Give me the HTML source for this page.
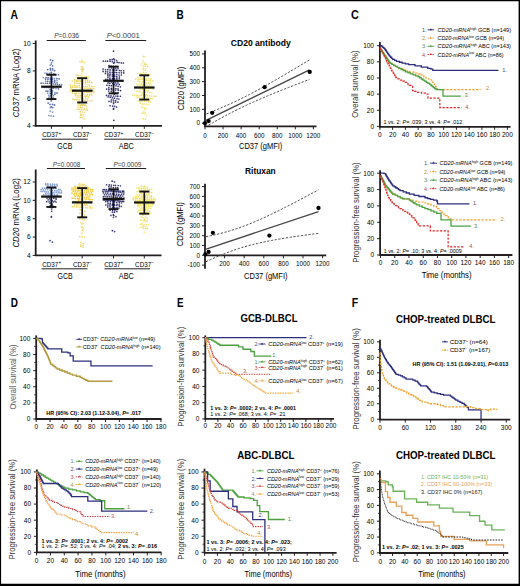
<!DOCTYPE html>
<html><head><meta charset="utf-8"><title>figure</title><style>html,body{margin:0;padding:0;background:#fff;width:520px;height:586px;overflow:hidden}</style></head><body><svg width="520" height="586" viewBox="0 0 520 586" font-family='"Liberation Sans", sans-serif' style="display:block">
<rect x="0" y="0" width="520" height="586" fill="#ffffff"/>
<text x="10.40" y="18.70" font-size="12.6" font-weight="bold" fill="#000" textLength="7.50" lengthAdjust="spacingAndGlyphs">A</text>
<text x="176.50" y="18.60" font-size="12.6" font-weight="bold" fill="#000" textLength="7.20" lengthAdjust="spacingAndGlyphs">B</text>
<text x="351.00" y="18.80" font-size="12.6" font-weight="bold" fill="#000" textLength="7.80" lengthAdjust="spacingAndGlyphs">C</text>
<text x="10.70" y="307.40" font-size="12.6" font-weight="bold" fill="#000" textLength="7.20" lengthAdjust="spacingAndGlyphs">D</text>
<text x="176.90" y="307.40" font-size="12.6" font-weight="bold" fill="#000" textLength="6.50" lengthAdjust="spacingAndGlyphs">E</text>
<text x="351.70" y="307.40" font-size="12.6" font-weight="bold" fill="#000" textLength="6.40" lengthAdjust="spacingAndGlyphs">F</text>
<line x1="35.70" y1="40.50" x2="35.70" y2="126.50" stroke="#231f20" stroke-width="1.8" stroke-linecap="butt"/>
<line x1="32.70" y1="43.48" x2="35.70" y2="43.48" stroke="#231f20" stroke-width="1.0" stroke-linecap="butt"/>
<text x="30.70" y="45.86" font-size="6.6" text-anchor="end">10</text>
<line x1="32.70" y1="70.92" x2="35.70" y2="70.92" stroke="#231f20" stroke-width="1.0" stroke-linecap="butt"/>
<text x="30.70" y="73.30" font-size="6.6" text-anchor="end">8</text>
<line x1="32.70" y1="98.36" x2="35.70" y2="98.36" stroke="#231f20" stroke-width="1.0" stroke-linecap="butt"/>
<text x="30.70" y="100.74" font-size="6.6" text-anchor="end">6</text>
<line x1="32.70" y1="125.80" x2="35.70" y2="125.80" stroke="#231f20" stroke-width="1.0" stroke-linecap="butt"/>
<text x="30.70" y="128.18" font-size="6.6" text-anchor="end">4</text>
<line x1="35.00" y1="125.80" x2="162.00" y2="125.80" stroke="#231f20" stroke-width="1.8" stroke-linecap="butt"/>
<line x1="51.40" y1="125.80" x2="51.40" y2="128.80" stroke="#231f20" stroke-width="1.0" stroke-linecap="butt"/>
<line x1="82.20" y1="125.80" x2="82.20" y2="128.80" stroke="#231f20" stroke-width="1.0" stroke-linecap="butt"/>
<line x1="113.50" y1="125.80" x2="113.50" y2="128.80" stroke="#231f20" stroke-width="1.0" stroke-linecap="butt"/>
<line x1="144.30" y1="125.80" x2="144.30" y2="128.80" stroke="#231f20" stroke-width="1.0" stroke-linecap="butt"/>
<circle cx="50.55" cy="59.94" r="0.85" fill="#40589a" fill-opacity="0.9"/>
<circle cx="52.79" cy="60.63" r="0.85" fill="#40589a" fill-opacity="0.9"/>
<circle cx="51.67" cy="62.66" r="0.85" fill="#6a84bc" fill-opacity="0.9"/>
<circle cx="51.23" cy="64.17" r="0.85" fill="#6a84bc" fill-opacity="0.9"/>
<circle cx="50.09" cy="65.24" r="0.85" fill="#6a84bc" fill-opacity="0.9"/>
<circle cx="52.60" cy="65.83" r="0.85" fill="#40589a" fill-opacity="0.9"/>
<circle cx="50.48" cy="68.42" r="0.85" fill="#40589a" fill-opacity="0.9"/>
<circle cx="52.62" cy="68.76" r="0.85" fill="#40589a" fill-opacity="0.9"/>
<circle cx="47.78" cy="69.61" r="0.85" fill="#40589a" fill-opacity="0.9"/>
<circle cx="50.52" cy="69.95" r="0.85" fill="#40589a" fill-opacity="0.9"/>
<circle cx="52.68" cy="69.98" r="0.85" fill="#40589a" fill-opacity="0.9"/>
<circle cx="54.58" cy="70.67" r="0.85" fill="#40589a" fill-opacity="0.9"/>
<circle cx="51.30" cy="72.43" r="0.85" fill="#40589a" fill-opacity="0.9"/>
<circle cx="44.93" cy="73.02" r="0.85" fill="#6a84bc" fill-opacity="0.9"/>
<circle cx="46.84" cy="73.35" r="0.85" fill="#40589a" fill-opacity="0.9"/>
<circle cx="49.28" cy="73.45" r="0.85" fill="#6a84bc" fill-opacity="0.9"/>
<circle cx="51.18" cy="73.46" r="0.85" fill="#6a84bc" fill-opacity="0.9"/>
<circle cx="53.89" cy="73.77" r="0.85" fill="#40589a" fill-opacity="0.9"/>
<circle cx="55.69" cy="74.68" r="0.85" fill="#40589a" fill-opacity="0.9"/>
<circle cx="58.44" cy="74.73" r="0.85" fill="#40589a" fill-opacity="0.9"/>
<circle cx="51.31" cy="75.11" r="0.85" fill="#40589a" fill-opacity="0.9"/>
<circle cx="43.30" cy="77.53" r="0.85" fill="#6a84bc" fill-opacity="0.9"/>
<circle cx="46.06" cy="77.60" r="0.85" fill="#40589a" fill-opacity="0.9"/>
<circle cx="48.04" cy="77.86" r="0.85" fill="#40589a" fill-opacity="0.9"/>
<circle cx="50.24" cy="77.98" r="0.85" fill="#40589a" fill-opacity="0.9"/>
<circle cx="52.72" cy="78.04" r="0.85" fill="#6a84bc" fill-opacity="0.9"/>
<circle cx="54.63" cy="78.60" r="0.85" fill="#6a84bc" fill-opacity="0.9"/>
<circle cx="56.87" cy="78.65" r="0.85" fill="#40589a" fill-opacity="0.9"/>
<circle cx="59.13" cy="78.78" r="0.85" fill="#40589a" fill-opacity="0.9"/>
<circle cx="45.55" cy="79.03" r="0.85" fill="#40589a" fill-opacity="0.9"/>
<circle cx="47.94" cy="79.29" r="0.85" fill="#40589a" fill-opacity="0.9"/>
<circle cx="50.33" cy="79.54" r="0.85" fill="#40589a" fill-opacity="0.9"/>
<circle cx="52.48" cy="79.72" r="0.85" fill="#40589a" fill-opacity="0.9"/>
<circle cx="54.78" cy="80.62" r="0.85" fill="#40589a" fill-opacity="0.9"/>
<circle cx="57.04" cy="80.76" r="0.85" fill="#6a84bc" fill-opacity="0.9"/>
<circle cx="45.74" cy="81.18" r="0.85" fill="#6a84bc" fill-opacity="0.9"/>
<circle cx="47.73" cy="81.30" r="0.85" fill="#40589a" fill-opacity="0.9"/>
<circle cx="50.08" cy="81.63" r="0.85" fill="#40589a" fill-opacity="0.9"/>
<circle cx="52.66" cy="81.73" r="0.85" fill="#40589a" fill-opacity="0.9"/>
<circle cx="54.67" cy="82.15" r="0.85" fill="#40589a" fill-opacity="0.9"/>
<circle cx="57.06" cy="82.82" r="0.85" fill="#40589a" fill-opacity="0.9"/>
<circle cx="41.16" cy="83.21" r="0.85" fill="#40589a" fill-opacity="0.9"/>
<circle cx="43.25" cy="83.22" r="0.85" fill="#6a84bc" fill-opacity="0.9"/>
<circle cx="45.56" cy="83.27" r="0.85" fill="#40589a" fill-opacity="0.9"/>
<circle cx="47.44" cy="83.28" r="0.85" fill="#40589a" fill-opacity="0.9"/>
<circle cx="49.65" cy="83.35" r="0.85" fill="#40589a" fill-opacity="0.9"/>
<circle cx="51.47" cy="83.36" r="0.85" fill="#40589a" fill-opacity="0.9"/>
<circle cx="53.41" cy="84.02" r="0.85" fill="#40589a" fill-opacity="0.9"/>
<circle cx="55.37" cy="84.10" r="0.85" fill="#40589a" fill-opacity="0.9"/>
<circle cx="57.39" cy="84.50" r="0.85" fill="#40589a" fill-opacity="0.9"/>
<circle cx="59.52" cy="84.71" r="0.85" fill="#40589a" fill-opacity="0.9"/>
<circle cx="61.67" cy="84.72" r="0.85" fill="#6a84bc" fill-opacity="0.9"/>
<circle cx="50.31" cy="86.32" r="0.85" fill="#40589a" fill-opacity="0.9"/>
<circle cx="52.73" cy="86.69" r="0.85" fill="#6a84bc" fill-opacity="0.9"/>
<circle cx="44.42" cy="87.34" r="0.85" fill="#40589a" fill-opacity="0.9"/>
<circle cx="46.64" cy="87.57" r="0.85" fill="#6a84bc" fill-opacity="0.9"/>
<circle cx="48.89" cy="87.58" r="0.85" fill="#40589a" fill-opacity="0.9"/>
<circle cx="51.57" cy="88.09" r="0.85" fill="#40589a" fill-opacity="0.9"/>
<circle cx="53.44" cy="88.19" r="0.85" fill="#40589a" fill-opacity="0.9"/>
<circle cx="56.00" cy="88.58" r="0.85" fill="#6a84bc" fill-opacity="0.9"/>
<circle cx="58.38" cy="88.80" r="0.85" fill="#40589a" fill-opacity="0.9"/>
<circle cx="50.11" cy="89.68" r="0.85" fill="#40589a" fill-opacity="0.9"/>
<circle cx="52.46" cy="90.87" r="0.85" fill="#40589a" fill-opacity="0.9"/>
<circle cx="46.07" cy="91.11" r="0.85" fill="#40589a" fill-opacity="0.9"/>
<circle cx="47.82" cy="91.20" r="0.85" fill="#40589a" fill-opacity="0.9"/>
<circle cx="50.28" cy="91.64" r="0.85" fill="#6a84bc" fill-opacity="0.9"/>
<circle cx="52.34" cy="91.91" r="0.85" fill="#6a84bc" fill-opacity="0.9"/>
<circle cx="54.91" cy="92.50" r="0.85" fill="#6a84bc" fill-opacity="0.9"/>
<circle cx="57.06" cy="92.92" r="0.85" fill="#40589a" fill-opacity="0.9"/>
<circle cx="47.74" cy="93.25" r="0.85" fill="#6a84bc" fill-opacity="0.9"/>
<circle cx="50.35" cy="93.51" r="0.85" fill="#40589a" fill-opacity="0.9"/>
<circle cx="52.26" cy="94.00" r="0.85" fill="#40589a" fill-opacity="0.9"/>
<circle cx="54.95" cy="94.13" r="0.85" fill="#40589a" fill-opacity="0.9"/>
<circle cx="48.91" cy="95.26" r="0.85" fill="#6a84bc" fill-opacity="0.9"/>
<circle cx="51.12" cy="95.57" r="0.85" fill="#40589a" fill-opacity="0.9"/>
<circle cx="53.51" cy="95.69" r="0.85" fill="#6a84bc" fill-opacity="0.9"/>
<circle cx="49.10" cy="97.00" r="0.85" fill="#40589a" fill-opacity="0.9"/>
<circle cx="51.59" cy="97.05" r="0.85" fill="#6a84bc" fill-opacity="0.9"/>
<circle cx="53.44" cy="98.14" r="0.85" fill="#40589a" fill-opacity="0.9"/>
<circle cx="51.44" cy="100.09" r="0.85" fill="#40589a" fill-opacity="0.9"/>
<circle cx="51.15" cy="101.07" r="0.85" fill="#6a84bc" fill-opacity="0.9"/>
<circle cx="48.14" cy="103.05" r="0.85" fill="#40589a" fill-opacity="0.9"/>
<circle cx="50.02" cy="104.40" r="0.85" fill="#40589a" fill-opacity="0.9"/>
<circle cx="52.61" cy="104.45" r="0.85" fill="#40589a" fill-opacity="0.9"/>
<circle cx="54.53" cy="104.88" r="0.85" fill="#40589a" fill-opacity="0.9"/>
<circle cx="51.14" cy="106.96" r="0.85" fill="#40589a" fill-opacity="0.9"/>
<circle cx="50.25" cy="107.55" r="0.85" fill="#6a84bc" fill-opacity="0.9"/>
<circle cx="52.56" cy="107.58" r="0.85" fill="#40589a" fill-opacity="0.9"/>
<circle cx="50.14" cy="111.10" r="0.85" fill="#6a84bc" fill-opacity="0.9"/>
<circle cx="52.54" cy="112.04" r="0.85" fill="#6a84bc" fill-opacity="0.9"/>
<circle cx="48.92" cy="115.51" r="0.85" fill="#6a84bc" fill-opacity="0.9"/>
<circle cx="51.13" cy="115.92" r="0.85" fill="#6a84bc" fill-opacity="0.9"/>
<circle cx="53.54" cy="116.20" r="0.85" fill="#6a84bc" fill-opacity="0.9"/>
<circle cx="82.30" cy="60.64" r="0.85" fill="#f0da74" fill-opacity="0.95"/>
<circle cx="80.02" cy="61.71" r="0.85" fill="#f0da74" fill-opacity="0.95"/>
<circle cx="82.00" cy="62.16" r="0.85" fill="#f0da74" fill-opacity="0.95"/>
<circle cx="84.17" cy="62.46" r="0.85" fill="#f0da74" fill-opacity="0.95"/>
<circle cx="82.47" cy="66.65" r="0.85" fill="#f0da74" fill-opacity="0.95"/>
<circle cx="81.43" cy="67.11" r="0.85" fill="#f0da74" fill-opacity="0.95"/>
<circle cx="83.16" cy="68.31" r="0.85" fill="#e8cc50" fill-opacity="0.95"/>
<circle cx="81.34" cy="69.46" r="0.85" fill="#e8cc50" fill-opacity="0.95"/>
<circle cx="82.98" cy="69.62" r="0.85" fill="#e8cc50" fill-opacity="0.95"/>
<circle cx="82.12" cy="71.30" r="0.85" fill="#e8cc50" fill-opacity="0.95"/>
<circle cx="82.02" cy="73.47" r="0.85" fill="#f0da74" fill-opacity="0.95"/>
<circle cx="76.14" cy="75.02" r="0.85" fill="#f0da74" fill-opacity="0.95"/>
<circle cx="77.95" cy="75.46" r="0.85" fill="#e8cc50" fill-opacity="0.95"/>
<circle cx="80.26" cy="75.49" r="0.85" fill="#f0da74" fill-opacity="0.95"/>
<circle cx="81.92" cy="76.31" r="0.85" fill="#f0da74" fill-opacity="0.95"/>
<circle cx="84.55" cy="76.51" r="0.85" fill="#f0da74" fill-opacity="0.95"/>
<circle cx="86.55" cy="76.51" r="0.85" fill="#e8cc50" fill-opacity="0.95"/>
<circle cx="88.40" cy="76.90" r="0.85" fill="#f0da74" fill-opacity="0.95"/>
<circle cx="77.22" cy="77.62" r="0.85" fill="#e8cc50" fill-opacity="0.95"/>
<circle cx="78.91" cy="77.94" r="0.85" fill="#e8cc50" fill-opacity="0.95"/>
<circle cx="81.04" cy="78.10" r="0.85" fill="#f0da74" fill-opacity="0.95"/>
<circle cx="82.95" cy="78.46" r="0.85" fill="#e8cc50" fill-opacity="0.95"/>
<circle cx="85.60" cy="78.73" r="0.85" fill="#e8cc50" fill-opacity="0.95"/>
<circle cx="87.72" cy="78.92" r="0.85" fill="#f0da74" fill-opacity="0.95"/>
<circle cx="74.69" cy="79.77" r="0.85" fill="#e8cc50" fill-opacity="0.95"/>
<circle cx="77.22" cy="79.98" r="0.85" fill="#e8cc50" fill-opacity="0.95"/>
<circle cx="78.98" cy="80.11" r="0.85" fill="#f0da74" fill-opacity="0.95"/>
<circle cx="81.11" cy="80.31" r="0.85" fill="#e8cc50" fill-opacity="0.95"/>
<circle cx="83.51" cy="80.59" r="0.85" fill="#f0da74" fill-opacity="0.95"/>
<circle cx="85.53" cy="80.60" r="0.85" fill="#e8cc50" fill-opacity="0.95"/>
<circle cx="87.64" cy="80.73" r="0.85" fill="#e8cc50" fill-opacity="0.95"/>
<circle cx="89.61" cy="80.86" r="0.85" fill="#f0da74" fill-opacity="0.95"/>
<circle cx="72.64" cy="81.01" r="0.85" fill="#f0da74" fill-opacity="0.95"/>
<circle cx="75.02" cy="81.13" r="0.85" fill="#f0da74" fill-opacity="0.95"/>
<circle cx="76.77" cy="81.18" r="0.85" fill="#e8cc50" fill-opacity="0.95"/>
<circle cx="78.90" cy="81.24" r="0.85" fill="#f0da74" fill-opacity="0.95"/>
<circle cx="80.87" cy="81.45" r="0.85" fill="#e8cc50" fill-opacity="0.95"/>
<circle cx="83.15" cy="82.07" r="0.85" fill="#e8cc50" fill-opacity="0.95"/>
<circle cx="85.58" cy="82.14" r="0.85" fill="#e8cc50" fill-opacity="0.95"/>
<circle cx="87.31" cy="82.24" r="0.85" fill="#f0da74" fill-opacity="0.95"/>
<circle cx="89.31" cy="82.45" r="0.85" fill="#e8cc50" fill-opacity="0.95"/>
<circle cx="91.78" cy="82.65" r="0.85" fill="#e8cc50" fill-opacity="0.95"/>
<circle cx="74.69" cy="83.03" r="0.85" fill="#e8cc50" fill-opacity="0.95"/>
<circle cx="77.02" cy="83.30" r="0.85" fill="#e8cc50" fill-opacity="0.95"/>
<circle cx="79.20" cy="83.42" r="0.85" fill="#e8cc50" fill-opacity="0.95"/>
<circle cx="81.25" cy="83.67" r="0.85" fill="#f0da74" fill-opacity="0.95"/>
<circle cx="83.45" cy="83.74" r="0.85" fill="#f0da74" fill-opacity="0.95"/>
<circle cx="85.39" cy="83.75" r="0.85" fill="#f0da74" fill-opacity="0.95"/>
<circle cx="87.59" cy="84.49" r="0.85" fill="#f0da74" fill-opacity="0.95"/>
<circle cx="89.40" cy="84.90" r="0.85" fill="#f0da74" fill-opacity="0.95"/>
<circle cx="70.49" cy="85.19" r="0.85" fill="#e8cc50" fill-opacity="0.95"/>
<circle cx="72.84" cy="85.68" r="0.85" fill="#f0da74" fill-opacity="0.95"/>
<circle cx="74.82" cy="85.72" r="0.85" fill="#e8cc50" fill-opacity="0.95"/>
<circle cx="76.98" cy="85.75" r="0.85" fill="#f0da74" fill-opacity="0.95"/>
<circle cx="79.25" cy="85.75" r="0.85" fill="#e8cc50" fill-opacity="0.95"/>
<circle cx="81.45" cy="85.91" r="0.85" fill="#f0da74" fill-opacity="0.95"/>
<circle cx="83.23" cy="86.17" r="0.85" fill="#e8cc50" fill-opacity="0.95"/>
<circle cx="85.54" cy="86.42" r="0.85" fill="#e8cc50" fill-opacity="0.95"/>
<circle cx="87.15" cy="86.50" r="0.85" fill="#f0da74" fill-opacity="0.95"/>
<circle cx="89.29" cy="86.53" r="0.85" fill="#f0da74" fill-opacity="0.95"/>
<circle cx="91.89" cy="86.56" r="0.85" fill="#e8cc50" fill-opacity="0.95"/>
<circle cx="93.96" cy="86.72" r="0.85" fill="#f0da74" fill-opacity="0.95"/>
<circle cx="70.92" cy="87.17" r="0.85" fill="#e8cc50" fill-opacity="0.95"/>
<circle cx="72.33" cy="87.21" r="0.85" fill="#e8cc50" fill-opacity="0.95"/>
<circle cx="74.51" cy="87.26" r="0.85" fill="#f0da74" fill-opacity="0.95"/>
<circle cx="76.07" cy="87.32" r="0.85" fill="#e8cc50" fill-opacity="0.95"/>
<circle cx="77.61" cy="87.35" r="0.85" fill="#f0da74" fill-opacity="0.95"/>
<circle cx="79.33" cy="87.36" r="0.85" fill="#f0da74" fill-opacity="0.95"/>
<circle cx="81.17" cy="87.99" r="0.85" fill="#e8cc50" fill-opacity="0.95"/>
<circle cx="83.18" cy="88.04" r="0.85" fill="#f0da74" fill-opacity="0.95"/>
<circle cx="84.56" cy="88.16" r="0.85" fill="#f0da74" fill-opacity="0.95"/>
<circle cx="86.73" cy="88.30" r="0.85" fill="#f0da74" fill-opacity="0.95"/>
<circle cx="88.28" cy="88.31" r="0.85" fill="#f0da74" fill-opacity="0.95"/>
<circle cx="90.34" cy="88.40" r="0.85" fill="#e8cc50" fill-opacity="0.95"/>
<circle cx="91.67" cy="88.53" r="0.85" fill="#f0da74" fill-opacity="0.95"/>
<circle cx="93.64" cy="88.57" r="0.85" fill="#e8cc50" fill-opacity="0.95"/>
<circle cx="70.78" cy="89.04" r="0.85" fill="#f0da74" fill-opacity="0.95"/>
<circle cx="71.78" cy="89.26" r="0.85" fill="#e8cc50" fill-opacity="0.95"/>
<circle cx="73.20" cy="89.88" r="0.85" fill="#f0da74" fill-opacity="0.95"/>
<circle cx="74.42" cy="89.93" r="0.85" fill="#e8cc50" fill-opacity="0.95"/>
<circle cx="75.70" cy="90.17" r="0.85" fill="#e8cc50" fill-opacity="0.95"/>
<circle cx="77.00" cy="90.32" r="0.85" fill="#e8cc50" fill-opacity="0.95"/>
<circle cx="78.59" cy="90.35" r="0.85" fill="#e8cc50" fill-opacity="0.95"/>
<circle cx="79.56" cy="90.41" r="0.85" fill="#f0da74" fill-opacity="0.95"/>
<circle cx="81.06" cy="90.43" r="0.85" fill="#f0da74" fill-opacity="0.95"/>
<circle cx="81.90" cy="90.45" r="0.85" fill="#e8cc50" fill-opacity="0.95"/>
<circle cx="83.43" cy="90.46" r="0.85" fill="#e8cc50" fill-opacity="0.95"/>
<circle cx="84.70" cy="90.50" r="0.85" fill="#e8cc50" fill-opacity="0.95"/>
<circle cx="86.01" cy="90.59" r="0.85" fill="#f0da74" fill-opacity="0.95"/>
<circle cx="87.02" cy="90.60" r="0.85" fill="#e8cc50" fill-opacity="0.95"/>
<circle cx="88.67" cy="90.68" r="0.85" fill="#e8cc50" fill-opacity="0.95"/>
<circle cx="89.62" cy="90.81" r="0.85" fill="#e8cc50" fill-opacity="0.95"/>
<circle cx="91.07" cy="90.81" r="0.85" fill="#e8cc50" fill-opacity="0.95"/>
<circle cx="92.21" cy="90.96" r="0.85" fill="#f0da74" fill-opacity="0.95"/>
<circle cx="93.71" cy="90.99" r="0.85" fill="#e8cc50" fill-opacity="0.95"/>
<circle cx="70.47" cy="91.08" r="0.85" fill="#e8cc50" fill-opacity="0.95"/>
<circle cx="72.80" cy="91.28" r="0.85" fill="#e8cc50" fill-opacity="0.95"/>
<circle cx="74.35" cy="91.38" r="0.85" fill="#f0da74" fill-opacity="0.95"/>
<circle cx="76.72" cy="91.41" r="0.85" fill="#e8cc50" fill-opacity="0.95"/>
<circle cx="78.36" cy="91.56" r="0.85" fill="#f0da74" fill-opacity="0.95"/>
<circle cx="80.54" cy="91.83" r="0.85" fill="#f0da74" fill-opacity="0.95"/>
<circle cx="82.44" cy="92.08" r="0.85" fill="#e8cc50" fill-opacity="0.95"/>
<circle cx="84.31" cy="92.23" r="0.85" fill="#f0da74" fill-opacity="0.95"/>
<circle cx="86.20" cy="92.24" r="0.85" fill="#f0da74" fill-opacity="0.95"/>
<circle cx="87.89" cy="92.44" r="0.85" fill="#e8cc50" fill-opacity="0.95"/>
<circle cx="90.06" cy="92.70" r="0.85" fill="#f0da74" fill-opacity="0.95"/>
<circle cx="91.61" cy="92.78" r="0.85" fill="#f0da74" fill-opacity="0.95"/>
<circle cx="93.71" cy="92.86" r="0.85" fill="#f0da74" fill-opacity="0.95"/>
<circle cx="72.52" cy="93.22" r="0.85" fill="#f0da74" fill-opacity="0.95"/>
<circle cx="74.98" cy="93.40" r="0.85" fill="#e8cc50" fill-opacity="0.95"/>
<circle cx="76.67" cy="93.53" r="0.85" fill="#e8cc50" fill-opacity="0.95"/>
<circle cx="79.20" cy="93.57" r="0.85" fill="#f0da74" fill-opacity="0.95"/>
<circle cx="81.35" cy="93.79" r="0.85" fill="#f0da74" fill-opacity="0.95"/>
<circle cx="83.31" cy="94.10" r="0.85" fill="#e8cc50" fill-opacity="0.95"/>
<circle cx="85.43" cy="94.86" r="0.85" fill="#f0da74" fill-opacity="0.95"/>
<circle cx="87.40" cy="94.88" r="0.85" fill="#e8cc50" fill-opacity="0.95"/>
<circle cx="89.51" cy="94.90" r="0.85" fill="#e8cc50" fill-opacity="0.95"/>
<circle cx="91.62" cy="95.00" r="0.85" fill="#e8cc50" fill-opacity="0.95"/>
<circle cx="75.61" cy="95.42" r="0.85" fill="#e8cc50" fill-opacity="0.95"/>
<circle cx="77.99" cy="95.61" r="0.85" fill="#f0da74" fill-opacity="0.95"/>
<circle cx="80.26" cy="95.68" r="0.85" fill="#e8cc50" fill-opacity="0.95"/>
<circle cx="82.17" cy="95.82" r="0.85" fill="#f0da74" fill-opacity="0.95"/>
<circle cx="84.28" cy="96.23" r="0.85" fill="#f0da74" fill-opacity="0.95"/>
<circle cx="86.18" cy="96.44" r="0.85" fill="#e8cc50" fill-opacity="0.95"/>
<circle cx="88.26" cy="96.86" r="0.85" fill="#e8cc50" fill-opacity="0.95"/>
<circle cx="76.96" cy="97.13" r="0.85" fill="#f0da74" fill-opacity="0.95"/>
<circle cx="79.13" cy="97.47" r="0.85" fill="#f0da74" fill-opacity="0.95"/>
<circle cx="81.29" cy="97.79" r="0.85" fill="#e8cc50" fill-opacity="0.95"/>
<circle cx="83.26" cy="98.13" r="0.85" fill="#f0da74" fill-opacity="0.95"/>
<circle cx="85.35" cy="98.41" r="0.85" fill="#f0da74" fill-opacity="0.95"/>
<circle cx="87.72" cy="98.82" r="0.85" fill="#f0da74" fill-opacity="0.95"/>
<circle cx="72.96" cy="99.13" r="0.85" fill="#e8cc50" fill-opacity="0.95"/>
<circle cx="74.99" cy="99.49" r="0.85" fill="#e8cc50" fill-opacity="0.95"/>
<circle cx="76.77" cy="99.71" r="0.85" fill="#e8cc50" fill-opacity="0.95"/>
<circle cx="79.05" cy="99.74" r="0.85" fill="#e8cc50" fill-opacity="0.95"/>
<circle cx="81.40" cy="99.96" r="0.85" fill="#f0da74" fill-opacity="0.95"/>
<circle cx="83.42" cy="100.12" r="0.85" fill="#e8cc50" fill-opacity="0.95"/>
<circle cx="85.09" cy="100.16" r="0.85" fill="#f0da74" fill-opacity="0.95"/>
<circle cx="87.60" cy="100.63" r="0.85" fill="#f0da74" fill-opacity="0.95"/>
<circle cx="89.79" cy="100.86" r="0.85" fill="#f0da74" fill-opacity="0.95"/>
<circle cx="91.84" cy="100.89" r="0.85" fill="#f0da74" fill-opacity="0.95"/>
<circle cx="79.05" cy="101.78" r="0.85" fill="#e8cc50" fill-opacity="0.95"/>
<circle cx="80.97" cy="102.12" r="0.85" fill="#f0da74" fill-opacity="0.95"/>
<circle cx="83.25" cy="102.54" r="0.85" fill="#f0da74" fill-opacity="0.95"/>
<circle cx="85.07" cy="102.58" r="0.85" fill="#f0da74" fill-opacity="0.95"/>
<circle cx="78.85" cy="103.66" r="0.85" fill="#e8cc50" fill-opacity="0.95"/>
<circle cx="81.26" cy="104.35" r="0.85" fill="#e8cc50" fill-opacity="0.95"/>
<circle cx="83.05" cy="104.55" r="0.85" fill="#e8cc50" fill-opacity="0.95"/>
<circle cx="85.12" cy="105.00" r="0.85" fill="#e8cc50" fill-opacity="0.95"/>
<circle cx="78.08" cy="105.15" r="0.85" fill="#f0da74" fill-opacity="0.95"/>
<circle cx="80.32" cy="105.17" r="0.85" fill="#e8cc50" fill-opacity="0.95"/>
<circle cx="82.25" cy="105.24" r="0.85" fill="#e8cc50" fill-opacity="0.95"/>
<circle cx="84.06" cy="105.31" r="0.85" fill="#e8cc50" fill-opacity="0.95"/>
<circle cx="86.48" cy="106.41" r="0.85" fill="#f0da74" fill-opacity="0.95"/>
<circle cx="78.18" cy="107.02" r="0.85" fill="#f0da74" fill-opacity="0.95"/>
<circle cx="80.39" cy="107.33" r="0.85" fill="#e8cc50" fill-opacity="0.95"/>
<circle cx="82.12" cy="107.60" r="0.85" fill="#e8cc50" fill-opacity="0.95"/>
<circle cx="84.27" cy="108.89" r="0.85" fill="#f0da74" fill-opacity="0.95"/>
<circle cx="86.55" cy="108.96" r="0.85" fill="#f0da74" fill-opacity="0.95"/>
<circle cx="77.14" cy="109.09" r="0.85" fill="#f0da74" fill-opacity="0.95"/>
<circle cx="79.13" cy="109.20" r="0.85" fill="#e8cc50" fill-opacity="0.95"/>
<circle cx="81.20" cy="109.54" r="0.85" fill="#e8cc50" fill-opacity="0.95"/>
<circle cx="83.14" cy="109.73" r="0.85" fill="#f0da74" fill-opacity="0.95"/>
<circle cx="85.07" cy="110.01" r="0.85" fill="#f0da74" fill-opacity="0.95"/>
<circle cx="87.52" cy="110.36" r="0.85" fill="#e8cc50" fill-opacity="0.95"/>
<circle cx="80.11" cy="111.76" r="0.85" fill="#e8cc50" fill-opacity="0.95"/>
<circle cx="81.98" cy="112.01" r="0.85" fill="#f0da74" fill-opacity="0.95"/>
<circle cx="84.39" cy="112.47" r="0.85" fill="#f0da74" fill-opacity="0.95"/>
<circle cx="80.85" cy="114.20" r="0.85" fill="#f0da74" fill-opacity="0.95"/>
<circle cx="83.01" cy="114.37" r="0.85" fill="#f0da74" fill-opacity="0.95"/>
<circle cx="80.98" cy="115.14" r="0.85" fill="#e8cc50" fill-opacity="0.95"/>
<circle cx="83.30" cy="115.78" r="0.85" fill="#f0da74" fill-opacity="0.95"/>
<circle cx="80.17" cy="117.26" r="0.85" fill="#e8cc50" fill-opacity="0.95"/>
<circle cx="81.98" cy="117.69" r="0.85" fill="#e8cc50" fill-opacity="0.95"/>
<circle cx="84.15" cy="118.92" r="0.85" fill="#f0da74" fill-opacity="0.95"/>
<circle cx="113.51" cy="51.13" r="0.85" fill="#1c1c58" fill-opacity="0.9"/>
<circle cx="113.70" cy="58.93" r="0.85" fill="#1c1c58" fill-opacity="0.9"/>
<circle cx="110.07" cy="59.49" r="0.85" fill="#1c1c58" fill-opacity="0.9"/>
<circle cx="112.20" cy="59.57" r="0.85" fill="#1c1c58" fill-opacity="0.9"/>
<circle cx="114.56" cy="59.82" r="0.85" fill="#1c1c58" fill-opacity="0.9"/>
<circle cx="116.65" cy="60.52" r="0.85" fill="#1c1c58" fill-opacity="0.9"/>
<circle cx="103.29" cy="61.18" r="0.85" fill="#34347a" fill-opacity="0.9"/>
<circle cx="105.49" cy="61.20" r="0.85" fill="#34347a" fill-opacity="0.9"/>
<circle cx="107.58" cy="61.21" r="0.85" fill="#1c1c58" fill-opacity="0.9"/>
<circle cx="110.08" cy="61.22" r="0.85" fill="#1c1c58" fill-opacity="0.9"/>
<circle cx="112.29" cy="61.65" r="0.85" fill="#34347a" fill-opacity="0.9"/>
<circle cx="114.46" cy="62.19" r="0.85" fill="#1c1c58" fill-opacity="0.9"/>
<circle cx="117.14" cy="62.35" r="0.85" fill="#1c1c58" fill-opacity="0.9"/>
<circle cx="118.96" cy="62.54" r="0.85" fill="#1c1c58" fill-opacity="0.9"/>
<circle cx="121.31" cy="62.96" r="0.85" fill="#34347a" fill-opacity="0.9"/>
<circle cx="123.40" cy="62.99" r="0.85" fill="#1c1c58" fill-opacity="0.9"/>
<circle cx="113.69" cy="63.21" r="0.85" fill="#1c1c58" fill-opacity="0.9"/>
<circle cx="108.98" cy="65.63" r="0.85" fill="#1c1c58" fill-opacity="0.9"/>
<circle cx="111.09" cy="66.11" r="0.85" fill="#1c1c58" fill-opacity="0.9"/>
<circle cx="113.41" cy="66.28" r="0.85" fill="#1c1c58" fill-opacity="0.9"/>
<circle cx="115.94" cy="66.41" r="0.85" fill="#1c1c58" fill-opacity="0.9"/>
<circle cx="117.98" cy="66.63" r="0.85" fill="#34347a" fill-opacity="0.9"/>
<circle cx="109.03" cy="67.73" r="0.85" fill="#34347a" fill-opacity="0.9"/>
<circle cx="111.45" cy="67.90" r="0.85" fill="#34347a" fill-opacity="0.9"/>
<circle cx="113.71" cy="68.09" r="0.85" fill="#34347a" fill-opacity="0.9"/>
<circle cx="115.68" cy="68.36" r="0.85" fill="#34347a" fill-opacity="0.9"/>
<circle cx="117.96" cy="68.60" r="0.85" fill="#34347a" fill-opacity="0.9"/>
<circle cx="103.08" cy="69.04" r="0.85" fill="#1c1c58" fill-opacity="0.9"/>
<circle cx="105.49" cy="69.69" r="0.85" fill="#34347a" fill-opacity="0.9"/>
<circle cx="107.76" cy="69.72" r="0.85" fill="#1c1c58" fill-opacity="0.9"/>
<circle cx="110.08" cy="69.92" r="0.85" fill="#1c1c58" fill-opacity="0.9"/>
<circle cx="112.47" cy="69.95" r="0.85" fill="#34347a" fill-opacity="0.9"/>
<circle cx="114.88" cy="70.00" r="0.85" fill="#1c1c58" fill-opacity="0.9"/>
<circle cx="116.61" cy="70.16" r="0.85" fill="#1c1c58" fill-opacity="0.9"/>
<circle cx="119.37" cy="70.48" r="0.85" fill="#1c1c58" fill-opacity="0.9"/>
<circle cx="121.16" cy="70.75" r="0.85" fill="#1c1c58" fill-opacity="0.9"/>
<circle cx="123.70" cy="70.86" r="0.85" fill="#34347a" fill-opacity="0.9"/>
<circle cx="103.08" cy="71.47" r="0.85" fill="#1c1c58" fill-opacity="0.9"/>
<circle cx="105.72" cy="71.61" r="0.85" fill="#34347a" fill-opacity="0.9"/>
<circle cx="107.64" cy="71.90" r="0.85" fill="#34347a" fill-opacity="0.9"/>
<circle cx="109.97" cy="72.16" r="0.85" fill="#1c1c58" fill-opacity="0.9"/>
<circle cx="112.28" cy="72.25" r="0.85" fill="#34347a" fill-opacity="0.9"/>
<circle cx="114.87" cy="72.33" r="0.85" fill="#1c1c58" fill-opacity="0.9"/>
<circle cx="116.68" cy="72.54" r="0.85" fill="#1c1c58" fill-opacity="0.9"/>
<circle cx="119.19" cy="72.74" r="0.85" fill="#1c1c58" fill-opacity="0.9"/>
<circle cx="121.48" cy="72.81" r="0.85" fill="#1c1c58" fill-opacity="0.9"/>
<circle cx="123.80" cy="72.96" r="0.85" fill="#1c1c58" fill-opacity="0.9"/>
<circle cx="105.44" cy="73.44" r="0.85" fill="#1c1c58" fill-opacity="0.9"/>
<circle cx="107.89" cy="73.81" r="0.85" fill="#1c1c58" fill-opacity="0.9"/>
<circle cx="110.09" cy="74.20" r="0.85" fill="#1c1c58" fill-opacity="0.9"/>
<circle cx="112.41" cy="74.40" r="0.85" fill="#34347a" fill-opacity="0.9"/>
<circle cx="114.47" cy="74.52" r="0.85" fill="#34347a" fill-opacity="0.9"/>
<circle cx="116.87" cy="74.59" r="0.85" fill="#34347a" fill-opacity="0.9"/>
<circle cx="119.11" cy="74.99" r="0.85" fill="#34347a" fill-opacity="0.9"/>
<circle cx="121.37" cy="74.99" r="0.85" fill="#1c1c58" fill-opacity="0.9"/>
<circle cx="107.90" cy="75.17" r="0.85" fill="#1c1c58" fill-opacity="0.9"/>
<circle cx="109.83" cy="75.80" r="0.85" fill="#1c1c58" fill-opacity="0.9"/>
<circle cx="112.36" cy="76.10" r="0.85" fill="#1c1c58" fill-opacity="0.9"/>
<circle cx="114.72" cy="76.19" r="0.85" fill="#1c1c58" fill-opacity="0.9"/>
<circle cx="116.80" cy="76.72" r="0.85" fill="#1c1c58" fill-opacity="0.9"/>
<circle cx="119.40" cy="76.96" r="0.85" fill="#34347a" fill-opacity="0.9"/>
<circle cx="107.96" cy="77.14" r="0.85" fill="#1c1c58" fill-opacity="0.9"/>
<circle cx="109.84" cy="78.06" r="0.85" fill="#1c1c58" fill-opacity="0.9"/>
<circle cx="112.48" cy="78.27" r="0.85" fill="#1c1c58" fill-opacity="0.9"/>
<circle cx="114.52" cy="78.43" r="0.85" fill="#1c1c58" fill-opacity="0.9"/>
<circle cx="116.88" cy="78.45" r="0.85" fill="#1c1c58" fill-opacity="0.9"/>
<circle cx="119.36" cy="78.47" r="0.85" fill="#34347a" fill-opacity="0.9"/>
<circle cx="105.76" cy="79.37" r="0.85" fill="#1c1c58" fill-opacity="0.9"/>
<circle cx="107.78" cy="79.41" r="0.85" fill="#1c1c58" fill-opacity="0.9"/>
<circle cx="110.04" cy="79.45" r="0.85" fill="#1c1c58" fill-opacity="0.9"/>
<circle cx="112.39" cy="79.49" r="0.85" fill="#1c1c58" fill-opacity="0.9"/>
<circle cx="114.45" cy="79.74" r="0.85" fill="#1c1c58" fill-opacity="0.9"/>
<circle cx="116.83" cy="80.08" r="0.85" fill="#1c1c58" fill-opacity="0.9"/>
<circle cx="119.32" cy="80.36" r="0.85" fill="#34347a" fill-opacity="0.9"/>
<circle cx="121.57" cy="80.72" r="0.85" fill="#1c1c58" fill-opacity="0.9"/>
<circle cx="109.00" cy="81.66" r="0.85" fill="#34347a" fill-opacity="0.9"/>
<circle cx="111.25" cy="81.93" r="0.85" fill="#1c1c58" fill-opacity="0.9"/>
<circle cx="113.59" cy="82.44" r="0.85" fill="#1c1c58" fill-opacity="0.9"/>
<circle cx="115.65" cy="82.80" r="0.85" fill="#34347a" fill-opacity="0.9"/>
<circle cx="117.88" cy="82.88" r="0.85" fill="#1c1c58" fill-opacity="0.9"/>
<circle cx="107.96" cy="83.06" r="0.85" fill="#1c1c58" fill-opacity="0.9"/>
<circle cx="109.85" cy="83.27" r="0.85" fill="#1c1c58" fill-opacity="0.9"/>
<circle cx="112.61" cy="83.56" r="0.85" fill="#1c1c58" fill-opacity="0.9"/>
<circle cx="114.35" cy="84.24" r="0.85" fill="#34347a" fill-opacity="0.9"/>
<circle cx="116.58" cy="84.44" r="0.85" fill="#34347a" fill-opacity="0.9"/>
<circle cx="119.38" cy="84.50" r="0.85" fill="#1c1c58" fill-opacity="0.9"/>
<circle cx="106.84" cy="85.33" r="0.85" fill="#1c1c58" fill-opacity="0.9"/>
<circle cx="109.25" cy="85.36" r="0.85" fill="#1c1c58" fill-opacity="0.9"/>
<circle cx="111.32" cy="85.66" r="0.85" fill="#1c1c58" fill-opacity="0.9"/>
<circle cx="113.62" cy="85.67" r="0.85" fill="#1c1c58" fill-opacity="0.9"/>
<circle cx="115.86" cy="85.83" r="0.85" fill="#34347a" fill-opacity="0.9"/>
<circle cx="118.10" cy="86.36" r="0.85" fill="#1c1c58" fill-opacity="0.9"/>
<circle cx="120.41" cy="86.85" r="0.85" fill="#34347a" fill-opacity="0.9"/>
<circle cx="108.81" cy="87.48" r="0.85" fill="#34347a" fill-opacity="0.9"/>
<circle cx="111.41" cy="88.37" r="0.85" fill="#1c1c58" fill-opacity="0.9"/>
<circle cx="113.59" cy="88.39" r="0.85" fill="#34347a" fill-opacity="0.9"/>
<circle cx="115.94" cy="88.63" r="0.85" fill="#1c1c58" fill-opacity="0.9"/>
<circle cx="118.04" cy="88.75" r="0.85" fill="#34347a" fill-opacity="0.9"/>
<circle cx="106.63" cy="89.11" r="0.85" fill="#1c1c58" fill-opacity="0.9"/>
<circle cx="108.89" cy="89.17" r="0.85" fill="#1c1c58" fill-opacity="0.9"/>
<circle cx="111.34" cy="89.38" r="0.85" fill="#1c1c58" fill-opacity="0.9"/>
<circle cx="113.23" cy="90.06" r="0.85" fill="#1c1c58" fill-opacity="0.9"/>
<circle cx="115.47" cy="90.08" r="0.85" fill="#34347a" fill-opacity="0.9"/>
<circle cx="118.19" cy="90.21" r="0.85" fill="#1c1c58" fill-opacity="0.9"/>
<circle cx="120.50" cy="90.54" r="0.85" fill="#1c1c58" fill-opacity="0.9"/>
<circle cx="108.71" cy="91.03" r="0.85" fill="#34347a" fill-opacity="0.9"/>
<circle cx="111.31" cy="91.28" r="0.85" fill="#1c1c58" fill-opacity="0.9"/>
<circle cx="113.79" cy="92.11" r="0.85" fill="#1c1c58" fill-opacity="0.9"/>
<circle cx="115.70" cy="92.52" r="0.85" fill="#34347a" fill-opacity="0.9"/>
<circle cx="118.09" cy="92.57" r="0.85" fill="#34347a" fill-opacity="0.9"/>
<circle cx="112.17" cy="93.00" r="0.85" fill="#34347a" fill-opacity="0.9"/>
<circle cx="114.33" cy="94.20" r="0.85" fill="#1c1c58" fill-opacity="0.9"/>
<circle cx="106.52" cy="95.38" r="0.85" fill="#1c1c58" fill-opacity="0.9"/>
<circle cx="108.75" cy="95.84" r="0.85" fill="#1c1c58" fill-opacity="0.9"/>
<circle cx="111.03" cy="95.95" r="0.85" fill="#34347a" fill-opacity="0.9"/>
<circle cx="113.63" cy="96.11" r="0.85" fill="#34347a" fill-opacity="0.9"/>
<circle cx="115.89" cy="96.11" r="0.85" fill="#34347a" fill-opacity="0.9"/>
<circle cx="117.73" cy="96.14" r="0.85" fill="#1c1c58" fill-opacity="0.9"/>
<circle cx="120.38" cy="96.23" r="0.85" fill="#1c1c58" fill-opacity="0.9"/>
<circle cx="108.01" cy="97.01" r="0.85" fill="#34347a" fill-opacity="0.9"/>
<circle cx="110.20" cy="97.36" r="0.85" fill="#1c1c58" fill-opacity="0.9"/>
<circle cx="112.35" cy="97.69" r="0.85" fill="#1c1c58" fill-opacity="0.9"/>
<circle cx="114.48" cy="98.13" r="0.85" fill="#1c1c58" fill-opacity="0.9"/>
<circle cx="117.01" cy="98.65" r="0.85" fill="#34347a" fill-opacity="0.9"/>
<circle cx="118.83" cy="99.00" r="0.85" fill="#1c1c58" fill-opacity="0.9"/>
<circle cx="111.44" cy="99.93" r="0.85" fill="#34347a" fill-opacity="0.9"/>
<circle cx="113.39" cy="100.02" r="0.85" fill="#1c1c58" fill-opacity="0.9"/>
<circle cx="115.55" cy="100.58" r="0.85" fill="#1c1c58" fill-opacity="0.9"/>
<circle cx="108.99" cy="101.30" r="0.85" fill="#34347a" fill-opacity="0.9"/>
<circle cx="111.17" cy="101.85" r="0.85" fill="#1c1c58" fill-opacity="0.9"/>
<circle cx="113.46" cy="101.98" r="0.85" fill="#1c1c58" fill-opacity="0.9"/>
<circle cx="115.54" cy="102.03" r="0.85" fill="#1c1c58" fill-opacity="0.9"/>
<circle cx="117.92" cy="102.08" r="0.85" fill="#1c1c58" fill-opacity="0.9"/>
<circle cx="113.58" cy="103.61" r="0.85" fill="#1c1c58" fill-opacity="0.9"/>
<circle cx="110.06" cy="105.75" r="0.85" fill="#1c1c58" fill-opacity="0.9"/>
<circle cx="112.64" cy="106.09" r="0.85" fill="#1c1c58" fill-opacity="0.9"/>
<circle cx="114.67" cy="106.43" r="0.85" fill="#34347a" fill-opacity="0.9"/>
<circle cx="116.61" cy="106.98" r="0.85" fill="#1c1c58" fill-opacity="0.9"/>
<circle cx="113.62" cy="108.63" r="0.85" fill="#1c1c58" fill-opacity="0.9"/>
<circle cx="113.40" cy="109.03" r="0.85" fill="#1c1c58" fill-opacity="0.9"/>
<circle cx="113.79" cy="120.31" r="0.85" fill="#1c1c58" fill-opacity="0.9"/>
<circle cx="143.47" cy="56.43" r="0.85" fill="#f0de60" fill-opacity="0.95"/>
<circle cx="145.08" cy="56.71" r="0.85" fill="#f4e688" fill-opacity="0.95"/>
<circle cx="143.25" cy="61.08" r="0.85" fill="#f0de60" fill-opacity="0.95"/>
<circle cx="145.22" cy="62.74" r="0.85" fill="#f4e688" fill-opacity="0.95"/>
<circle cx="142.14" cy="63.01" r="0.85" fill="#f4e688" fill-opacity="0.95"/>
<circle cx="144.36" cy="64.16" r="0.85" fill="#f0de60" fill-opacity="0.95"/>
<circle cx="146.19" cy="64.24" r="0.85" fill="#f0de60" fill-opacity="0.95"/>
<circle cx="141.30" cy="65.11" r="0.85" fill="#f4e688" fill-opacity="0.95"/>
<circle cx="143.45" cy="66.06" r="0.85" fill="#f0de60" fill-opacity="0.95"/>
<circle cx="145.28" cy="66.20" r="0.85" fill="#f0de60" fill-opacity="0.95"/>
<circle cx="147.65" cy="66.64" r="0.85" fill="#f0de60" fill-opacity="0.95"/>
<circle cx="143.19" cy="68.40" r="0.85" fill="#f0de60" fill-opacity="0.95"/>
<circle cx="145.52" cy="68.58" r="0.85" fill="#f4e688" fill-opacity="0.95"/>
<circle cx="143.09" cy="69.83" r="0.85" fill="#f4e688" fill-opacity="0.95"/>
<circle cx="145.31" cy="70.20" r="0.85" fill="#f0de60" fill-opacity="0.95"/>
<circle cx="143.43" cy="72.31" r="0.85" fill="#f0de60" fill-opacity="0.95"/>
<circle cx="145.54" cy="72.87" r="0.85" fill="#f0de60" fill-opacity="0.95"/>
<circle cx="137.73" cy="73.23" r="0.85" fill="#f0de60" fill-opacity="0.95"/>
<circle cx="140.37" cy="73.74" r="0.85" fill="#f0de60" fill-opacity="0.95"/>
<circle cx="142.05" cy="73.93" r="0.85" fill="#f0de60" fill-opacity="0.95"/>
<circle cx="144.38" cy="74.30" r="0.85" fill="#f4e688" fill-opacity="0.95"/>
<circle cx="146.42" cy="74.36" r="0.85" fill="#f4e688" fill-opacity="0.95"/>
<circle cx="148.46" cy="74.44" r="0.85" fill="#f0de60" fill-opacity="0.95"/>
<circle cx="150.31" cy="74.76" r="0.85" fill="#f4e688" fill-opacity="0.95"/>
<circle cx="141.43" cy="75.00" r="0.85" fill="#f0de60" fill-opacity="0.95"/>
<circle cx="143.51" cy="75.31" r="0.85" fill="#f0de60" fill-opacity="0.95"/>
<circle cx="145.54" cy="75.75" r="0.85" fill="#f0de60" fill-opacity="0.95"/>
<circle cx="147.68" cy="76.25" r="0.85" fill="#f4e688" fill-opacity="0.95"/>
<circle cx="138.08" cy="77.28" r="0.85" fill="#f4e688" fill-opacity="0.95"/>
<circle cx="140.21" cy="77.54" r="0.85" fill="#f4e688" fill-opacity="0.95"/>
<circle cx="142.23" cy="78.19" r="0.85" fill="#f0de60" fill-opacity="0.95"/>
<circle cx="144.37" cy="78.49" r="0.85" fill="#f4e688" fill-opacity="0.95"/>
<circle cx="146.41" cy="78.51" r="0.85" fill="#f0de60" fill-opacity="0.95"/>
<circle cx="148.77" cy="78.65" r="0.85" fill="#f4e688" fill-opacity="0.95"/>
<circle cx="150.48" cy="78.94" r="0.85" fill="#f0de60" fill-opacity="0.95"/>
<circle cx="135.67" cy="79.07" r="0.85" fill="#f0de60" fill-opacity="0.95"/>
<circle cx="138.27" cy="79.16" r="0.85" fill="#f0de60" fill-opacity="0.95"/>
<circle cx="139.96" cy="79.37" r="0.85" fill="#f0de60" fill-opacity="0.95"/>
<circle cx="142.22" cy="79.43" r="0.85" fill="#f4e688" fill-opacity="0.95"/>
<circle cx="144.07" cy="80.07" r="0.85" fill="#f4e688" fill-opacity="0.95"/>
<circle cx="146.28" cy="80.20" r="0.85" fill="#f0de60" fill-opacity="0.95"/>
<circle cx="148.37" cy="80.60" r="0.85" fill="#f4e688" fill-opacity="0.95"/>
<circle cx="150.35" cy="80.61" r="0.85" fill="#f0de60" fill-opacity="0.95"/>
<circle cx="152.90" cy="80.84" r="0.85" fill="#f0de60" fill-opacity="0.95"/>
<circle cx="138.04" cy="81.13" r="0.85" fill="#f0de60" fill-opacity="0.95"/>
<circle cx="139.92" cy="81.57" r="0.85" fill="#f0de60" fill-opacity="0.95"/>
<circle cx="142.18" cy="81.82" r="0.85" fill="#f0de60" fill-opacity="0.95"/>
<circle cx="144.37" cy="82.11" r="0.85" fill="#f0de60" fill-opacity="0.95"/>
<circle cx="146.29" cy="82.79" r="0.85" fill="#f4e688" fill-opacity="0.95"/>
<circle cx="148.33" cy="82.87" r="0.85" fill="#f0de60" fill-opacity="0.95"/>
<circle cx="150.53" cy="83.00" r="0.85" fill="#f0de60" fill-opacity="0.95"/>
<circle cx="136.66" cy="83.79" r="0.85" fill="#f4e688" fill-opacity="0.95"/>
<circle cx="139.27" cy="83.81" r="0.85" fill="#f4e688" fill-opacity="0.95"/>
<circle cx="141.18" cy="83.91" r="0.85" fill="#f0de60" fill-opacity="0.95"/>
<circle cx="143.12" cy="84.25" r="0.85" fill="#f0de60" fill-opacity="0.95"/>
<circle cx="145.23" cy="84.77" r="0.85" fill="#f0de60" fill-opacity="0.95"/>
<circle cx="147.25" cy="84.89" r="0.85" fill="#f4e688" fill-opacity="0.95"/>
<circle cx="149.77" cy="84.94" r="0.85" fill="#f0de60" fill-opacity="0.95"/>
<circle cx="151.39" cy="84.99" r="0.85" fill="#f4e688" fill-opacity="0.95"/>
<circle cx="137.96" cy="85.34" r="0.85" fill="#f0de60" fill-opacity="0.95"/>
<circle cx="139.87" cy="85.50" r="0.85" fill="#f4e688" fill-opacity="0.95"/>
<circle cx="142.48" cy="85.54" r="0.85" fill="#f0de60" fill-opacity="0.95"/>
<circle cx="144.09" cy="85.96" r="0.85" fill="#f4e688" fill-opacity="0.95"/>
<circle cx="146.31" cy="86.38" r="0.85" fill="#f0de60" fill-opacity="0.95"/>
<circle cx="148.57" cy="86.56" r="0.85" fill="#f0de60" fill-opacity="0.95"/>
<circle cx="150.79" cy="86.88" r="0.85" fill="#f0de60" fill-opacity="0.95"/>
<circle cx="136.04" cy="87.05" r="0.85" fill="#f0de60" fill-opacity="0.95"/>
<circle cx="138.16" cy="87.41" r="0.85" fill="#f0de60" fill-opacity="0.95"/>
<circle cx="140.27" cy="87.42" r="0.85" fill="#f0de60" fill-opacity="0.95"/>
<circle cx="142.45" cy="87.75" r="0.85" fill="#f4e688" fill-opacity="0.95"/>
<circle cx="144.52" cy="87.84" r="0.85" fill="#f4e688" fill-opacity="0.95"/>
<circle cx="146.56" cy="87.86" r="0.85" fill="#f0de60" fill-opacity="0.95"/>
<circle cx="148.50" cy="87.89" r="0.85" fill="#f0de60" fill-opacity="0.95"/>
<circle cx="150.64" cy="88.16" r="0.85" fill="#f0de60" fill-opacity="0.95"/>
<circle cx="152.87" cy="88.90" r="0.85" fill="#f0de60" fill-opacity="0.95"/>
<circle cx="140.16" cy="89.45" r="0.85" fill="#f4e688" fill-opacity="0.95"/>
<circle cx="142.17" cy="89.47" r="0.85" fill="#f0de60" fill-opacity="0.95"/>
<circle cx="144.43" cy="90.15" r="0.85" fill="#f4e688" fill-opacity="0.95"/>
<circle cx="146.33" cy="90.33" r="0.85" fill="#f0de60" fill-opacity="0.95"/>
<circle cx="148.43" cy="90.70" r="0.85" fill="#f4e688" fill-opacity="0.95"/>
<circle cx="137.12" cy="91.08" r="0.85" fill="#f0de60" fill-opacity="0.95"/>
<circle cx="139.05" cy="91.61" r="0.85" fill="#f0de60" fill-opacity="0.95"/>
<circle cx="140.96" cy="91.81" r="0.85" fill="#f4e688" fill-opacity="0.95"/>
<circle cx="143.04" cy="91.99" r="0.85" fill="#f0de60" fill-opacity="0.95"/>
<circle cx="145.40" cy="91.99" r="0.85" fill="#f4e688" fill-opacity="0.95"/>
<circle cx="147.70" cy="92.22" r="0.85" fill="#f4e688" fill-opacity="0.95"/>
<circle cx="149.76" cy="92.48" r="0.85" fill="#f0de60" fill-opacity="0.95"/>
<circle cx="151.93" cy="92.90" r="0.85" fill="#f4e688" fill-opacity="0.95"/>
<circle cx="142.16" cy="93.51" r="0.85" fill="#f0de60" fill-opacity="0.95"/>
<circle cx="144.01" cy="94.38" r="0.85" fill="#f4e688" fill-opacity="0.95"/>
<circle cx="146.44" cy="94.61" r="0.85" fill="#f0de60" fill-opacity="0.95"/>
<circle cx="133.05" cy="95.08" r="0.85" fill="#f0de60" fill-opacity="0.95"/>
<circle cx="134.91" cy="95.09" r="0.85" fill="#f0de60" fill-opacity="0.95"/>
<circle cx="136.99" cy="95.14" r="0.85" fill="#f0de60" fill-opacity="0.95"/>
<circle cx="139.18" cy="95.14" r="0.85" fill="#f4e688" fill-opacity="0.95"/>
<circle cx="141.08" cy="95.34" r="0.85" fill="#f0de60" fill-opacity="0.95"/>
<circle cx="143.17" cy="95.47" r="0.85" fill="#f0de60" fill-opacity="0.95"/>
<circle cx="145.45" cy="95.59" r="0.85" fill="#f0de60" fill-opacity="0.95"/>
<circle cx="147.20" cy="95.70" r="0.85" fill="#f4e688" fill-opacity="0.95"/>
<circle cx="149.47" cy="95.93" r="0.85" fill="#f0de60" fill-opacity="0.95"/>
<circle cx="151.66" cy="96.16" r="0.85" fill="#f0de60" fill-opacity="0.95"/>
<circle cx="153.99" cy="96.19" r="0.85" fill="#f0de60" fill-opacity="0.95"/>
<circle cx="155.76" cy="96.41" r="0.85" fill="#f0de60" fill-opacity="0.95"/>
<circle cx="136.20" cy="97.11" r="0.85" fill="#f4e688" fill-opacity="0.95"/>
<circle cx="138.02" cy="97.22" r="0.85" fill="#f0de60" fill-opacity="0.95"/>
<circle cx="139.90" cy="97.44" r="0.85" fill="#f4e688" fill-opacity="0.95"/>
<circle cx="142.49" cy="97.68" r="0.85" fill="#f0de60" fill-opacity="0.95"/>
<circle cx="144.31" cy="97.78" r="0.85" fill="#f4e688" fill-opacity="0.95"/>
<circle cx="146.64" cy="97.79" r="0.85" fill="#f0de60" fill-opacity="0.95"/>
<circle cx="148.69" cy="98.32" r="0.85" fill="#f0de60" fill-opacity="0.95"/>
<circle cx="150.83" cy="98.61" r="0.85" fill="#f0de60" fill-opacity="0.95"/>
<circle cx="152.49" cy="98.80" r="0.85" fill="#f4e688" fill-opacity="0.95"/>
<circle cx="140.11" cy="99.02" r="0.85" fill="#f0de60" fill-opacity="0.95"/>
<circle cx="142.01" cy="99.09" r="0.85" fill="#f4e688" fill-opacity="0.95"/>
<circle cx="144.38" cy="99.29" r="0.85" fill="#f0de60" fill-opacity="0.95"/>
<circle cx="146.31" cy="99.83" r="0.85" fill="#f0de60" fill-opacity="0.95"/>
<circle cx="148.58" cy="100.11" r="0.85" fill="#f4e688" fill-opacity="0.95"/>
<circle cx="137.95" cy="101.21" r="0.85" fill="#f0de60" fill-opacity="0.95"/>
<circle cx="139.98" cy="101.21" r="0.85" fill="#f0de60" fill-opacity="0.95"/>
<circle cx="141.90" cy="101.26" r="0.85" fill="#f4e688" fill-opacity="0.95"/>
<circle cx="144.51" cy="101.27" r="0.85" fill="#f0de60" fill-opacity="0.95"/>
<circle cx="146.50" cy="101.45" r="0.85" fill="#f4e688" fill-opacity="0.95"/>
<circle cx="148.50" cy="101.82" r="0.85" fill="#f0de60" fill-opacity="0.95"/>
<circle cx="150.46" cy="101.93" r="0.85" fill="#f0de60" fill-opacity="0.95"/>
<circle cx="140.12" cy="103.35" r="0.85" fill="#f0de60" fill-opacity="0.95"/>
<circle cx="142.24" cy="103.99" r="0.85" fill="#f0de60" fill-opacity="0.95"/>
<circle cx="144.07" cy="104.15" r="0.85" fill="#f4e688" fill-opacity="0.95"/>
<circle cx="146.56" cy="104.24" r="0.85" fill="#f4e688" fill-opacity="0.95"/>
<circle cx="148.26" cy="104.60" r="0.85" fill="#f4e688" fill-opacity="0.95"/>
<circle cx="142.21" cy="107.15" r="0.85" fill="#f0de60" fill-opacity="0.95"/>
<circle cx="144.37" cy="108.12" r="0.85" fill="#f0de60" fill-opacity="0.95"/>
<circle cx="146.14" cy="108.45" r="0.85" fill="#f4e688" fill-opacity="0.95"/>
<circle cx="144.46" cy="110.05" r="0.85" fill="#f4e688" fill-opacity="0.95"/>
<circle cx="143.38" cy="112.13" r="0.85" fill="#f4e688" fill-opacity="0.95"/>
<circle cx="145.15" cy="112.53" r="0.85" fill="#f4e688" fill-opacity="0.95"/>
<circle cx="141.96" cy="113.24" r="0.85" fill="#f0de60" fill-opacity="0.95"/>
<circle cx="144.35" cy="113.54" r="0.85" fill="#f4e688" fill-opacity="0.95"/>
<circle cx="146.37" cy="114.81" r="0.85" fill="#f4e688" fill-opacity="0.95"/>
<circle cx="142.98" cy="118.67" r="0.85" fill="#f0de60" fill-opacity="0.95"/>
<circle cx="145.40" cy="118.93" r="0.85" fill="#f0de60" fill-opacity="0.95"/>
<line x1="51.40" y1="74.76" x2="51.40" y2="99.05" stroke="#151515" stroke-width="1.6" stroke-linecap="butt"/>
<line x1="41.10" y1="86.70" x2="61.70" y2="86.70" stroke="#151515" stroke-width="2.2" stroke-linecap="butt"/>
<line x1="46.40" y1="74.76" x2="56.40" y2="74.76" stroke="#151515" stroke-width="1.9000000000000001" stroke-linecap="butt"/>
<line x1="46.40" y1="99.05" x2="56.40" y2="99.05" stroke="#151515" stroke-width="1.9000000000000001" stroke-linecap="butt"/>
<line x1="82.20" y1="78.19" x2="82.20" y2="102.48" stroke="#151515" stroke-width="1.6" stroke-linecap="butt"/>
<line x1="71.90" y1="90.68" x2="92.50" y2="90.68" stroke="#151515" stroke-width="2.2" stroke-linecap="butt"/>
<line x1="77.20" y1="78.19" x2="87.20" y2="78.19" stroke="#151515" stroke-width="1.9000000000000001" stroke-linecap="butt"/>
<line x1="77.20" y1="102.48" x2="87.20" y2="102.48" stroke="#151515" stroke-width="1.9000000000000001" stroke-linecap="butt"/>
<line x1="113.50" y1="66.67" x2="113.50" y2="93.42" stroke="#151515" stroke-width="1.6" stroke-linecap="butt"/>
<line x1="103.20" y1="80.80" x2="123.80" y2="80.80" stroke="#151515" stroke-width="2.2" stroke-linecap="butt"/>
<line x1="108.50" y1="66.67" x2="118.50" y2="66.67" stroke="#151515" stroke-width="1.9000000000000001" stroke-linecap="butt"/>
<line x1="108.50" y1="93.42" x2="118.50" y2="93.42" stroke="#151515" stroke-width="1.9000000000000001" stroke-linecap="butt"/>
<line x1="144.30" y1="75.31" x2="144.30" y2="99.59" stroke="#151515" stroke-width="1.6" stroke-linecap="butt"/>
<line x1="134.00" y1="87.52" x2="154.60" y2="87.52" stroke="#151515" stroke-width="2.2" stroke-linecap="butt"/>
<line x1="139.30" y1="75.31" x2="149.30" y2="75.31" stroke="#151515" stroke-width="1.9000000000000001" stroke-linecap="butt"/>
<line x1="139.30" y1="99.59" x2="149.30" y2="99.59" stroke="#151515" stroke-width="1.9000000000000001" stroke-linecap="butt"/>
<text x="51.70" y="137.10" font-size="6.6" text-anchor="middle" textLength="19.0" lengthAdjust="spacingAndGlyphs">CD37<tspan font-size="5.0" dy="-2.4">+</tspan></text>
<text x="82.50" y="137.10" font-size="6.6" text-anchor="middle" textLength="19.0" lengthAdjust="spacingAndGlyphs">CD37<tspan font-size="5.0" dy="-2.4">&#8722;</tspan></text>
<text x="113.80" y="137.10" font-size="6.6" text-anchor="middle" textLength="19.0" lengthAdjust="spacingAndGlyphs">CD37<tspan font-size="5.0" dy="-2.4">+</tspan></text>
<text x="144.60" y="137.10" font-size="6.6" text-anchor="middle" textLength="19.0" lengthAdjust="spacingAndGlyphs">CD37<tspan font-size="5.0" dy="-2.4">&#8722;</tspan></text>
<line x1="41.80" y1="139.20" x2="87.60" y2="139.20" stroke="#231f20" stroke-width="1.0" stroke-linecap="butt"/>
<line x1="104.20" y1="139.20" x2="150.00" y2="139.20" stroke="#231f20" stroke-width="1.0" stroke-linecap="butt"/>
<text x="64.80" y="149.30" font-size="8.6" text-anchor="middle" textLength="15.00" lengthAdjust="spacingAndGlyphs">GCB</text>
<text x="126.30" y="149.30" font-size="8.6" text-anchor="middle" textLength="15.00" lengthAdjust="spacingAndGlyphs">ABC</text>
<text x="18.9" y="83.0" font-size="9.2" text-anchor="middle" transform="rotate(-90 18.9 83.0)" textLength="68.5" lengthAdjust="spacingAndGlyphs"><tspan font-style="italic">CD37</tspan> mRNA (Log2)</text>
<line x1="46.70" y1="40.50" x2="85.90" y2="40.50" stroke="#231f20" stroke-width="1.0" stroke-linecap="butt"/>
<line x1="105.40" y1="40.50" x2="146.20" y2="40.50" stroke="#231f20" stroke-width="1.0" stroke-linecap="butt"/>
<text x="54.2" y="37.6" font-size="6.6" fill="#3a3a3a" textLength="24.8" lengthAdjust="spacingAndGlyphs"><tspan font-style="italic">P</tspan>=0.036</text>
<text x="106.8" y="37.6" font-size="6.6" fill="#3a3a3a" textLength="33.0" lengthAdjust="spacingAndGlyphs"><tspan font-style="italic">P</tspan>&lt;0.0001</text>
<line x1="35.70" y1="169.50" x2="35.70" y2="256.00" stroke="#231f20" stroke-width="1.8" stroke-linecap="butt"/>
<line x1="32.70" y1="182.00" x2="35.70" y2="182.00" stroke="#231f20" stroke-width="1.0" stroke-linecap="butt"/>
<text x="30.70" y="184.38" font-size="6.6" text-anchor="end">12</text>
<line x1="32.70" y1="200.35" x2="35.70" y2="200.35" stroke="#231f20" stroke-width="1.0" stroke-linecap="butt"/>
<text x="30.70" y="202.73" font-size="6.6" text-anchor="end">10</text>
<line x1="32.70" y1="218.70" x2="35.70" y2="218.70" stroke="#231f20" stroke-width="1.0" stroke-linecap="butt"/>
<text x="30.70" y="221.08" font-size="6.6" text-anchor="end">8</text>
<line x1="32.70" y1="237.05" x2="35.70" y2="237.05" stroke="#231f20" stroke-width="1.0" stroke-linecap="butt"/>
<text x="30.70" y="239.43" font-size="6.6" text-anchor="end">6</text>
<line x1="32.70" y1="255.40" x2="35.70" y2="255.40" stroke="#231f20" stroke-width="1.0" stroke-linecap="butt"/>
<text x="30.70" y="257.78" font-size="6.6" text-anchor="end">4</text>
<line x1="35.00" y1="255.40" x2="161.50" y2="255.40" stroke="#231f20" stroke-width="1.8" stroke-linecap="butt"/>
<line x1="51.40" y1="255.40" x2="51.40" y2="258.40" stroke="#231f20" stroke-width="1.0" stroke-linecap="butt"/>
<line x1="82.20" y1="255.40" x2="82.20" y2="258.40" stroke="#231f20" stroke-width="1.0" stroke-linecap="butt"/>
<line x1="113.50" y1="255.40" x2="113.50" y2="258.40" stroke="#231f20" stroke-width="1.0" stroke-linecap="butt"/>
<line x1="144.30" y1="255.40" x2="144.30" y2="258.40" stroke="#231f20" stroke-width="1.0" stroke-linecap="butt"/>
<circle cx="45.66" cy="183.78" r="0.85" fill="#7894cc" fill-opacity="0.9"/>
<circle cx="47.81" cy="183.84" r="0.85" fill="#7894cc" fill-opacity="0.9"/>
<circle cx="50.40" cy="184.04" r="0.85" fill="#7894cc" fill-opacity="0.9"/>
<circle cx="52.63" cy="184.17" r="0.85" fill="#7894cc" fill-opacity="0.9"/>
<circle cx="54.62" cy="184.39" r="0.85" fill="#7894cc" fill-opacity="0.9"/>
<circle cx="56.87" cy="184.39" r="0.85" fill="#7894cc" fill-opacity="0.9"/>
<circle cx="45.78" cy="184.68" r="0.85" fill="#7894cc" fill-opacity="0.9"/>
<circle cx="47.99" cy="184.96" r="0.85" fill="#7894cc" fill-opacity="0.9"/>
<circle cx="50.54" cy="185.08" r="0.85" fill="#7894cc" fill-opacity="0.9"/>
<circle cx="52.44" cy="185.61" r="0.85" fill="#7894cc" fill-opacity="0.9"/>
<circle cx="54.65" cy="185.89" r="0.85" fill="#7894cc" fill-opacity="0.9"/>
<circle cx="57.26" cy="185.92" r="0.85" fill="#7894cc" fill-opacity="0.9"/>
<circle cx="47.81" cy="186.28" r="0.85" fill="#7894cc" fill-opacity="0.9"/>
<circle cx="50.31" cy="186.48" r="0.85" fill="#7894cc" fill-opacity="0.9"/>
<circle cx="52.43" cy="187.33" r="0.85" fill="#7894cc" fill-opacity="0.9"/>
<circle cx="54.96" cy="187.46" r="0.85" fill="#7894cc" fill-opacity="0.9"/>
<circle cx="42.43" cy="188.04" r="0.85" fill="#7894cc" fill-opacity="0.9"/>
<circle cx="44.81" cy="188.14" r="0.85" fill="#7894cc" fill-opacity="0.9"/>
<circle cx="46.70" cy="188.22" r="0.85" fill="#7894cc" fill-opacity="0.9"/>
<circle cx="49.25" cy="188.23" r="0.85" fill="#7894cc" fill-opacity="0.9"/>
<circle cx="51.46" cy="188.30" r="0.85" fill="#7894cc" fill-opacity="0.9"/>
<circle cx="53.63" cy="188.45" r="0.85" fill="#7894cc" fill-opacity="0.9"/>
<circle cx="56.06" cy="188.62" r="0.85" fill="#7894cc" fill-opacity="0.9"/>
<circle cx="58.35" cy="189.29" r="0.85" fill="#7894cc" fill-opacity="0.9"/>
<circle cx="60.17" cy="189.44" r="0.85" fill="#7894cc" fill-opacity="0.9"/>
<circle cx="41.15" cy="189.55" r="0.85" fill="#7894cc" fill-opacity="0.9"/>
<circle cx="43.44" cy="189.63" r="0.85" fill="#7894cc" fill-opacity="0.9"/>
<circle cx="45.60" cy="189.75" r="0.85" fill="#7894cc" fill-opacity="0.9"/>
<circle cx="47.76" cy="189.76" r="0.85" fill="#7894cc" fill-opacity="0.9"/>
<circle cx="50.14" cy="190.04" r="0.85" fill="#7894cc" fill-opacity="0.9"/>
<circle cx="52.34" cy="190.42" r="0.85" fill="#7894cc" fill-opacity="0.9"/>
<circle cx="54.90" cy="190.65" r="0.85" fill="#7894cc" fill-opacity="0.9"/>
<circle cx="56.99" cy="190.90" r="0.85" fill="#7894cc" fill-opacity="0.9"/>
<circle cx="59.04" cy="190.92" r="0.85" fill="#7894cc" fill-opacity="0.9"/>
<circle cx="61.42" cy="191.01" r="0.85" fill="#7894cc" fill-opacity="0.9"/>
<circle cx="41.08" cy="191.42" r="0.85" fill="#7894cc" fill-opacity="0.9"/>
<circle cx="42.89" cy="191.44" r="0.85" fill="#7894cc" fill-opacity="0.9"/>
<circle cx="44.65" cy="191.55" r="0.85" fill="#7894cc" fill-opacity="0.9"/>
<circle cx="46.46" cy="191.87" r="0.85" fill="#7894cc" fill-opacity="0.9"/>
<circle cx="48.30" cy="191.90" r="0.85" fill="#7894cc" fill-opacity="0.9"/>
<circle cx="50.76" cy="191.98" r="0.85" fill="#7894cc" fill-opacity="0.9"/>
<circle cx="52.49" cy="192.26" r="0.85" fill="#7894cc" fill-opacity="0.9"/>
<circle cx="53.96" cy="192.27" r="0.85" fill="#7894cc" fill-opacity="0.9"/>
<circle cx="56.21" cy="192.30" r="0.85" fill="#7894cc" fill-opacity="0.9"/>
<circle cx="58.24" cy="192.71" r="0.85" fill="#7894cc" fill-opacity="0.9"/>
<circle cx="59.87" cy="192.81" r="0.85" fill="#7894cc" fill-opacity="0.9"/>
<circle cx="61.47" cy="192.84" r="0.85" fill="#7894cc" fill-opacity="0.9"/>
<circle cx="45.77" cy="193.41" r="0.85" fill="#7894cc" fill-opacity="0.9"/>
<circle cx="47.99" cy="193.53" r="0.85" fill="#7894cc" fill-opacity="0.9"/>
<circle cx="50.09" cy="193.65" r="0.85" fill="#7894cc" fill-opacity="0.9"/>
<circle cx="52.55" cy="193.93" r="0.85" fill="#7894cc" fill-opacity="0.9"/>
<circle cx="54.48" cy="194.13" r="0.85" fill="#7894cc" fill-opacity="0.9"/>
<circle cx="57.28" cy="194.34" r="0.85" fill="#7894cc" fill-opacity="0.9"/>
<circle cx="43.61" cy="194.68" r="0.85" fill="#7894cc" fill-opacity="0.9"/>
<circle cx="45.85" cy="194.85" r="0.85" fill="#7894cc" fill-opacity="0.9"/>
<circle cx="48.29" cy="195.03" r="0.85" fill="#7894cc" fill-opacity="0.9"/>
<circle cx="50.37" cy="195.05" r="0.85" fill="#7894cc" fill-opacity="0.9"/>
<circle cx="52.38" cy="195.18" r="0.85" fill="#7894cc" fill-opacity="0.9"/>
<circle cx="54.62" cy="195.23" r="0.85" fill="#7894cc" fill-opacity="0.9"/>
<circle cx="56.81" cy="195.59" r="0.85" fill="#7894cc" fill-opacity="0.9"/>
<circle cx="58.99" cy="196.09" r="0.85" fill="#7894cc" fill-opacity="0.9"/>
<circle cx="47.06" cy="196.48" r="0.85" fill="#7894cc" fill-opacity="0.9"/>
<circle cx="49.35" cy="197.02" r="0.85" fill="#28346c" fill-opacity="0.9"/>
<circle cx="51.28" cy="197.45" r="0.85" fill="#28346c" fill-opacity="0.9"/>
<circle cx="53.46" cy="197.78" r="0.85" fill="#28346c" fill-opacity="0.9"/>
<circle cx="55.98" cy="198.03" r="0.85" fill="#28346c" fill-opacity="0.9"/>
<circle cx="47.11" cy="198.26" r="0.85" fill="#28346c" fill-opacity="0.9"/>
<circle cx="49.41" cy="198.26" r="0.85" fill="#28346c" fill-opacity="0.9"/>
<circle cx="51.20" cy="198.34" r="0.85" fill="#28346c" fill-opacity="0.9"/>
<circle cx="53.82" cy="198.37" r="0.85" fill="#28346c" fill-opacity="0.9"/>
<circle cx="56.10" cy="199.13" r="0.85" fill="#28346c" fill-opacity="0.9"/>
<circle cx="48.17" cy="199.80" r="0.85" fill="#28346c" fill-opacity="0.9"/>
<circle cx="50.17" cy="199.84" r="0.85" fill="#28346c" fill-opacity="0.9"/>
<circle cx="52.34" cy="200.83" r="0.85" fill="#28346c" fill-opacity="0.9"/>
<circle cx="54.97" cy="201.03" r="0.85" fill="#28346c" fill-opacity="0.9"/>
<circle cx="46.79" cy="201.55" r="0.85" fill="#28346c" fill-opacity="0.9"/>
<circle cx="49.07" cy="201.85" r="0.85" fill="#28346c" fill-opacity="0.9"/>
<circle cx="51.43" cy="201.88" r="0.85" fill="#28346c" fill-opacity="0.9"/>
<circle cx="53.57" cy="201.88" r="0.85" fill="#28346c" fill-opacity="0.9"/>
<circle cx="56.10" cy="202.01" r="0.85" fill="#28346c" fill-opacity="0.9"/>
<circle cx="50.12" cy="203.21" r="0.85" fill="#28346c" fill-opacity="0.9"/>
<circle cx="52.25" cy="204.17" r="0.85" fill="#28346c" fill-opacity="0.9"/>
<circle cx="50.32" cy="205.46" r="0.85" fill="#28346c" fill-opacity="0.9"/>
<circle cx="52.60" cy="205.70" r="0.85" fill="#28346c" fill-opacity="0.9"/>
<circle cx="50.47" cy="207.30" r="0.85" fill="#28346c" fill-opacity="0.9"/>
<circle cx="52.65" cy="207.34" r="0.85" fill="#28346c" fill-opacity="0.9"/>
<circle cx="51.64" cy="209.10" r="0.85" fill="#28346c" fill-opacity="0.9"/>
<circle cx="51.67" cy="211.24" r="0.85" fill="#28346c" fill-opacity="0.9"/>
<circle cx="51.40" cy="216.56" r="0.85" fill="#28346c" fill-opacity="0.9"/>
<circle cx="51.40" cy="217.08" r="0.85" fill="#28346c" fill-opacity="0.9"/>
<circle cx="50.07" cy="240.72" r="0.85" fill="#28346c" fill-opacity="0.9"/>
<circle cx="52.40" cy="242.10" r="0.85" fill="#28346c" fill-opacity="0.9"/>
<circle cx="79.68" cy="183.51" r="0.85" fill="#f0d660" fill-opacity="0.95"/>
<circle cx="82.15" cy="184.25" r="0.85" fill="#f0d660" fill-opacity="0.95"/>
<circle cx="84.18" cy="184.30" r="0.85" fill="#f0d660" fill-opacity="0.95"/>
<circle cx="78.90" cy="184.86" r="0.85" fill="#f0d660" fill-opacity="0.95"/>
<circle cx="80.98" cy="185.07" r="0.85" fill="#f0d660" fill-opacity="0.95"/>
<circle cx="83.32" cy="185.17" r="0.85" fill="#f0d660" fill-opacity="0.95"/>
<circle cx="85.63" cy="185.63" r="0.85" fill="#f0d660" fill-opacity="0.95"/>
<circle cx="75.30" cy="186.47" r="0.85" fill="#f0c628" fill-opacity="0.95"/>
<circle cx="77.68" cy="186.67" r="0.85" fill="#f0c628" fill-opacity="0.95"/>
<circle cx="79.66" cy="186.69" r="0.85" fill="#f0c628" fill-opacity="0.95"/>
<circle cx="82.46" cy="187.21" r="0.85" fill="#f0c628" fill-opacity="0.95"/>
<circle cx="84.49" cy="187.29" r="0.85" fill="#f0c628" fill-opacity="0.95"/>
<circle cx="86.99" cy="187.58" r="0.85" fill="#f0c628" fill-opacity="0.95"/>
<circle cx="88.68" cy="187.83" r="0.85" fill="#f0c628" fill-opacity="0.95"/>
<circle cx="71.97" cy="188.01" r="0.85" fill="#f0c628" fill-opacity="0.95"/>
<circle cx="73.75" cy="188.03" r="0.85" fill="#f0c628" fill-opacity="0.95"/>
<circle cx="75.23" cy="188.10" r="0.85" fill="#f0c628" fill-opacity="0.95"/>
<circle cx="76.81" cy="188.17" r="0.85" fill="#f0c628" fill-opacity="0.95"/>
<circle cx="78.56" cy="188.24" r="0.85" fill="#f0c628" fill-opacity="0.95"/>
<circle cx="80.27" cy="188.31" r="0.85" fill="#f0c628" fill-opacity="0.95"/>
<circle cx="82.36" cy="188.34" r="0.85" fill="#f0c628" fill-opacity="0.95"/>
<circle cx="83.67" cy="188.42" r="0.85" fill="#f0c628" fill-opacity="0.95"/>
<circle cx="85.82" cy="188.98" r="0.85" fill="#f0c628" fill-opacity="0.95"/>
<circle cx="87.30" cy="189.11" r="0.85" fill="#f0c628" fill-opacity="0.95"/>
<circle cx="89.09" cy="189.37" r="0.85" fill="#f0c628" fill-opacity="0.95"/>
<circle cx="90.84" cy="189.45" r="0.85" fill="#f0c628" fill-opacity="0.95"/>
<circle cx="92.53" cy="189.54" r="0.85" fill="#f0c628" fill-opacity="0.95"/>
<circle cx="71.99" cy="189.80" r="0.85" fill="#f0c628" fill-opacity="0.95"/>
<circle cx="74.02" cy="189.96" r="0.85" fill="#f0c628" fill-opacity="0.95"/>
<circle cx="75.92" cy="190.17" r="0.85" fill="#f0c628" fill-opacity="0.95"/>
<circle cx="78.22" cy="190.24" r="0.85" fill="#f0c628" fill-opacity="0.95"/>
<circle cx="79.99" cy="190.59" r="0.85" fill="#f0c628" fill-opacity="0.95"/>
<circle cx="82.33" cy="190.63" r="0.85" fill="#f0c628" fill-opacity="0.95"/>
<circle cx="84.42" cy="190.65" r="0.85" fill="#f0c628" fill-opacity="0.95"/>
<circle cx="86.49" cy="190.90" r="0.85" fill="#f0c628" fill-opacity="0.95"/>
<circle cx="88.27" cy="190.91" r="0.85" fill="#f0c628" fill-opacity="0.95"/>
<circle cx="90.60" cy="191.02" r="0.85" fill="#f0c628" fill-opacity="0.95"/>
<circle cx="92.79" cy="191.12" r="0.85" fill="#f0c628" fill-opacity="0.95"/>
<circle cx="73.17" cy="191.43" r="0.85" fill="#f0c628" fill-opacity="0.95"/>
<circle cx="75.32" cy="191.71" r="0.85" fill="#f0c628" fill-opacity="0.95"/>
<circle cx="77.71" cy="191.71" r="0.85" fill="#f0c628" fill-opacity="0.95"/>
<circle cx="80.21" cy="192.42" r="0.85" fill="#f0c628" fill-opacity="0.95"/>
<circle cx="81.98" cy="192.59" r="0.85" fill="#f0c628" fill-opacity="0.95"/>
<circle cx="84.16" cy="192.67" r="0.85" fill="#f0c628" fill-opacity="0.95"/>
<circle cx="86.69" cy="192.69" r="0.85" fill="#f0c628" fill-opacity="0.95"/>
<circle cx="89.04" cy="192.82" r="0.85" fill="#f0c628" fill-opacity="0.95"/>
<circle cx="91.36" cy="192.93" r="0.85" fill="#f0c628" fill-opacity="0.95"/>
<circle cx="71.99" cy="193.15" r="0.85" fill="#f0c628" fill-opacity="0.95"/>
<circle cx="74.62" cy="193.25" r="0.85" fill="#f0c628" fill-opacity="0.95"/>
<circle cx="76.41" cy="193.41" r="0.85" fill="#f0c628" fill-opacity="0.95"/>
<circle cx="78.98" cy="193.84" r="0.85" fill="#f0c628" fill-opacity="0.95"/>
<circle cx="80.83" cy="194.10" r="0.85" fill="#f0c628" fill-opacity="0.95"/>
<circle cx="83.04" cy="194.18" r="0.85" fill="#f0c628" fill-opacity="0.95"/>
<circle cx="85.36" cy="194.21" r="0.85" fill="#f0c628" fill-opacity="0.95"/>
<circle cx="87.56" cy="194.31" r="0.85" fill="#f0c628" fill-opacity="0.95"/>
<circle cx="90.08" cy="194.51" r="0.85" fill="#f0c628" fill-opacity="0.95"/>
<circle cx="92.36" cy="194.60" r="0.85" fill="#f0c628" fill-opacity="0.95"/>
<circle cx="74.13" cy="194.82" r="0.85" fill="#f0c628" fill-opacity="0.95"/>
<circle cx="76.84" cy="194.93" r="0.85" fill="#f0c628" fill-opacity="0.95"/>
<circle cx="78.74" cy="195.41" r="0.85" fill="#f0c628" fill-opacity="0.95"/>
<circle cx="80.86" cy="195.45" r="0.85" fill="#f0c628" fill-opacity="0.95"/>
<circle cx="83.13" cy="195.51" r="0.85" fill="#f0c628" fill-opacity="0.95"/>
<circle cx="85.72" cy="195.52" r="0.85" fill="#f0c628" fill-opacity="0.95"/>
<circle cx="88.08" cy="195.99" r="0.85" fill="#f0c628" fill-opacity="0.95"/>
<circle cx="89.87" cy="196.28" r="0.85" fill="#f0c628" fill-opacity="0.95"/>
<circle cx="75.17" cy="196.39" r="0.85" fill="#f0c628" fill-opacity="0.95"/>
<circle cx="77.87" cy="196.77" r="0.85" fill="#f0c628" fill-opacity="0.95"/>
<circle cx="79.80" cy="196.84" r="0.85" fill="#f0c628" fill-opacity="0.95"/>
<circle cx="82.49" cy="197.28" r="0.85" fill="#f0c628" fill-opacity="0.95"/>
<circle cx="84.45" cy="197.40" r="0.85" fill="#f0c628" fill-opacity="0.95"/>
<circle cx="86.78" cy="197.46" r="0.85" fill="#f0c628" fill-opacity="0.95"/>
<circle cx="88.86" cy="198.01" r="0.85" fill="#f0c628" fill-opacity="0.95"/>
<circle cx="72.08" cy="198.22" r="0.85" fill="#f0c628" fill-opacity="0.95"/>
<circle cx="73.75" cy="198.27" r="0.85" fill="#f0c628" fill-opacity="0.95"/>
<circle cx="75.54" cy="198.51" r="0.85" fill="#f0c628" fill-opacity="0.95"/>
<circle cx="77.76" cy="198.69" r="0.85" fill="#f0c628" fill-opacity="0.95"/>
<circle cx="79.16" cy="198.69" r="0.85" fill="#f0c628" fill-opacity="0.95"/>
<circle cx="81.40" cy="198.95" r="0.85" fill="#f0c628" fill-opacity="0.95"/>
<circle cx="82.88" cy="198.98" r="0.85" fill="#f0c628" fill-opacity="0.95"/>
<circle cx="85.10" cy="199.05" r="0.85" fill="#f0c628" fill-opacity="0.95"/>
<circle cx="86.82" cy="199.07" r="0.85" fill="#f0c628" fill-opacity="0.95"/>
<circle cx="88.97" cy="199.31" r="0.85" fill="#f0c628" fill-opacity="0.95"/>
<circle cx="90.36" cy="199.54" r="0.85" fill="#f0c628" fill-opacity="0.95"/>
<circle cx="92.54" cy="199.56" r="0.85" fill="#f0c628" fill-opacity="0.95"/>
<circle cx="78.77" cy="200.16" r="0.85" fill="#f0c628" fill-opacity="0.95"/>
<circle cx="81.33" cy="200.41" r="0.85" fill="#f0c628" fill-opacity="0.95"/>
<circle cx="83.59" cy="201.34" r="0.85" fill="#f0c628" fill-opacity="0.95"/>
<circle cx="85.65" cy="201.44" r="0.85" fill="#f0c628" fill-opacity="0.95"/>
<circle cx="74.16" cy="201.53" r="0.85" fill="#f0c628" fill-opacity="0.95"/>
<circle cx="76.43" cy="201.60" r="0.85" fill="#f0c628" fill-opacity="0.95"/>
<circle cx="78.68" cy="201.79" r="0.85" fill="#f0c628" fill-opacity="0.95"/>
<circle cx="81.04" cy="202.02" r="0.85" fill="#f0d660" fill-opacity="0.95"/>
<circle cx="83.16" cy="202.13" r="0.85" fill="#f0d660" fill-opacity="0.95"/>
<circle cx="85.40" cy="202.40" r="0.85" fill="#f0d660" fill-opacity="0.95"/>
<circle cx="87.98" cy="202.83" r="0.85" fill="#f0d660" fill-opacity="0.95"/>
<circle cx="90.16" cy="202.98" r="0.85" fill="#f0d660" fill-opacity="0.95"/>
<circle cx="77.58" cy="203.34" r="0.85" fill="#f0d660" fill-opacity="0.95"/>
<circle cx="80.25" cy="203.74" r="0.85" fill="#f0d660" fill-opacity="0.95"/>
<circle cx="82.03" cy="203.80" r="0.85" fill="#f0d660" fill-opacity="0.95"/>
<circle cx="84.49" cy="204.09" r="0.85" fill="#f0d660" fill-opacity="0.95"/>
<circle cx="86.49" cy="204.69" r="0.85" fill="#f0d660" fill-opacity="0.95"/>
<circle cx="74.54" cy="204.87" r="0.85" fill="#f0d660" fill-opacity="0.95"/>
<circle cx="76.80" cy="204.93" r="0.85" fill="#f0d660" fill-opacity="0.95"/>
<circle cx="78.69" cy="204.98" r="0.85" fill="#f0d660" fill-opacity="0.95"/>
<circle cx="81.23" cy="205.30" r="0.85" fill="#f0d660" fill-opacity="0.95"/>
<circle cx="83.52" cy="205.38" r="0.85" fill="#f0d660" fill-opacity="0.95"/>
<circle cx="85.44" cy="205.48" r="0.85" fill="#f0d660" fill-opacity="0.95"/>
<circle cx="87.72" cy="205.48" r="0.85" fill="#f0d660" fill-opacity="0.95"/>
<circle cx="90.07" cy="206.36" r="0.85" fill="#f0d660" fill-opacity="0.95"/>
<circle cx="72.31" cy="206.65" r="0.85" fill="#f0d660" fill-opacity="0.95"/>
<circle cx="74.12" cy="206.87" r="0.85" fill="#f0d660" fill-opacity="0.95"/>
<circle cx="76.68" cy="206.96" r="0.85" fill="#f0d660" fill-opacity="0.95"/>
<circle cx="78.88" cy="207.07" r="0.85" fill="#f0d660" fill-opacity="0.95"/>
<circle cx="81.05" cy="207.18" r="0.85" fill="#f0d660" fill-opacity="0.95"/>
<circle cx="83.37" cy="207.50" r="0.85" fill="#f0d660" fill-opacity="0.95"/>
<circle cx="85.80" cy="207.61" r="0.85" fill="#f0d660" fill-opacity="0.95"/>
<circle cx="87.65" cy="207.85" r="0.85" fill="#f0d660" fill-opacity="0.95"/>
<circle cx="90.31" cy="207.95" r="0.85" fill="#f0d660" fill-opacity="0.95"/>
<circle cx="92.24" cy="207.97" r="0.85" fill="#f0d660" fill-opacity="0.95"/>
<circle cx="82.37" cy="209.72" r="0.85" fill="#f0d660" fill-opacity="0.95"/>
<circle cx="80.17" cy="209.95" r="0.85" fill="#f0d660" fill-opacity="0.95"/>
<circle cx="82.01" cy="210.23" r="0.85" fill="#f0d660" fill-opacity="0.95"/>
<circle cx="84.67" cy="211.35" r="0.85" fill="#f0d660" fill-opacity="0.95"/>
<circle cx="81.37" cy="212.81" r="0.85" fill="#f0d660" fill-opacity="0.95"/>
<circle cx="83.20" cy="213.01" r="0.85" fill="#f0d660" fill-opacity="0.95"/>
<circle cx="79.66" cy="213.37" r="0.85" fill="#f0d660" fill-opacity="0.95"/>
<circle cx="81.97" cy="214.51" r="0.85" fill="#f0d660" fill-opacity="0.95"/>
<circle cx="84.73" cy="214.77" r="0.85" fill="#f0d660" fill-opacity="0.95"/>
<circle cx="80.78" cy="216.53" r="0.85" fill="#f0d660" fill-opacity="0.95"/>
<circle cx="83.57" cy="216.67" r="0.85" fill="#f0d660" fill-opacity="0.95"/>
<circle cx="79.74" cy="218.70" r="0.85" fill="#f0d660" fill-opacity="0.95"/>
<circle cx="82.34" cy="219.46" r="0.85" fill="#f0d660" fill-opacity="0.95"/>
<circle cx="84.21" cy="220.00" r="0.85" fill="#f0d660" fill-opacity="0.95"/>
<circle cx="80.88" cy="222.74" r="0.85" fill="#f0d660" fill-opacity="0.95"/>
<circle cx="83.43" cy="223.24" r="0.85" fill="#f0d660" fill-opacity="0.95"/>
<circle cx="81.95" cy="224.01" r="0.85" fill="#f0d660" fill-opacity="0.95"/>
<circle cx="82.10" cy="226.74" r="0.85" fill="#f0d660" fill-opacity="0.95"/>
<circle cx="81.33" cy="227.08" r="0.85" fill="#f0d660" fill-opacity="0.95"/>
<circle cx="83.45" cy="228.37" r="0.85" fill="#f0d660" fill-opacity="0.95"/>
<circle cx="82.43" cy="229.90" r="0.85" fill="#f0d660" fill-opacity="0.95"/>
<circle cx="82.49" cy="230.73" r="0.85" fill="#f0d660" fill-opacity="0.95"/>
<circle cx="81.92" cy="233.28" r="0.85" fill="#f0d660" fill-opacity="0.95"/>
<circle cx="79.79" cy="236.57" r="0.85" fill="#f0d660" fill-opacity="0.95"/>
<circle cx="82.38" cy="236.66" r="0.85" fill="#f0d660" fill-opacity="0.95"/>
<circle cx="84.56" cy="236.99" r="0.85" fill="#f0d660" fill-opacity="0.95"/>
<circle cx="80.80" cy="242.59" r="0.85" fill="#f0d660" fill-opacity="0.95"/>
<circle cx="83.33" cy="243.24" r="0.85" fill="#f0d660" fill-opacity="0.95"/>
<circle cx="80.91" cy="245.00" r="0.85" fill="#f0d660" fill-opacity="0.95"/>
<circle cx="83.28" cy="245.23" r="0.85" fill="#f0d660" fill-opacity="0.95"/>
<circle cx="80.84" cy="246.19" r="0.85" fill="#f0d660" fill-opacity="0.95"/>
<circle cx="83.04" cy="247.08" r="0.85" fill="#f0d660" fill-opacity="0.95"/>
<circle cx="112.16" cy="181.17" r="0.85" fill="#1c1c58" fill-opacity="0.9"/>
<circle cx="114.45" cy="181.92" r="0.85" fill="#34347a" fill-opacity="0.9"/>
<circle cx="106.51" cy="184.73" r="0.85" fill="#1c1c58" fill-opacity="0.9"/>
<circle cx="109.27" cy="184.95" r="0.85" fill="#1c1c58" fill-opacity="0.9"/>
<circle cx="111.35" cy="185.10" r="0.85" fill="#34347a" fill-opacity="0.9"/>
<circle cx="113.74" cy="185.24" r="0.85" fill="#1c1c58" fill-opacity="0.9"/>
<circle cx="115.54" cy="185.44" r="0.85" fill="#34347a" fill-opacity="0.9"/>
<circle cx="118.12" cy="185.48" r="0.85" fill="#34347a" fill-opacity="0.9"/>
<circle cx="120.45" cy="185.84" r="0.85" fill="#34347a" fill-opacity="0.9"/>
<circle cx="108.84" cy="186.60" r="0.85" fill="#1c1c58" fill-opacity="0.9"/>
<circle cx="111.14" cy="186.94" r="0.85" fill="#1c1c58" fill-opacity="0.9"/>
<circle cx="113.29" cy="187.49" r="0.85" fill="#1c1c58" fill-opacity="0.9"/>
<circle cx="115.64" cy="187.53" r="0.85" fill="#1c1c58" fill-opacity="0.9"/>
<circle cx="117.79" cy="187.83" r="0.85" fill="#1c1c58" fill-opacity="0.9"/>
<circle cx="109.29" cy="188.44" r="0.85" fill="#34347a" fill-opacity="0.9"/>
<circle cx="110.97" cy="189.02" r="0.85" fill="#34347a" fill-opacity="0.9"/>
<circle cx="113.58" cy="189.22" r="0.85" fill="#34347a" fill-opacity="0.9"/>
<circle cx="115.78" cy="189.31" r="0.85" fill="#34347a" fill-opacity="0.9"/>
<circle cx="117.98" cy="189.44" r="0.85" fill="#1c1c58" fill-opacity="0.9"/>
<circle cx="103.16" cy="189.57" r="0.85" fill="#1c1c58" fill-opacity="0.9"/>
<circle cx="104.69" cy="189.63" r="0.85" fill="#1c1c58" fill-opacity="0.9"/>
<circle cx="106.41" cy="189.63" r="0.85" fill="#1c1c58" fill-opacity="0.9"/>
<circle cx="108.65" cy="190.13" r="0.85" fill="#1c1c58" fill-opacity="0.9"/>
<circle cx="110.08" cy="190.22" r="0.85" fill="#34347a" fill-opacity="0.9"/>
<circle cx="111.69" cy="190.49" r="0.85" fill="#1c1c58" fill-opacity="0.9"/>
<circle cx="113.50" cy="190.83" r="0.85" fill="#1c1c58" fill-opacity="0.9"/>
<circle cx="114.97" cy="190.90" r="0.85" fill="#1c1c58" fill-opacity="0.9"/>
<circle cx="117.15" cy="190.95" r="0.85" fill="#1c1c58" fill-opacity="0.9"/>
<circle cx="118.67" cy="191.06" r="0.85" fill="#34347a" fill-opacity="0.9"/>
<circle cx="120.15" cy="191.12" r="0.85" fill="#34347a" fill-opacity="0.9"/>
<circle cx="122.32" cy="191.13" r="0.85" fill="#1c1c58" fill-opacity="0.9"/>
<circle cx="123.64" cy="191.20" r="0.85" fill="#1c1c58" fill-opacity="0.9"/>
<circle cx="102.92" cy="191.28" r="0.85" fill="#1c1c58" fill-opacity="0.9"/>
<circle cx="105.20" cy="191.32" r="0.85" fill="#34347a" fill-opacity="0.9"/>
<circle cx="106.90" cy="191.38" r="0.85" fill="#1c1c58" fill-opacity="0.9"/>
<circle cx="108.08" cy="191.39" r="0.85" fill="#34347a" fill-opacity="0.9"/>
<circle cx="110.04" cy="191.40" r="0.85" fill="#34347a" fill-opacity="0.9"/>
<circle cx="111.93" cy="191.51" r="0.85" fill="#34347a" fill-opacity="0.9"/>
<circle cx="113.67" cy="191.60" r="0.85" fill="#34347a" fill-opacity="0.9"/>
<circle cx="114.96" cy="191.66" r="0.85" fill="#1c1c58" fill-opacity="0.9"/>
<circle cx="116.69" cy="191.91" r="0.85" fill="#1c1c58" fill-opacity="0.9"/>
<circle cx="118.82" cy="192.03" r="0.85" fill="#1c1c58" fill-opacity="0.9"/>
<circle cx="120.34" cy="192.21" r="0.85" fill="#34347a" fill-opacity="0.9"/>
<circle cx="122.09" cy="192.76" r="0.85" fill="#34347a" fill-opacity="0.9"/>
<circle cx="123.89" cy="192.94" r="0.85" fill="#34347a" fill-opacity="0.9"/>
<circle cx="103.42" cy="192.96" r="0.85" fill="#34347a" fill-opacity="0.9"/>
<circle cx="105.55" cy="193.00" r="0.85" fill="#1c1c58" fill-opacity="0.9"/>
<circle cx="107.67" cy="193.13" r="0.85" fill="#34347a" fill-opacity="0.9"/>
<circle cx="110.39" cy="193.58" r="0.85" fill="#34347a" fill-opacity="0.9"/>
<circle cx="112.58" cy="193.82" r="0.85" fill="#1c1c58" fill-opacity="0.9"/>
<circle cx="114.61" cy="193.99" r="0.85" fill="#34347a" fill-opacity="0.9"/>
<circle cx="116.63" cy="194.11" r="0.85" fill="#1c1c58" fill-opacity="0.9"/>
<circle cx="118.90" cy="194.34" r="0.85" fill="#1c1c58" fill-opacity="0.9"/>
<circle cx="121.40" cy="194.41" r="0.85" fill="#34347a" fill-opacity="0.9"/>
<circle cx="123.61" cy="194.50" r="0.85" fill="#34347a" fill-opacity="0.9"/>
<circle cx="104.52" cy="194.73" r="0.85" fill="#1c1c58" fill-opacity="0.9"/>
<circle cx="106.67" cy="194.75" r="0.85" fill="#34347a" fill-opacity="0.9"/>
<circle cx="108.94" cy="194.79" r="0.85" fill="#34347a" fill-opacity="0.9"/>
<circle cx="111.03" cy="194.99" r="0.85" fill="#34347a" fill-opacity="0.9"/>
<circle cx="113.72" cy="195.21" r="0.85" fill="#1c1c58" fill-opacity="0.9"/>
<circle cx="115.98" cy="195.56" r="0.85" fill="#34347a" fill-opacity="0.9"/>
<circle cx="118.27" cy="195.58" r="0.85" fill="#1c1c58" fill-opacity="0.9"/>
<circle cx="120.42" cy="195.94" r="0.85" fill="#1c1c58" fill-opacity="0.9"/>
<circle cx="122.61" cy="195.99" r="0.85" fill="#34347a" fill-opacity="0.9"/>
<circle cx="103.35" cy="196.59" r="0.85" fill="#34347a" fill-opacity="0.9"/>
<circle cx="105.12" cy="196.61" r="0.85" fill="#34347a" fill-opacity="0.9"/>
<circle cx="107.26" cy="196.72" r="0.85" fill="#1c1c58" fill-opacity="0.9"/>
<circle cx="109.26" cy="196.75" r="0.85" fill="#1c1c58" fill-opacity="0.9"/>
<circle cx="111.19" cy="196.78" r="0.85" fill="#1c1c58" fill-opacity="0.9"/>
<circle cx="113.34" cy="197.18" r="0.85" fill="#1c1c58" fill-opacity="0.9"/>
<circle cx="115.73" cy="197.20" r="0.85" fill="#1c1c58" fill-opacity="0.9"/>
<circle cx="117.36" cy="197.22" r="0.85" fill="#34347a" fill-opacity="0.9"/>
<circle cx="119.74" cy="197.25" r="0.85" fill="#1c1c58" fill-opacity="0.9"/>
<circle cx="121.46" cy="197.81" r="0.85" fill="#1c1c58" fill-opacity="0.9"/>
<circle cx="123.92" cy="198.03" r="0.85" fill="#1c1c58" fill-opacity="0.9"/>
<circle cx="103.28" cy="198.42" r="0.85" fill="#1c1c58" fill-opacity="0.9"/>
<circle cx="105.60" cy="198.57" r="0.85" fill="#1c1c58" fill-opacity="0.9"/>
<circle cx="107.58" cy="198.62" r="0.85" fill="#1c1c58" fill-opacity="0.9"/>
<circle cx="110.07" cy="198.67" r="0.85" fill="#1c1c58" fill-opacity="0.9"/>
<circle cx="112.13" cy="198.67" r="0.85" fill="#34347a" fill-opacity="0.9"/>
<circle cx="114.77" cy="198.74" r="0.85" fill="#1c1c58" fill-opacity="0.9"/>
<circle cx="116.67" cy="198.91" r="0.85" fill="#34347a" fill-opacity="0.9"/>
<circle cx="118.91" cy="198.99" r="0.85" fill="#34347a" fill-opacity="0.9"/>
<circle cx="121.21" cy="199.04" r="0.85" fill="#34347a" fill-opacity="0.9"/>
<circle cx="123.91" cy="199.09" r="0.85" fill="#1c1c58" fill-opacity="0.9"/>
<circle cx="103.37" cy="199.85" r="0.85" fill="#1c1c58" fill-opacity="0.9"/>
<circle cx="104.57" cy="199.93" r="0.85" fill="#1c1c58" fill-opacity="0.9"/>
<circle cx="106.19" cy="199.94" r="0.85" fill="#1c1c58" fill-opacity="0.9"/>
<circle cx="107.40" cy="200.17" r="0.85" fill="#34347a" fill-opacity="0.9"/>
<circle cx="108.77" cy="200.22" r="0.85" fill="#1c1c58" fill-opacity="0.9"/>
<circle cx="110.24" cy="200.26" r="0.85" fill="#34347a" fill-opacity="0.9"/>
<circle cx="111.57" cy="200.31" r="0.85" fill="#34347a" fill-opacity="0.9"/>
<circle cx="112.61" cy="200.33" r="0.85" fill="#1c1c58" fill-opacity="0.9"/>
<circle cx="114.29" cy="200.37" r="0.85" fill="#1c1c58" fill-opacity="0.9"/>
<circle cx="115.34" cy="200.52" r="0.85" fill="#1c1c58" fill-opacity="0.9"/>
<circle cx="117.20" cy="200.56" r="0.85" fill="#1c1c58" fill-opacity="0.9"/>
<circle cx="118.45" cy="200.79" r="0.85" fill="#1c1c58" fill-opacity="0.9"/>
<circle cx="119.86" cy="201.16" r="0.85" fill="#1c1c58" fill-opacity="0.9"/>
<circle cx="121.01" cy="201.26" r="0.85" fill="#1c1c58" fill-opacity="0.9"/>
<circle cx="122.60" cy="201.30" r="0.85" fill="#1c1c58" fill-opacity="0.9"/>
<circle cx="123.68" cy="201.41" r="0.85" fill="#1c1c58" fill-opacity="0.9"/>
<circle cx="105.64" cy="201.62" r="0.85" fill="#1c1c58" fill-opacity="0.9"/>
<circle cx="107.64" cy="201.68" r="0.85" fill="#1c1c58" fill-opacity="0.9"/>
<circle cx="110.30" cy="201.70" r="0.85" fill="#34347a" fill-opacity="0.9"/>
<circle cx="112.58" cy="201.81" r="0.85" fill="#34347a" fill-opacity="0.9"/>
<circle cx="114.44" cy="201.97" r="0.85" fill="#1c1c58" fill-opacity="0.9"/>
<circle cx="116.72" cy="202.45" r="0.85" fill="#1c1c58" fill-opacity="0.9"/>
<circle cx="119.37" cy="202.69" r="0.85" fill="#1c1c58" fill-opacity="0.9"/>
<circle cx="121.50" cy="203.00" r="0.85" fill="#34347a" fill-opacity="0.9"/>
<circle cx="108.05" cy="203.32" r="0.85" fill="#1c1c58" fill-opacity="0.9"/>
<circle cx="110.23" cy="203.68" r="0.85" fill="#1c1c58" fill-opacity="0.9"/>
<circle cx="112.57" cy="204.16" r="0.85" fill="#1c1c58" fill-opacity="0.9"/>
<circle cx="114.38" cy="204.28" r="0.85" fill="#1c1c58" fill-opacity="0.9"/>
<circle cx="117.08" cy="204.46" r="0.85" fill="#34347a" fill-opacity="0.9"/>
<circle cx="119.18" cy="204.78" r="0.85" fill="#1c1c58" fill-opacity="0.9"/>
<circle cx="105.80" cy="204.94" r="0.85" fill="#34347a" fill-opacity="0.9"/>
<circle cx="107.87" cy="205.05" r="0.85" fill="#34347a" fill-opacity="0.9"/>
<circle cx="109.89" cy="205.08" r="0.85" fill="#1c1c58" fill-opacity="0.9"/>
<circle cx="112.33" cy="205.16" r="0.85" fill="#1c1c58" fill-opacity="0.9"/>
<circle cx="114.60" cy="205.18" r="0.85" fill="#34347a" fill-opacity="0.9"/>
<circle cx="116.70" cy="205.46" r="0.85" fill="#34347a" fill-opacity="0.9"/>
<circle cx="119.33" cy="206.07" r="0.85" fill="#1c1c58" fill-opacity="0.9"/>
<circle cx="121.25" cy="206.38" r="0.85" fill="#34347a" fill-opacity="0.9"/>
<circle cx="107.74" cy="206.88" r="0.85" fill="#1c1c58" fill-opacity="0.9"/>
<circle cx="110.09" cy="206.95" r="0.85" fill="#1c1c58" fill-opacity="0.9"/>
<circle cx="112.56" cy="207.36" r="0.85" fill="#34347a" fill-opacity="0.9"/>
<circle cx="114.73" cy="207.62" r="0.85" fill="#34347a" fill-opacity="0.9"/>
<circle cx="117.07" cy="207.67" r="0.85" fill="#34347a" fill-opacity="0.9"/>
<circle cx="118.99" cy="207.98" r="0.85" fill="#1c1c58" fill-opacity="0.9"/>
<circle cx="110.04" cy="210.27" r="0.85" fill="#34347a" fill-opacity="0.9"/>
<circle cx="112.61" cy="210.29" r="0.85" fill="#1c1c58" fill-opacity="0.9"/>
<circle cx="114.86" cy="210.41" r="0.85" fill="#34347a" fill-opacity="0.9"/>
<circle cx="116.87" cy="211.43" r="0.85" fill="#1c1c58" fill-opacity="0.9"/>
<circle cx="112.38" cy="212.10" r="0.85" fill="#1c1c58" fill-opacity="0.9"/>
<circle cx="114.44" cy="212.22" r="0.85" fill="#1c1c58" fill-opacity="0.9"/>
<circle cx="113.30" cy="214.72" r="0.85" fill="#1c1c58" fill-opacity="0.9"/>
<circle cx="110.95" cy="215.45" r="0.85" fill="#34347a" fill-opacity="0.9"/>
<circle cx="113.77" cy="215.52" r="0.85" fill="#1c1c58" fill-opacity="0.9"/>
<circle cx="115.94" cy="216.68" r="0.85" fill="#34347a" fill-opacity="0.9"/>
<circle cx="113.41" cy="217.29" r="0.85" fill="#34347a" fill-opacity="0.9"/>
<circle cx="112.41" cy="230.63" r="0.85" fill="#1c1c58" fill-opacity="0.9"/>
<circle cx="114.63" cy="231.55" r="0.85" fill="#34347a" fill-opacity="0.9"/>
<circle cx="144.19" cy="186.04" r="0.85" fill="#f0de48" fill-opacity="0.95"/>
<circle cx="141.38" cy="186.43" r="0.85" fill="#f0de48" fill-opacity="0.95"/>
<circle cx="143.33" cy="186.85" r="0.85" fill="#f2e470" fill-opacity="0.95"/>
<circle cx="145.20" cy="187.12" r="0.85" fill="#f0de48" fill-opacity="0.95"/>
<circle cx="147.38" cy="187.41" r="0.85" fill="#f2e470" fill-opacity="0.95"/>
<circle cx="137.00" cy="188.10" r="0.85" fill="#f2e470" fill-opacity="0.95"/>
<circle cx="138.87" cy="188.17" r="0.85" fill="#f0de48" fill-opacity="0.95"/>
<circle cx="141.20" cy="188.28" r="0.85" fill="#f0de48" fill-opacity="0.95"/>
<circle cx="143.37" cy="188.34" r="0.85" fill="#f0de48" fill-opacity="0.95"/>
<circle cx="145.09" cy="188.85" r="0.85" fill="#f0de48" fill-opacity="0.95"/>
<circle cx="147.18" cy="189.01" r="0.85" fill="#f0de48" fill-opacity="0.95"/>
<circle cx="149.49" cy="189.23" r="0.85" fill="#f0de48" fill-opacity="0.95"/>
<circle cx="151.78" cy="189.27" r="0.85" fill="#f2e470" fill-opacity="0.95"/>
<circle cx="139.14" cy="190.04" r="0.85" fill="#f0de48" fill-opacity="0.95"/>
<circle cx="141.13" cy="190.10" r="0.85" fill="#f2e470" fill-opacity="0.95"/>
<circle cx="143.50" cy="190.54" r="0.85" fill="#f0de48" fill-opacity="0.95"/>
<circle cx="145.09" cy="190.61" r="0.85" fill="#f2e470" fill-opacity="0.95"/>
<circle cx="147.74" cy="190.96" r="0.85" fill="#f2e470" fill-opacity="0.95"/>
<circle cx="149.49" cy="191.03" r="0.85" fill="#f0de48" fill-opacity="0.95"/>
<circle cx="137.14" cy="191.69" r="0.85" fill="#f0de48" fill-opacity="0.95"/>
<circle cx="139.19" cy="191.85" r="0.85" fill="#f2e470" fill-opacity="0.95"/>
<circle cx="140.91" cy="192.02" r="0.85" fill="#f0de48" fill-opacity="0.95"/>
<circle cx="143.43" cy="192.02" r="0.85" fill="#f2e470" fill-opacity="0.95"/>
<circle cx="145.08" cy="192.22" r="0.85" fill="#f2e470" fill-opacity="0.95"/>
<circle cx="147.71" cy="192.23" r="0.85" fill="#f2e470" fill-opacity="0.95"/>
<circle cx="149.65" cy="192.59" r="0.85" fill="#f0de48" fill-opacity="0.95"/>
<circle cx="151.73" cy="192.61" r="0.85" fill="#f0de48" fill-opacity="0.95"/>
<circle cx="139.96" cy="193.53" r="0.85" fill="#f2e470" fill-opacity="0.95"/>
<circle cx="141.91" cy="193.69" r="0.85" fill="#f0de48" fill-opacity="0.95"/>
<circle cx="144.06" cy="194.02" r="0.85" fill="#f0de48" fill-opacity="0.95"/>
<circle cx="146.53" cy="194.05" r="0.85" fill="#f2e470" fill-opacity="0.95"/>
<circle cx="148.68" cy="194.19" r="0.85" fill="#f2e470" fill-opacity="0.95"/>
<circle cx="136.96" cy="194.71" r="0.85" fill="#f2e470" fill-opacity="0.95"/>
<circle cx="139.22" cy="195.08" r="0.85" fill="#f0de48" fill-opacity="0.95"/>
<circle cx="141.40" cy="195.22" r="0.85" fill="#f2e470" fill-opacity="0.95"/>
<circle cx="143.46" cy="195.44" r="0.85" fill="#f0de48" fill-opacity="0.95"/>
<circle cx="145.54" cy="195.53" r="0.85" fill="#f0de48" fill-opacity="0.95"/>
<circle cx="147.52" cy="195.67" r="0.85" fill="#f0de48" fill-opacity="0.95"/>
<circle cx="149.73" cy="195.89" r="0.85" fill="#f2e470" fill-opacity="0.95"/>
<circle cx="151.38" cy="196.20" r="0.85" fill="#f0de48" fill-opacity="0.95"/>
<circle cx="134.72" cy="196.51" r="0.85" fill="#f2e470" fill-opacity="0.95"/>
<circle cx="136.65" cy="196.84" r="0.85" fill="#f0de48" fill-opacity="0.95"/>
<circle cx="138.76" cy="196.97" r="0.85" fill="#f0de48" fill-opacity="0.95"/>
<circle cx="141.34" cy="197.06" r="0.85" fill="#f0de48" fill-opacity="0.95"/>
<circle cx="143.02" cy="197.16" r="0.85" fill="#f0de48" fill-opacity="0.95"/>
<circle cx="145.17" cy="197.18" r="0.85" fill="#f0de48" fill-opacity="0.95"/>
<circle cx="147.22" cy="197.55" r="0.85" fill="#f0de48" fill-opacity="0.95"/>
<circle cx="149.58" cy="197.83" r="0.85" fill="#f2e470" fill-opacity="0.95"/>
<circle cx="151.41" cy="197.93" r="0.85" fill="#f0de48" fill-opacity="0.95"/>
<circle cx="153.96" cy="198.04" r="0.85" fill="#f0de48" fill-opacity="0.95"/>
<circle cx="133.26" cy="198.14" r="0.85" fill="#f2e470" fill-opacity="0.95"/>
<circle cx="135.35" cy="198.15" r="0.85" fill="#f0de48" fill-opacity="0.95"/>
<circle cx="137.22" cy="198.39" r="0.85" fill="#f0de48" fill-opacity="0.95"/>
<circle cx="139.68" cy="198.49" r="0.85" fill="#f0de48" fill-opacity="0.95"/>
<circle cx="141.06" cy="198.97" r="0.85" fill="#f2e470" fill-opacity="0.95"/>
<circle cx="143.09" cy="199.08" r="0.85" fill="#f0de48" fill-opacity="0.95"/>
<circle cx="145.34" cy="199.14" r="0.85" fill="#f0de48" fill-opacity="0.95"/>
<circle cx="147.22" cy="199.22" r="0.85" fill="#f0de48" fill-opacity="0.95"/>
<circle cx="149.28" cy="199.57" r="0.85" fill="#f0de48" fill-opacity="0.95"/>
<circle cx="151.42" cy="199.57" r="0.85" fill="#f0de48" fill-opacity="0.95"/>
<circle cx="153.31" cy="199.59" r="0.85" fill="#f0de48" fill-opacity="0.95"/>
<circle cx="155.30" cy="199.63" r="0.85" fill="#f0de48" fill-opacity="0.95"/>
<circle cx="133.22" cy="199.75" r="0.85" fill="#f0de48" fill-opacity="0.95"/>
<circle cx="135.51" cy="200.06" r="0.85" fill="#f0de48" fill-opacity="0.95"/>
<circle cx="137.33" cy="200.18" r="0.85" fill="#f2e470" fill-opacity="0.95"/>
<circle cx="139.17" cy="200.19" r="0.85" fill="#f0de48" fill-opacity="0.95"/>
<circle cx="140.82" cy="200.28" r="0.85" fill="#f2e470" fill-opacity="0.95"/>
<circle cx="142.38" cy="200.43" r="0.85" fill="#f2e470" fill-opacity="0.95"/>
<circle cx="144.19" cy="200.58" r="0.85" fill="#f2e470" fill-opacity="0.95"/>
<circle cx="146.07" cy="200.62" r="0.85" fill="#f0de48" fill-opacity="0.95"/>
<circle cx="147.99" cy="200.77" r="0.85" fill="#f0de48" fill-opacity="0.95"/>
<circle cx="149.86" cy="200.80" r="0.85" fill="#f0de48" fill-opacity="0.95"/>
<circle cx="151.80" cy="200.98" r="0.85" fill="#f0de48" fill-opacity="0.95"/>
<circle cx="153.16" cy="201.10" r="0.85" fill="#f2e470" fill-opacity="0.95"/>
<circle cx="155.05" cy="201.23" r="0.85" fill="#f2e470" fill-opacity="0.95"/>
<circle cx="135.74" cy="201.45" r="0.85" fill="#f0de48" fill-opacity="0.95"/>
<circle cx="138.25" cy="201.63" r="0.85" fill="#f2e470" fill-opacity="0.95"/>
<circle cx="140.26" cy="201.69" r="0.85" fill="#f0de48" fill-opacity="0.95"/>
<circle cx="142.43" cy="201.75" r="0.85" fill="#f0de48" fill-opacity="0.95"/>
<circle cx="144.32" cy="201.79" r="0.85" fill="#f2e470" fill-opacity="0.95"/>
<circle cx="146.60" cy="201.80" r="0.85" fill="#f2e470" fill-opacity="0.95"/>
<circle cx="148.58" cy="202.05" r="0.85" fill="#f2e470" fill-opacity="0.95"/>
<circle cx="150.62" cy="202.31" r="0.85" fill="#f0de48" fill-opacity="0.95"/>
<circle cx="152.50" cy="202.91" r="0.85" fill="#f0de48" fill-opacity="0.95"/>
<circle cx="135.99" cy="203.24" r="0.85" fill="#f0de48" fill-opacity="0.95"/>
<circle cx="138.26" cy="203.78" r="0.85" fill="#f0de48" fill-opacity="0.95"/>
<circle cx="140.35" cy="203.97" r="0.85" fill="#f0de48" fill-opacity="0.95"/>
<circle cx="142.48" cy="204.00" r="0.85" fill="#f2e470" fill-opacity="0.95"/>
<circle cx="144.13" cy="204.19" r="0.85" fill="#f2e470" fill-opacity="0.95"/>
<circle cx="146.64" cy="204.25" r="0.85" fill="#f2e470" fill-opacity="0.95"/>
<circle cx="148.36" cy="204.28" r="0.85" fill="#f0de48" fill-opacity="0.95"/>
<circle cx="150.89" cy="204.55" r="0.85" fill="#f2e470" fill-opacity="0.95"/>
<circle cx="152.66" cy="204.55" r="0.85" fill="#f0de48" fill-opacity="0.95"/>
<circle cx="138.11" cy="205.17" r="0.85" fill="#f0de48" fill-opacity="0.95"/>
<circle cx="140.25" cy="205.19" r="0.85" fill="#f2e470" fill-opacity="0.95"/>
<circle cx="142.05" cy="205.23" r="0.85" fill="#f2e470" fill-opacity="0.95"/>
<circle cx="144.41" cy="205.77" r="0.85" fill="#f2e470" fill-opacity="0.95"/>
<circle cx="146.26" cy="205.88" r="0.85" fill="#f0de48" fill-opacity="0.95"/>
<circle cx="148.59" cy="206.14" r="0.85" fill="#f0de48" fill-opacity="0.95"/>
<circle cx="150.69" cy="206.19" r="0.85" fill="#f0de48" fill-opacity="0.95"/>
<circle cx="138.12" cy="206.67" r="0.85" fill="#f2e470" fill-opacity="0.95"/>
<circle cx="139.84" cy="206.98" r="0.85" fill="#f2e470" fill-opacity="0.95"/>
<circle cx="141.91" cy="207.24" r="0.85" fill="#f2e470" fill-opacity="0.95"/>
<circle cx="144.09" cy="207.26" r="0.85" fill="#f2e470" fill-opacity="0.95"/>
<circle cx="146.40" cy="207.91" r="0.85" fill="#f0de48" fill-opacity="0.95"/>
<circle cx="148.61" cy="208.06" r="0.85" fill="#f2e470" fill-opacity="0.95"/>
<circle cx="150.76" cy="208.19" r="0.85" fill="#f2e470" fill-opacity="0.95"/>
<circle cx="140.91" cy="208.85" r="0.85" fill="#f2e470" fill-opacity="0.95"/>
<circle cx="143.20" cy="208.88" r="0.85" fill="#f0de48" fill-opacity="0.95"/>
<circle cx="145.32" cy="209.35" r="0.85" fill="#f0de48" fill-opacity="0.95"/>
<circle cx="147.21" cy="209.63" r="0.85" fill="#f0de48" fill-opacity="0.95"/>
<circle cx="138.96" cy="210.25" r="0.85" fill="#f0de48" fill-opacity="0.95"/>
<circle cx="140.87" cy="210.27" r="0.85" fill="#f0de48" fill-opacity="0.95"/>
<circle cx="143.09" cy="210.29" r="0.85" fill="#f0de48" fill-opacity="0.95"/>
<circle cx="145.53" cy="210.75" r="0.85" fill="#f0de48" fill-opacity="0.95"/>
<circle cx="147.32" cy="210.80" r="0.85" fill="#f2e470" fill-opacity="0.95"/>
<circle cx="149.36" cy="211.20" r="0.85" fill="#f0de48" fill-opacity="0.95"/>
<circle cx="137.79" cy="211.82" r="0.85" fill="#f0de48" fill-opacity="0.95"/>
<circle cx="140.15" cy="212.58" r="0.85" fill="#f0de48" fill-opacity="0.95"/>
<circle cx="142.01" cy="212.67" r="0.85" fill="#f2e470" fill-opacity="0.95"/>
<circle cx="144.06" cy="212.93" r="0.85" fill="#f0de48" fill-opacity="0.95"/>
<circle cx="146.33" cy="212.93" r="0.85" fill="#f0de48" fill-opacity="0.95"/>
<circle cx="148.54" cy="213.07" r="0.85" fill="#f2e470" fill-opacity="0.95"/>
<circle cx="150.34" cy="213.32" r="0.85" fill="#f2e470" fill-opacity="0.95"/>
<circle cx="140.31" cy="213.58" r="0.85" fill="#f2e470" fill-opacity="0.95"/>
<circle cx="142.48" cy="213.73" r="0.85" fill="#f2e470" fill-opacity="0.95"/>
<circle cx="144.43" cy="213.93" r="0.85" fill="#f2e470" fill-opacity="0.95"/>
<circle cx="146.57" cy="214.06" r="0.85" fill="#f2e470" fill-opacity="0.95"/>
<circle cx="148.42" cy="214.34" r="0.85" fill="#f0de48" fill-opacity="0.95"/>
<circle cx="143.02" cy="215.26" r="0.85" fill="#f2e470" fill-opacity="0.95"/>
<circle cx="145.53" cy="216.18" r="0.85" fill="#f2e470" fill-opacity="0.95"/>
<circle cx="141.08" cy="216.99" r="0.85" fill="#f0de48" fill-opacity="0.95"/>
<circle cx="143.08" cy="217.49" r="0.85" fill="#f2e470" fill-opacity="0.95"/>
<circle cx="145.18" cy="218.12" r="0.85" fill="#f2e470" fill-opacity="0.95"/>
<circle cx="147.37" cy="218.13" r="0.85" fill="#f0de48" fill-opacity="0.95"/>
<circle cx="144.28" cy="219.71" r="0.85" fill="#f0de48" fill-opacity="0.95"/>
<circle cx="140.88" cy="220.20" r="0.85" fill="#f0de48" fill-opacity="0.95"/>
<circle cx="143.45" cy="220.60" r="0.85" fill="#f2e470" fill-opacity="0.95"/>
<circle cx="145.07" cy="220.89" r="0.85" fill="#f0de48" fill-opacity="0.95"/>
<circle cx="147.22" cy="221.08" r="0.85" fill="#f0de48" fill-opacity="0.95"/>
<circle cx="140.23" cy="224.07" r="0.85" fill="#f2e470" fill-opacity="0.95"/>
<circle cx="141.97" cy="224.21" r="0.85" fill="#f0de48" fill-opacity="0.95"/>
<circle cx="144.10" cy="224.28" r="0.85" fill="#f2e470" fill-opacity="0.95"/>
<circle cx="146.36" cy="224.68" r="0.85" fill="#f2e470" fill-opacity="0.95"/>
<circle cx="148.24" cy="224.79" r="0.85" fill="#f2e470" fill-opacity="0.95"/>
<circle cx="143.23" cy="226.19" r="0.85" fill="#f0de48" fill-opacity="0.95"/>
<circle cx="145.38" cy="226.52" r="0.85" fill="#f2e470" fill-opacity="0.95"/>
<circle cx="140.98" cy="227.27" r="0.85" fill="#f0de48" fill-opacity="0.95"/>
<circle cx="143.29" cy="228.21" r="0.85" fill="#f0de48" fill-opacity="0.95"/>
<circle cx="145.63" cy="228.37" r="0.85" fill="#f0de48" fill-opacity="0.95"/>
<circle cx="147.22" cy="228.40" r="0.85" fill="#f0de48" fill-opacity="0.95"/>
<circle cx="144.31" cy="232.34" r="0.85" fill="#f2e470" fill-opacity="0.95"/>
<line x1="51.40" y1="187.50" x2="51.40" y2="206.96" stroke="#151515" stroke-width="1.6" stroke-linecap="butt"/>
<line x1="41.10" y1="196.59" x2="61.70" y2="196.59" stroke="#151515" stroke-width="2.2" stroke-linecap="butt"/>
<line x1="46.40" y1="187.50" x2="56.40" y2="187.50" stroke="#151515" stroke-width="1.9000000000000001" stroke-linecap="butt"/>
<line x1="46.40" y1="206.96" x2="56.40" y2="206.96" stroke="#151515" stroke-width="1.9000000000000001" stroke-linecap="butt"/>
<line x1="82.20" y1="188.15" x2="82.20" y2="217.32" stroke="#151515" stroke-width="1.6" stroke-linecap="butt"/>
<line x1="71.90" y1="202.37" x2="92.50" y2="202.37" stroke="#151515" stroke-width="2.2" stroke-linecap="butt"/>
<line x1="77.20" y1="188.15" x2="87.20" y2="188.15" stroke="#151515" stroke-width="1.9000000000000001" stroke-linecap="butt"/>
<line x1="77.20" y1="217.32" x2="87.20" y2="217.32" stroke="#151515" stroke-width="1.9000000000000001" stroke-linecap="butt"/>
<line x1="113.50" y1="189.34" x2="113.50" y2="209.07" stroke="#151515" stroke-width="1.6" stroke-linecap="butt"/>
<line x1="103.20" y1="198.97" x2="123.80" y2="198.97" stroke="#151515" stroke-width="2.2" stroke-linecap="butt"/>
<line x1="108.50" y1="189.34" x2="118.50" y2="189.34" stroke="#151515" stroke-width="1.9000000000000001" stroke-linecap="butt"/>
<line x1="108.50" y1="209.07" x2="118.50" y2="209.07" stroke="#151515" stroke-width="1.9000000000000001" stroke-linecap="butt"/>
<line x1="144.30" y1="191.54" x2="144.30" y2="213.65" stroke="#151515" stroke-width="1.6" stroke-linecap="butt"/>
<line x1="134.00" y1="202.46" x2="154.60" y2="202.46" stroke="#151515" stroke-width="2.2" stroke-linecap="butt"/>
<line x1="139.30" y1="191.54" x2="149.30" y2="191.54" stroke="#151515" stroke-width="1.9000000000000001" stroke-linecap="butt"/>
<line x1="139.30" y1="213.65" x2="149.30" y2="213.65" stroke="#151515" stroke-width="1.9000000000000001" stroke-linecap="butt"/>
<text x="51.70" y="266.70" font-size="6.6" text-anchor="middle" textLength="19.0" lengthAdjust="spacingAndGlyphs">CD37<tspan font-size="5.0" dy="-2.4">+</tspan></text>
<text x="82.50" y="266.70" font-size="6.6" text-anchor="middle" textLength="19.0" lengthAdjust="spacingAndGlyphs">CD37<tspan font-size="5.0" dy="-2.4">&#8722;</tspan></text>
<text x="113.80" y="266.70" font-size="6.6" text-anchor="middle" textLength="19.0" lengthAdjust="spacingAndGlyphs">CD37<tspan font-size="5.0" dy="-2.4">+</tspan></text>
<text x="144.60" y="266.70" font-size="6.6" text-anchor="middle" textLength="19.0" lengthAdjust="spacingAndGlyphs">CD37<tspan font-size="5.0" dy="-2.4">&#8722;</tspan></text>
<line x1="41.50" y1="268.80" x2="87.50" y2="268.80" stroke="#231f20" stroke-width="1.0" stroke-linecap="butt"/>
<line x1="104.50" y1="268.80" x2="150.00" y2="268.80" stroke="#231f20" stroke-width="1.0" stroke-linecap="butt"/>
<text x="65.00" y="278.90" font-size="8.6" text-anchor="middle" textLength="15.00" lengthAdjust="spacingAndGlyphs">GCB</text>
<text x="126.30" y="278.90" font-size="8.6" text-anchor="middle" textLength="15.00" lengthAdjust="spacingAndGlyphs">ABC</text>
<text x="19.0" y="212.8" font-size="9.2" text-anchor="middle" transform="rotate(-90 19.0 212.8)" textLength="69.5" lengthAdjust="spacingAndGlyphs"><tspan font-style="italic">CD20</tspan> mRNA (Log2)</text>
<line x1="46.90" y1="168.50" x2="85.00" y2="168.50" stroke="#231f20" stroke-width="1.0" stroke-linecap="butt"/>
<line x1="105.80" y1="168.50" x2="146.20" y2="168.50" stroke="#231f20" stroke-width="1.0" stroke-linecap="butt"/>
<text x="52.8" y="166.5" font-size="6.6" fill="#3a3a3a" textLength="27.6" lengthAdjust="spacingAndGlyphs"><tspan font-style="italic">P</tspan>=0.0008</text>
<text x="113.4" y="166.5" font-size="6.6" fill="#3a3a3a" textLength="28.1" lengthAdjust="spacingAndGlyphs"><tspan font-style="italic">P</tspan>=0.0009</text>
<text x="260.80" y="46.30" font-size="9.0" text-anchor="middle" font-weight="bold" fill="#000" textLength="60.00" lengthAdjust="spacingAndGlyphs">CD20 antibody</text>
<line x1="205.00" y1="50.50" x2="205.00" y2="126.80" stroke="#231f20" stroke-width="1.8" stroke-linecap="butt"/>
<line x1="202.00" y1="53.95" x2="205.00" y2="53.95" stroke="#231f20" stroke-width="1.0" stroke-linecap="butt"/>
<text x="200.00" y="56.22" font-size="6.3" text-anchor="end">500</text>
<line x1="202.00" y1="67.80" x2="205.00" y2="67.80" stroke="#231f20" stroke-width="1.0" stroke-linecap="butt"/>
<text x="200.00" y="70.07" font-size="6.3" text-anchor="end">400</text>
<line x1="202.00" y1="81.65" x2="205.00" y2="81.65" stroke="#231f20" stroke-width="1.0" stroke-linecap="butt"/>
<text x="200.00" y="83.92" font-size="6.3" text-anchor="end">300</text>
<line x1="202.00" y1="95.50" x2="205.00" y2="95.50" stroke="#231f20" stroke-width="1.0" stroke-linecap="butt"/>
<text x="200.00" y="97.77" font-size="6.3" text-anchor="end">200</text>
<line x1="202.00" y1="109.35" x2="205.00" y2="109.35" stroke="#231f20" stroke-width="1.0" stroke-linecap="butt"/>
<text x="200.00" y="111.62" font-size="6.3" text-anchor="end">100</text>
<line x1="202.00" y1="123.20" x2="205.00" y2="123.20" stroke="#231f20" stroke-width="1.0" stroke-linecap="butt"/>
<text x="200.00" y="125.47" font-size="6.3" text-anchor="end">0</text>
<line x1="204.40" y1="126.30" x2="316.50" y2="126.30" stroke="#231f20" stroke-width="1.8" stroke-linecap="butt"/>
<line x1="205.00" y1="126.30" x2="205.00" y2="129.30" stroke="#231f20" stroke-width="1.0" stroke-linecap="butt"/>
<text x="205.00" y="137.70" font-size="6.3" text-anchor="middle">0</text>
<line x1="223.06" y1="126.30" x2="223.06" y2="129.30" stroke="#231f20" stroke-width="1.0" stroke-linecap="butt"/>
<text x="223.06" y="137.70" font-size="6.3" text-anchor="middle">200</text>
<line x1="241.12" y1="126.30" x2="241.12" y2="129.30" stroke="#231f20" stroke-width="1.0" stroke-linecap="butt"/>
<text x="241.12" y="137.70" font-size="6.3" text-anchor="middle">400</text>
<line x1="259.18" y1="126.30" x2="259.18" y2="129.30" stroke="#231f20" stroke-width="1.0" stroke-linecap="butt"/>
<text x="259.18" y="137.70" font-size="6.3" text-anchor="middle">600</text>
<line x1="277.24" y1="126.30" x2="277.24" y2="129.30" stroke="#231f20" stroke-width="1.0" stroke-linecap="butt"/>
<text x="277.24" y="137.70" font-size="6.3" text-anchor="middle">800</text>
<line x1="295.30" y1="126.30" x2="295.30" y2="129.30" stroke="#231f20" stroke-width="1.0" stroke-linecap="butt"/>
<text x="295.30" y="137.70" font-size="6.3" text-anchor="middle">1000</text>
<line x1="313.36" y1="126.30" x2="313.36" y2="129.30" stroke="#231f20" stroke-width="1.0" stroke-linecap="butt"/>
<text x="313.36" y="137.70" font-size="6.3" text-anchor="middle">1200</text>
<text x="260.70" y="148.90" font-size="9.0" text-anchor="middle" textLength="43.30" lengthAdjust="spacingAndGlyphs">CD37 (gMFI)</text>
<text x="183.50" y="88.50" font-size="9.0" text-anchor="middle" textLength="43.60" lengthAdjust="spacingAndGlyphs" transform="rotate(-90 183.50 88.50)">CD20 (gMFI)</text>
<line x1="205.50" y1="120.60" x2="309.50" y2="69.80" stroke="#444" stroke-width="1.3" stroke-linecap="butt"/>
<path d="M206.50,113.91L210.79,112.17L215.08,110.41L219.38,108.61L223.67,106.76L227.96,104.87L232.25,102.92L236.54,100.91L240.83,98.83L245.12,96.69L249.42,94.49L253.71,92.22L258.00,89.90L262.29,87.54L266.58,85.13L270.88,82.69L275.17,80.23L279.46,77.74L283.75,75.23L288.04,72.70L292.33,70.16L296.62,67.60L300.92,65.04L305.21,62.47L309.50,59.89" fill="none" stroke="#555" stroke-width="1.0" stroke-dasharray="2.3 1.5"/>
<path d="M208.50,125.12L212.71,122.74L216.92,120.39L221.12,118.08L225.33,115.81L229.54,113.59L233.75,111.41L237.96,109.30L242.17,107.24L246.38,105.24L250.58,103.30L254.79,101.41L259.00,99.56L263.21,97.76L267.42,95.99L271.62,94.25L275.83,92.54L280.04,90.85L284.25,89.18L288.46,87.52L292.67,85.88L296.88,84.25L301.08,82.62L305.29,81.01L309.50,79.40" fill="none" stroke="#555" stroke-width="1.0" stroke-dasharray="2.3 1.5"/>
<circle cx="205.00" cy="123.20" r="2.15" fill="#000"/>
<circle cx="208.61" cy="121.12" r="2.15" fill="#000"/>
<circle cx="212.22" cy="112.81" r="2.15" fill="#000"/>
<circle cx="264.60" cy="87.19" r="2.15" fill="#000"/>
<circle cx="309.75" cy="71.95" r="2.15" fill="#000"/>
<text x="260.40" y="174.00" font-size="9.0" text-anchor="middle" font-weight="bold" fill="#000" textLength="30.70" lengthAdjust="spacingAndGlyphs">Rituxan</text>
<line x1="205.00" y1="183.80" x2="205.00" y2="268.70" stroke="#231f20" stroke-width="1.8" stroke-linecap="butt"/>
<line x1="202.00" y1="186.56" x2="205.00" y2="186.56" stroke="#231f20" stroke-width="1.0" stroke-linecap="butt"/>
<text x="200.00" y="188.83" font-size="6.3" text-anchor="end">700</text>
<line x1="202.00" y1="196.38" x2="205.00" y2="196.38" stroke="#231f20" stroke-width="1.0" stroke-linecap="butt"/>
<text x="200.00" y="198.65" font-size="6.3" text-anchor="end">600</text>
<line x1="202.00" y1="206.20" x2="205.00" y2="206.20" stroke="#231f20" stroke-width="1.0" stroke-linecap="butt"/>
<text x="200.00" y="208.47" font-size="6.3" text-anchor="end">500</text>
<line x1="202.00" y1="216.02" x2="205.00" y2="216.02" stroke="#231f20" stroke-width="1.0" stroke-linecap="butt"/>
<text x="200.00" y="218.29" font-size="6.3" text-anchor="end">400</text>
<line x1="202.00" y1="225.84" x2="205.00" y2="225.84" stroke="#231f20" stroke-width="1.0" stroke-linecap="butt"/>
<text x="200.00" y="228.11" font-size="6.3" text-anchor="end">300</text>
<line x1="202.00" y1="235.66" x2="205.00" y2="235.66" stroke="#231f20" stroke-width="1.0" stroke-linecap="butt"/>
<text x="200.00" y="237.93" font-size="6.3" text-anchor="end">200</text>
<line x1="202.00" y1="245.48" x2="205.00" y2="245.48" stroke="#231f20" stroke-width="1.0" stroke-linecap="butt"/>
<text x="200.00" y="247.75" font-size="6.3" text-anchor="end">100</text>
<line x1="202.00" y1="255.30" x2="205.00" y2="255.30" stroke="#231f20" stroke-width="1.0" stroke-linecap="butt"/>
<text x="200.00" y="257.57" font-size="6.3" text-anchor="end">0</text>
<line x1="202.00" y1="265.12" x2="205.00" y2="265.12" stroke="#231f20" stroke-width="1.0" stroke-linecap="butt"/>
<text x="200.00" y="267.39" font-size="6.3" text-anchor="end">-100</text>
<line x1="204.40" y1="255.30" x2="326.20" y2="255.30" stroke="#231f20" stroke-width="1.8" stroke-linecap="butt"/>
<line x1="224.60" y1="255.30" x2="224.60" y2="258.30" stroke="#231f20" stroke-width="1.0" stroke-linecap="butt"/>
<text x="224.60" y="266.20" font-size="6.3" text-anchor="middle">200</text>
<line x1="244.20" y1="255.30" x2="244.20" y2="258.30" stroke="#231f20" stroke-width="1.0" stroke-linecap="butt"/>
<text x="244.20" y="266.20" font-size="6.3" text-anchor="middle">400</text>
<line x1="263.80" y1="255.30" x2="263.80" y2="258.30" stroke="#231f20" stroke-width="1.0" stroke-linecap="butt"/>
<text x="263.80" y="266.20" font-size="6.3" text-anchor="middle">600</text>
<line x1="283.40" y1="255.30" x2="283.40" y2="258.30" stroke="#231f20" stroke-width="1.0" stroke-linecap="butt"/>
<text x="283.40" y="266.20" font-size="6.3" text-anchor="middle">800</text>
<line x1="303.00" y1="255.30" x2="303.00" y2="258.30" stroke="#231f20" stroke-width="1.0" stroke-linecap="butt"/>
<text x="303.00" y="266.20" font-size="6.3" text-anchor="middle">1000</text>
<line x1="322.60" y1="255.30" x2="322.60" y2="258.30" stroke="#231f20" stroke-width="1.0" stroke-linecap="butt"/>
<text x="322.60" y="266.20" font-size="6.3" text-anchor="middle">1200</text>
<text x="265.80" y="278.90" font-size="9.0" text-anchor="middle" textLength="43.50" lengthAdjust="spacingAndGlyphs">CD37 (gMFI)</text>
<text x="183.50" y="224.20" font-size="9.0" text-anchor="middle" textLength="44.10" lengthAdjust="spacingAndGlyphs" transform="rotate(-90 183.50 224.20)">CD20 (gMFI)</text>
<line x1="205.50" y1="249.40" x2="318.50" y2="211.60" stroke="#444" stroke-width="1.3" stroke-linecap="butt"/>
<path d="M206.00,236.71L210.69,235.73L215.38,234.68L220.06,233.54L224.75,232.31L229.44,230.97L234.12,229.52L238.81,227.95L243.50,226.26L248.19,224.47L252.88,222.56L257.56,220.57L262.25,218.48L266.94,216.33L271.62,214.10L276.31,211.82L281.00,209.50L285.69,207.13L290.38,204.73L295.06,202.30L299.75,199.84L304.44,197.37L309.12,194.87L313.81,192.36L318.50,189.83" fill="none" stroke="#555" stroke-width="1.0" stroke-dasharray="2.3 1.5"/>
<path d="M206.00,261.69L210.69,259.53L215.38,257.45L220.06,255.46L224.75,253.56L229.44,251.76L234.12,250.08L238.81,248.52L243.50,247.07L248.19,245.73L252.88,244.50L257.56,243.37L262.25,242.32L266.94,241.34L271.62,240.43L276.31,239.58L281.00,238.77L285.69,238.00L290.38,237.27L295.06,236.57L299.75,235.89L304.44,235.23L309.12,234.60L313.81,233.98L318.50,233.37" fill="none" stroke="#555" stroke-width="1.0" stroke-dasharray="2.3 1.5"/>
<circle cx="205.30" cy="254.30" r="2.15" fill="#000"/>
<circle cx="208.60" cy="251.90" r="2.15" fill="#000"/>
<circle cx="212.90" cy="232.80" r="2.15" fill="#000"/>
<circle cx="269.40" cy="235.60" r="2.15" fill="#000"/>
<circle cx="318.50" cy="208.00" r="2.15" fill="#000"/>
<line x1="379.90" y1="42.00" x2="379.90" y2="127.40" stroke="#231f20" stroke-width="1.8" stroke-linecap="butt"/>
<line x1="376.90" y1="45.70" x2="379.90" y2="45.70" stroke="#231f20" stroke-width="1.0" stroke-linecap="butt"/>
<text x="374.00" y="48.04" font-size="6.5" text-anchor="end">100</text>
<line x1="376.90" y1="61.84" x2="379.90" y2="61.84" stroke="#231f20" stroke-width="1.0" stroke-linecap="butt"/>
<text x="374.00" y="64.18" font-size="6.5" text-anchor="end">80</text>
<line x1="376.90" y1="77.98" x2="379.90" y2="77.98" stroke="#231f20" stroke-width="1.0" stroke-linecap="butt"/>
<text x="374.00" y="80.32" font-size="6.5" text-anchor="end">60</text>
<line x1="376.90" y1="94.12" x2="379.90" y2="94.12" stroke="#231f20" stroke-width="1.0" stroke-linecap="butt"/>
<text x="374.00" y="96.46" font-size="6.5" text-anchor="end">40</text>
<line x1="376.90" y1="110.26" x2="379.90" y2="110.26" stroke="#231f20" stroke-width="1.0" stroke-linecap="butt"/>
<text x="374.00" y="112.60" font-size="6.5" text-anchor="end">20</text>
<line x1="376.90" y1="126.40" x2="379.90" y2="126.40" stroke="#231f20" stroke-width="1.0" stroke-linecap="butt"/>
<text x="374.00" y="128.74" font-size="6.5" text-anchor="end">0</text>
<line x1="379.30" y1="126.80" x2="510.50" y2="126.80" stroke="#231f20" stroke-width="1.8" stroke-linecap="butt"/>
<line x1="379.90" y1="126.80" x2="379.90" y2="129.80" stroke="#231f20" stroke-width="1.0" stroke-linecap="butt"/>
<text x="379.90" y="136.50" font-size="6.5" text-anchor="middle">0</text>
<line x1="392.65" y1="126.80" x2="392.65" y2="129.80" stroke="#231f20" stroke-width="1.0" stroke-linecap="butt"/>
<text x="392.65" y="136.50" font-size="6.5" text-anchor="middle">20</text>
<line x1="405.40" y1="126.80" x2="405.40" y2="129.80" stroke="#231f20" stroke-width="1.0" stroke-linecap="butt"/>
<text x="405.40" y="136.50" font-size="6.5" text-anchor="middle">40</text>
<line x1="418.15" y1="126.80" x2="418.15" y2="129.80" stroke="#231f20" stroke-width="1.0" stroke-linecap="butt"/>
<text x="418.15" y="136.50" font-size="6.5" text-anchor="middle">60</text>
<line x1="430.90" y1="126.80" x2="430.90" y2="129.80" stroke="#231f20" stroke-width="1.0" stroke-linecap="butt"/>
<text x="430.90" y="136.50" font-size="6.5" text-anchor="middle">80</text>
<line x1="443.65" y1="126.80" x2="443.65" y2="129.80" stroke="#231f20" stroke-width="1.0" stroke-linecap="butt"/>
<text x="443.65" y="136.50" font-size="6.5" text-anchor="middle">100</text>
<line x1="456.40" y1="126.80" x2="456.40" y2="129.80" stroke="#231f20" stroke-width="1.0" stroke-linecap="butt"/>
<text x="456.40" y="136.50" font-size="6.5" text-anchor="middle">120</text>
<line x1="469.15" y1="126.80" x2="469.15" y2="129.80" stroke="#231f20" stroke-width="1.0" stroke-linecap="butt"/>
<text x="469.15" y="136.50" font-size="6.5" text-anchor="middle">140</text>
<line x1="481.90" y1="126.80" x2="481.90" y2="129.80" stroke="#231f20" stroke-width="1.0" stroke-linecap="butt"/>
<text x="481.90" y="136.50" font-size="6.5" text-anchor="middle">160</text>
<line x1="494.65" y1="126.80" x2="494.65" y2="129.80" stroke="#231f20" stroke-width="1.0" stroke-linecap="butt"/>
<text x="494.65" y="136.50" font-size="6.5" text-anchor="middle">180</text>
<line x1="507.40" y1="126.80" x2="507.40" y2="129.80" stroke="#231f20" stroke-width="1.0" stroke-linecap="butt"/>
<text x="507.40" y="136.50" font-size="6.5" text-anchor="middle">200</text>
<text x="358.30" y="84.10" font-size="8.6" text-anchor="middle" fill="#333" textLength="67.40" lengthAdjust="spacingAndGlyphs" transform="rotate(-90 358.30 84.10)">Overall survival (%)</text>
<path d="M379.90,45.70H381.81V46.51H382.77V47.31H383.72V48.12H384.57V49.20H385.42V50.27H386.27V51.35H386.91V52.32H387.55V53.29H388.19V54.25H388.82V55.22H389.46V56.19H390.52V57.27H391.59V58.34H392.65V59.42H394.56V60.43H396.47V61.44H399.34V62.24H402.21V63.05H405.40V63.86H408.59V64.66H414.96V65.88H421.34V67.09H427.71V68.30H430.90V69.10H432.81V70.31H498.47" fill="none" stroke="#2d2f7e" stroke-width="1.3"/>
<path d="M379.90,48.93H380.75V50.00H381.60V51.08H382.45V52.16H383.30V53.23H384.15V54.31H385.00V55.38H385.64V56.39H386.27V57.40H386.91V58.41H387.55V59.42H388.19V60.43H388.82V61.44H389.46V62.45H390.10V63.45H391.88V64.50H393.67V65.55H395.45V66.60H397.24V67.65H399.02V68.70H402.21V69.91H405.40V71.12H409.65V72.06H413.90V73.00H418.15V73.94H420.06V74.95H421.97V75.96H423.89V76.97H425.80V77.98H428.35V78.99H430.90V80.00H431.66V81.05H432.43V82.10H433.19V83.14H433.96V84.19H434.72V85.24H435.36V86.35H436.00V87.46H436.64V88.57H437.27V89.68H480.62" fill="none" stroke="#f0a02a" stroke-width="1.2" stroke-dasharray="2.3 1.4"/>
<path d="M379.90,48.12H380.54V49.13H381.17V50.14H381.81V51.15H382.45V52.16H383.09V53.16H383.72V54.17H384.36V55.18H385.00V56.19H385.73V57.23H386.46V58.27H387.19V59.30H387.91V60.34H388.64V61.38H389.37V62.42H390.10V63.45H391.88V64.42H393.67V65.39H395.45V66.36H397.24V67.33H399.02V68.30H401.15V69.51H403.27V70.72H405.40V71.93H407.95V72.90H410.50V73.86H413.05V74.83H415.60V75.80H418.15V76.77H419.74V77.88H421.34V78.99H422.93V80.10H424.52V81.21H426.22V82.28H427.92V83.36H429.62V84.44H430.90V85.49H432.17V86.53H433.45V87.58H434.72V88.63H436.00V89.68H443.01V96.22H460.86" fill="none" stroke="#4fa040" stroke-width="1.3"/>
<path d="M379.90,48.12H380.54V49.25H381.17V50.38H381.81V51.51H382.45V52.64H383.09V53.77H383.57V54.78H384.04V55.79H384.52V56.80H385.00V57.81H385.48V58.81H385.96V59.82H386.43V60.83H386.91V61.84H387.48V62.87H388.05V63.90H388.61V64.93H389.18V65.96H389.75V67.00H390.31V68.03H390.88V69.06H391.45V70.09H392.01V71.12H392.65V72.22H393.29V73.31H393.92V74.41H394.56V75.50H395.20V76.60H395.84V77.69H396.47V78.79H399.34V80.00H402.21V81.21H404.44V82.42H406.67V83.63H408.08V84.52H409.48V85.40H410.88V86.29H412.60V90.57H414.74V91.46H416.88V92.34H421.53V93.19H426.18V94.04H427.97V98.24H439.82V107.60H461.50" fill="none" stroke="#e02a2a" stroke-width="1.25" stroke-dasharray="2.3 1.4"/>
<text x="502.30" y="72.30" font-size="5.6" fill="#4b4c78">1.</text>
<text x="486.00" y="89.90" font-size="5.6" fill="#b68a4a">2.</text>
<text x="464.40" y="96.90" font-size="5.6" fill="#5e8a56">3.</text>
<text x="465.20" y="108.60" font-size="5.6" fill="#ae4a4a">4.</text>
<text x="422.00" y="31.80" font-size="5.5" fill="#4b4c78">1.</text>
<line x1="427.50" y1="29.80" x2="434.20" y2="29.80" stroke="#2d2f7e" stroke-width="0.9" stroke-linecap="butt"/>
<path d="M429.55,30.20L430.85,28.20L432.15,30.20Z" fill="#2d2f7e"/>
<text x="437.60" y="31.80" font-size="5.5" textLength="73.40" lengthAdjust="spacingAndGlyphs"><tspan font-style="italic">CD20-mRNA</tspan><tspan font-size="3.30" dy="-2.09">high</tspan><tspan dy="2.09"> GCB (n=149)</tspan></text>
<text x="422.00" y="40.05" font-size="5.5" fill="#b68a4a">2.</text>
<line x1="427.50" y1="38.05" x2="434.20" y2="38.05" stroke="#f0a02a" stroke-width="0.9" stroke-linecap="butt" stroke-dasharray="1.5 1"/>
<path d="M429.55,38.45L430.85,36.45L432.15,38.45Z" fill="#f0a02a"/>
<text x="437.60" y="40.05" font-size="5.5" textLength="66.50" lengthAdjust="spacingAndGlyphs"><tspan font-style="italic">CD20-mRNA</tspan><tspan font-size="3.30" dy="-2.09">low</tspan><tspan dy="2.09"> GCB (n=94)</tspan></text>
<text x="422.00" y="48.30" font-size="5.5" fill="#5e8a56">3.</text>
<line x1="427.50" y1="46.30" x2="434.20" y2="46.30" stroke="#4fa040" stroke-width="0.9" stroke-linecap="butt"/>
<path d="M429.55,46.70L430.85,44.70L432.15,46.70Z" fill="#4fa040"/>
<text x="437.60" y="48.30" font-size="5.5" textLength="73.40" lengthAdjust="spacingAndGlyphs"><tspan font-style="italic">CD20-mRNA</tspan><tspan font-size="3.30" dy="-2.09">high</tspan><tspan dy="2.09"> ABC (n=143)</tspan></text>
<text x="422.00" y="56.55" font-size="5.5" fill="#ae4a4a">4.</text>
<line x1="427.50" y1="54.55" x2="434.20" y2="54.55" stroke="#e02a2a" stroke-width="0.9" stroke-linecap="butt" stroke-dasharray="1.5 1"/>
<path d="M429.55,54.95L430.85,52.95L432.15,54.95Z" fill="#e02a2a"/>
<text x="437.60" y="56.55" font-size="5.5" textLength="66.00" lengthAdjust="spacingAndGlyphs"><tspan font-style="italic">CD20-mRNA</tspan><tspan font-size="3.30" dy="-2.09">low</tspan><tspan dy="2.09"> ABC (n=86)</tspan></text>
<text x="383.60" y="124.00" font-size="5.6" textLength="78.60" lengthAdjust="spacingAndGlyphs">1 vs. 2: <tspan font-style="italic">P</tspan>= .039; 3 vs. 4: <tspan font-style="italic">P</tspan>= .012</text>
<line x1="380.10" y1="170.30" x2="380.10" y2="255.60" stroke="#231f20" stroke-width="1.8" stroke-linecap="butt"/>
<line x1="377.10" y1="173.20" x2="380.10" y2="173.20" stroke="#231f20" stroke-width="1.0" stroke-linecap="butt"/>
<text x="374.20" y="175.54" font-size="6.5" text-anchor="end">100</text>
<line x1="377.10" y1="189.56" x2="380.10" y2="189.56" stroke="#231f20" stroke-width="1.0" stroke-linecap="butt"/>
<text x="374.20" y="191.90" font-size="6.5" text-anchor="end">80</text>
<line x1="377.10" y1="205.92" x2="380.10" y2="205.92" stroke="#231f20" stroke-width="1.0" stroke-linecap="butt"/>
<text x="374.20" y="208.26" font-size="6.5" text-anchor="end">60</text>
<line x1="377.10" y1="222.28" x2="380.10" y2="222.28" stroke="#231f20" stroke-width="1.0" stroke-linecap="butt"/>
<text x="374.20" y="224.62" font-size="6.5" text-anchor="end">40</text>
<line x1="377.10" y1="238.64" x2="380.10" y2="238.64" stroke="#231f20" stroke-width="1.0" stroke-linecap="butt"/>
<text x="374.20" y="240.98" font-size="6.5" text-anchor="end">20</text>
<line x1="377.10" y1="255.00" x2="380.10" y2="255.00" stroke="#231f20" stroke-width="1.0" stroke-linecap="butt"/>
<text x="374.20" y="257.34" font-size="6.5" text-anchor="end">0</text>
<line x1="379.50" y1="255.00" x2="512.40" y2="255.00" stroke="#231f20" stroke-width="1.8" stroke-linecap="butt"/>
<line x1="380.50" y1="255.00" x2="380.50" y2="258.00" stroke="#231f20" stroke-width="1.0" stroke-linecap="butt"/>
<text x="380.50" y="264.50" font-size="6.5" text-anchor="middle">0</text>
<line x1="394.74" y1="255.00" x2="394.74" y2="258.00" stroke="#231f20" stroke-width="1.0" stroke-linecap="butt"/>
<text x="394.74" y="264.50" font-size="6.5" text-anchor="middle">20</text>
<line x1="408.98" y1="255.00" x2="408.98" y2="258.00" stroke="#231f20" stroke-width="1.0" stroke-linecap="butt"/>
<text x="408.98" y="264.50" font-size="6.5" text-anchor="middle">40</text>
<line x1="423.22" y1="255.00" x2="423.22" y2="258.00" stroke="#231f20" stroke-width="1.0" stroke-linecap="butt"/>
<text x="423.22" y="264.50" font-size="6.5" text-anchor="middle">60</text>
<line x1="437.46" y1="255.00" x2="437.46" y2="258.00" stroke="#231f20" stroke-width="1.0" stroke-linecap="butt"/>
<text x="437.46" y="264.50" font-size="6.5" text-anchor="middle">80</text>
<line x1="451.70" y1="255.00" x2="451.70" y2="258.00" stroke="#231f20" stroke-width="1.0" stroke-linecap="butt"/>
<text x="451.70" y="264.50" font-size="6.5" text-anchor="middle">100</text>
<line x1="465.94" y1="255.00" x2="465.94" y2="258.00" stroke="#231f20" stroke-width="1.0" stroke-linecap="butt"/>
<text x="465.94" y="264.50" font-size="6.5" text-anchor="middle">120</text>
<line x1="480.18" y1="255.00" x2="480.18" y2="258.00" stroke="#231f20" stroke-width="1.0" stroke-linecap="butt"/>
<text x="480.18" y="264.50" font-size="6.5" text-anchor="middle">140</text>
<line x1="494.42" y1="255.00" x2="494.42" y2="258.00" stroke="#231f20" stroke-width="1.0" stroke-linecap="butt"/>
<text x="494.42" y="264.50" font-size="6.5" text-anchor="middle">160</text>
<line x1="508.66" y1="255.00" x2="508.66" y2="258.00" stroke="#231f20" stroke-width="1.0" stroke-linecap="butt"/>
<text x="508.66" y="264.50" font-size="6.5" text-anchor="middle">180</text>
<text x="358.80" y="212.50" font-size="8.6" text-anchor="middle" fill="#333" textLength="100.30" lengthAdjust="spacingAndGlyphs" transform="rotate(-90 358.80 212.50)">Progression-free survival (%)</text>
<text x="446.60" y="278.30" font-size="8.6" text-anchor="middle" textLength="49.80" lengthAdjust="spacingAndGlyphs">Time (months)</text>
<path d="M380.50,173.20H384.06V173.61H385.70V175.00H386.29V175.99H386.88V176.99H387.48V177.99H388.07V178.98H388.66V179.98H389.26V180.97H389.96V181.94H390.65V182.90H391.35V183.87H392.05V184.83H392.75V185.80H394.20V186.76H395.65V187.73H397.10V188.69H398.56V189.66H400.01V190.62H403.14V191.82H406.27V193.02H409.41V194.22H414.18V195.37H418.95V196.51H425.00V197.74H427.67V198.56H430.34V199.38H433.54V200.19H436.75V201.01H437.46V203.79H469.50" fill="none" stroke="#2d2f7e" stroke-width="1.3"/>
<path d="M380.50,176.47H381.07V177.54H381.64V178.60H382.21V179.66H382.78V180.73H383.35V181.79H383.92V182.85H384.49V183.92H385.06V184.98H385.63V186.04H386.20V187.11H386.77V188.17H387.76V189.18H388.76V190.19H389.76V191.20H390.75V192.20H391.75V193.21H392.75V194.22H395.26V195.41H397.77V196.59H400.28V197.78H402.79V198.97H409.41V200.11H412.97V201.05H416.53V201.99H425.00V202.98H427.94V204.12H430.87V205.27H433.81V206.41H436.75V207.56H437.77V208.55H438.78V209.54H439.80V210.54H440.82V211.53H441.83V212.52H442.85V213.52H443.87V214.51H445.29V215.57H446.72V216.64H448.14V217.70H449.56V218.76H450.99V219.83H496.56" fill="none" stroke="#f0a02a" stroke-width="1.2" stroke-dasharray="2.3 1.4"/>
<path d="M380.50,175.65H381.02V176.67H381.54V177.68H382.06V178.70H382.58V179.71H383.10V180.73H383.62V181.74H384.14V182.75H384.66V183.77H385.18V184.78H385.70V185.80H386.58V186.85H387.46V187.90H388.34V188.96H389.22V190.01H390.10V191.06H390.98V192.12H391.87V193.17H392.75V194.22H395.26V195.41H397.77V196.59H400.28V197.78H402.79V198.97H409.41V200.11H410.83V201.08H412.26V202.04H413.68V203.01H415.10V203.97H416.53V204.94H419.35V206.14H422.18V207.34H425.00V208.54H427.94V209.72H430.87V210.91H433.81V212.10H436.75V213.28H441.02V219.83H450.99V226.04H470.92" fill="none" stroke="#4fa040" stroke-width="1.3"/>
<path d="M380.50,175.65H380.89V176.67H381.28V177.68H381.67V178.70H382.07V179.71H382.46V180.73H382.85V181.74H383.24V182.75H383.63V183.77H384.02V184.78H384.42V185.80H384.77V186.87H385.13V187.94H385.48V189.01H385.84V190.08H386.20V191.16H386.55V192.23H386.91V193.30H387.26V194.37H387.62V195.44H387.98V196.51H388.66V197.54H389.34V198.57H390.02V199.60H390.70V200.63H391.38V201.65H392.06V202.68H392.75V203.71H394.20V204.68H395.65V205.64H397.10V206.61H398.56V207.57H400.01V208.54H401.58V209.52H403.14V210.50H404.71V211.48H406.27V212.46H407.84V213.45H409.41V214.43H410.62V215.61H411.83V216.80H413.04V217.99H414.25V219.17H415.03V220.29H415.82V221.41H416.60V222.53H417.38V223.64H418.16V224.76H418.95V225.88H430.34V230.87H448.14V246.82H464.52" fill="none" stroke="#e02a2a" stroke-width="1.25" stroke-dasharray="2.3 1.4"/>
<text x="472.90" y="205.00" font-size="5.6" fill="#4b4c78">1.</text>
<text x="500.40" y="221.30" font-size="5.6" fill="#b68a4a">2.</text>
<text x="474.00" y="228.00" font-size="5.6" fill="#5e8a56">3.</text>
<text x="469.30" y="247.60" font-size="5.6" fill="#ae4a4a">4.</text>
<text x="423.90" y="165.20" font-size="5.5" fill="#4b4c78">1.</text>
<line x1="429.90" y1="163.20" x2="437.00" y2="163.20" stroke="#2d2f7e" stroke-width="0.9" stroke-linecap="butt"/>
<path d="M432.15,163.60L433.45,161.60L434.75,163.60Z" fill="#2d2f7e"/>
<text x="439.40" y="165.20" font-size="5.5" textLength="73.00" lengthAdjust="spacingAndGlyphs"><tspan font-style="italic">CD20-mRNA</tspan><tspan font-size="3.30" dy="-2.09">high</tspan><tspan dy="2.09"> GCB (n=149)</tspan></text>
<text x="423.90" y="173.70" font-size="5.5" fill="#b68a4a">2.</text>
<line x1="429.90" y1="171.70" x2="437.00" y2="171.70" stroke="#f0a02a" stroke-width="0.9" stroke-linecap="butt" stroke-dasharray="1.5 1"/>
<path d="M432.15,172.10L433.45,170.10L434.75,172.10Z" fill="#f0a02a"/>
<text x="439.40" y="173.70" font-size="5.5" textLength="66.00" lengthAdjust="spacingAndGlyphs"><tspan font-style="italic">CD20-mRNA</tspan><tspan font-size="3.30" dy="-2.09">low</tspan><tspan dy="2.09"> GCB (n=94)</tspan></text>
<text x="423.90" y="182.20" font-size="5.5" fill="#5e8a56">3.</text>
<line x1="429.90" y1="180.20" x2="437.00" y2="180.20" stroke="#4fa040" stroke-width="0.9" stroke-linecap="butt"/>
<path d="M432.15,180.60L433.45,178.60L434.75,180.60Z" fill="#4fa040"/>
<text x="439.40" y="182.20" font-size="5.5" textLength="73.00" lengthAdjust="spacingAndGlyphs"><tspan font-style="italic">CD20-mRNA</tspan><tspan font-size="3.30" dy="-2.09">high</tspan><tspan dy="2.09"> ABC (n=143)</tspan></text>
<text x="423.90" y="190.70" font-size="5.5" fill="#ae4a4a">4.</text>
<line x1="429.90" y1="188.70" x2="437.00" y2="188.70" stroke="#e02a2a" stroke-width="0.9" stroke-linecap="butt" stroke-dasharray="1.5 1"/>
<path d="M432.15,189.10L433.45,187.10L434.75,189.10Z" fill="#e02a2a"/>
<text x="439.40" y="190.70" font-size="5.5" textLength="65.50" lengthAdjust="spacingAndGlyphs"><tspan font-style="italic">CD20-mRNA</tspan><tspan font-size="3.30" dy="-2.09">low</tspan><tspan dy="2.09"> ABC (n=86)</tspan></text>
<text x="383.70" y="253.20" font-size="5.6" textLength="78.00" lengthAdjust="spacingAndGlyphs">1 vs. 2: <tspan font-style="italic">P</tspan>= .10; 3 vs. 4: <tspan font-style="italic">P</tspan>= .0009</text>
<line x1="36.20" y1="335.40" x2="36.20" y2="419.60" stroke="#231f20" stroke-width="1.8" stroke-linecap="butt"/>
<line x1="33.20" y1="338.40" x2="36.20" y2="338.40" stroke="#231f20" stroke-width="1.0" stroke-linecap="butt"/>
<text x="30.30" y="340.74" font-size="6.5" text-anchor="end">100</text>
<line x1="33.20" y1="354.52" x2="36.20" y2="354.52" stroke="#231f20" stroke-width="1.0" stroke-linecap="butt"/>
<text x="30.30" y="356.86" font-size="6.5" text-anchor="end">80</text>
<line x1="33.20" y1="370.64" x2="36.20" y2="370.64" stroke="#231f20" stroke-width="1.0" stroke-linecap="butt"/>
<text x="30.30" y="372.98" font-size="6.5" text-anchor="end">60</text>
<line x1="33.20" y1="386.76" x2="36.20" y2="386.76" stroke="#231f20" stroke-width="1.0" stroke-linecap="butt"/>
<text x="30.30" y="389.10" font-size="6.5" text-anchor="end">40</text>
<line x1="33.20" y1="402.88" x2="36.20" y2="402.88" stroke="#231f20" stroke-width="1.0" stroke-linecap="butt"/>
<text x="30.30" y="405.22" font-size="6.5" text-anchor="end">20</text>
<line x1="33.20" y1="419.00" x2="36.20" y2="419.00" stroke="#231f20" stroke-width="1.0" stroke-linecap="butt"/>
<text x="30.30" y="421.34" font-size="6.5" text-anchor="end">0</text>
<line x1="34.20" y1="346.46" x2="36.20" y2="346.46" stroke="#231f20" stroke-width="0.8" stroke-linecap="butt"/>
<line x1="34.20" y1="362.58" x2="36.20" y2="362.58" stroke="#231f20" stroke-width="0.8" stroke-linecap="butt"/>
<line x1="34.20" y1="378.70" x2="36.20" y2="378.70" stroke="#231f20" stroke-width="0.8" stroke-linecap="butt"/>
<line x1="34.20" y1="394.82" x2="36.20" y2="394.82" stroke="#231f20" stroke-width="0.8" stroke-linecap="butt"/>
<line x1="34.20" y1="410.94" x2="36.20" y2="410.94" stroke="#231f20" stroke-width="0.8" stroke-linecap="butt"/>
<line x1="35.60" y1="419.00" x2="161.50" y2="419.00" stroke="#231f20" stroke-width="1.8" stroke-linecap="butt"/>
<line x1="36.20" y1="419.00" x2="36.20" y2="422.00" stroke="#231f20" stroke-width="1.0" stroke-linecap="butt"/>
<text x="36.20" y="428.50" font-size="6.5" text-anchor="middle">0</text>
<line x1="50.06" y1="419.00" x2="50.06" y2="422.00" stroke="#231f20" stroke-width="1.0" stroke-linecap="butt"/>
<text x="50.06" y="428.50" font-size="6.5" text-anchor="middle">20</text>
<line x1="63.92" y1="419.00" x2="63.92" y2="422.00" stroke="#231f20" stroke-width="1.0" stroke-linecap="butt"/>
<text x="63.92" y="428.50" font-size="6.5" text-anchor="middle">40</text>
<line x1="77.78" y1="419.00" x2="77.78" y2="422.00" stroke="#231f20" stroke-width="1.0" stroke-linecap="butt"/>
<text x="77.78" y="428.50" font-size="6.5" text-anchor="middle">60</text>
<line x1="91.64" y1="419.00" x2="91.64" y2="422.00" stroke="#231f20" stroke-width="1.0" stroke-linecap="butt"/>
<text x="91.64" y="428.50" font-size="6.5" text-anchor="middle">80</text>
<line x1="105.50" y1="419.00" x2="105.50" y2="422.00" stroke="#231f20" stroke-width="1.0" stroke-linecap="butt"/>
<text x="105.50" y="428.50" font-size="6.5" text-anchor="middle">100</text>
<line x1="119.36" y1="419.00" x2="119.36" y2="422.00" stroke="#231f20" stroke-width="1.0" stroke-linecap="butt"/>
<text x="119.36" y="428.50" font-size="6.5" text-anchor="middle">120</text>
<line x1="133.22" y1="419.00" x2="133.22" y2="422.00" stroke="#231f20" stroke-width="1.0" stroke-linecap="butt"/>
<text x="133.22" y="428.50" font-size="6.5" text-anchor="middle">140</text>
<line x1="147.08" y1="419.00" x2="147.08" y2="422.00" stroke="#231f20" stroke-width="1.0" stroke-linecap="butt"/>
<text x="147.08" y="428.50" font-size="6.5" text-anchor="middle">160</text>
<line x1="160.94" y1="419.00" x2="160.94" y2="422.00" stroke="#231f20" stroke-width="1.0" stroke-linecap="butt"/>
<text x="160.94" y="428.50" font-size="6.5" text-anchor="middle">180</text>
<text x="15.90" y="377.00" font-size="8.6" text-anchor="middle" fill="#5a5a5a" textLength="65.00" lengthAdjust="spacingAndGlyphs" transform="rotate(-90 15.90 377.00)">Overall survival (%)</text>
<path d="M36.20,338.40H41.05V338.88H42.44V342.83H43.34V343.84H44.24V344.85H45.14V345.86H46.04V346.86H46.94V347.87H47.84V348.88H59.42V348.88H61.70V352.10H67.80V352.83H70.16V355.81H73.21V361.21H90.95V365.80H152.62" fill="none" stroke="#2d2f7e" stroke-width="1.3"/>
<path d="M36.20,338.40H37.10V338.88H38.11V340.05H39.11V341.22H39.78V342.26H40.45V343.29H41.12V344.32H41.79V345.36H42.46V346.39H43.13V347.43H43.65V348.45H44.18V349.47H44.70V350.49H45.22V351.51H45.75V352.53H46.27V353.55H46.80V354.57H47.32V355.59H47.84V356.62H48.28V357.72H48.71V358.83H49.15V359.93H49.58V361.04H50.02V362.14H50.46V363.25H50.89V364.35H52.43V365.50H53.98V366.65H55.52V367.80H57.06V368.95H59.62V369.97H62.19V370.99H64.75V372.01H67.32V373.03H69.88V374.05H72.44V375.07H76.29V376.24H80.14V377.41H82.06V378.36H83.98V379.30H85.91V380.25H87.83V381.20H112.43" fill="none" stroke="#b39a3c" stroke-width="1.35"/>
<line x1="76.30" y1="339.40" x2="82.00" y2="339.40" stroke="#2d2f7e" stroke-width="0.9" stroke-linecap="butt"/>
<path d="M77.85,339.80L79.15,337.80L80.45,339.80Z" fill="#2d2f7e"/>
<line x1="76.30" y1="346.90" x2="82.00" y2="346.90" stroke="#b39a3c" stroke-width="0.9" stroke-linecap="butt"/>
<path d="M77.85,347.30L79.15,345.30L80.45,347.30Z" fill="#b39a3c"/>
<text x="82.80" y="341.40" font-size="5.5" textLength="72.40" lengthAdjust="spacingAndGlyphs">CD37<tspan font-size="3.30" dy="-2.09">+</tspan><tspan dy="2.09"> </tspan><tspan font-style="italic">CD20-mRNA</tspan><tspan font-size="3.3" dy="-2.1">low</tspan><tspan dy="2.1"> (n=49)</tspan></text>
<text x="82.80" y="348.90" font-size="5.5" textLength="77.80" lengthAdjust="spacingAndGlyphs">CD37<tspan font-size="3.30" dy="-2.09">&#8722;</tspan><tspan dy="2.09"> </tspan><tspan font-style="italic">CD20-mRNA</tspan><tspan font-size="3.3" dy="-2.1">high</tspan><tspan dy="2.1"> (n=140)</tspan></text>
<text x="46.30" y="415.10" font-size="5.6" font-weight="bold" textLength="94.80" lengthAdjust="spacingAndGlyphs">HR (95% CI): 2.03 (1.12-3.04), <tspan font-style="italic">P</tspan>= .017</text>
<line x1="36.90" y1="469.40" x2="36.90" y2="553.00" stroke="#231f20" stroke-width="1.8" stroke-linecap="butt"/>
<line x1="33.90" y1="471.90" x2="36.90" y2="471.90" stroke="#231f20" stroke-width="1.0" stroke-linecap="butt"/>
<text x="31.00" y="474.24" font-size="6.5" text-anchor="end">100</text>
<line x1="33.90" y1="488.00" x2="36.90" y2="488.00" stroke="#231f20" stroke-width="1.0" stroke-linecap="butt"/>
<text x="31.00" y="490.34" font-size="6.5" text-anchor="end">80</text>
<line x1="33.90" y1="504.10" x2="36.90" y2="504.10" stroke="#231f20" stroke-width="1.0" stroke-linecap="butt"/>
<text x="31.00" y="506.44" font-size="6.5" text-anchor="end">60</text>
<line x1="33.90" y1="520.20" x2="36.90" y2="520.20" stroke="#231f20" stroke-width="1.0" stroke-linecap="butt"/>
<text x="31.00" y="522.54" font-size="6.5" text-anchor="end">40</text>
<line x1="33.90" y1="536.30" x2="36.90" y2="536.30" stroke="#231f20" stroke-width="1.0" stroke-linecap="butt"/>
<text x="31.00" y="538.64" font-size="6.5" text-anchor="end">20</text>
<line x1="33.90" y1="552.40" x2="36.90" y2="552.40" stroke="#231f20" stroke-width="1.0" stroke-linecap="butt"/>
<text x="31.00" y="554.74" font-size="6.5" text-anchor="end">0</text>
<line x1="34.90" y1="479.95" x2="36.90" y2="479.95" stroke="#231f20" stroke-width="0.8" stroke-linecap="butt"/>
<line x1="34.90" y1="496.05" x2="36.90" y2="496.05" stroke="#231f20" stroke-width="0.8" stroke-linecap="butt"/>
<line x1="34.90" y1="512.15" x2="36.90" y2="512.15" stroke="#231f20" stroke-width="0.8" stroke-linecap="butt"/>
<line x1="34.90" y1="528.25" x2="36.90" y2="528.25" stroke="#231f20" stroke-width="0.8" stroke-linecap="butt"/>
<line x1="34.90" y1="544.35" x2="36.90" y2="544.35" stroke="#231f20" stroke-width="0.8" stroke-linecap="butt"/>
<line x1="36.30" y1="552.40" x2="161.50" y2="552.40" stroke="#231f20" stroke-width="1.8" stroke-linecap="butt"/>
<line x1="36.60" y1="552.40" x2="36.60" y2="555.40" stroke="#231f20" stroke-width="1.0" stroke-linecap="butt"/>
<text x="36.60" y="563.10" font-size="6.5" text-anchor="middle">0</text>
<line x1="50.44" y1="552.40" x2="50.44" y2="555.40" stroke="#231f20" stroke-width="1.0" stroke-linecap="butt"/>
<text x="50.44" y="563.10" font-size="6.5" text-anchor="middle">20</text>
<line x1="64.28" y1="552.40" x2="64.28" y2="555.40" stroke="#231f20" stroke-width="1.0" stroke-linecap="butt"/>
<text x="64.28" y="563.10" font-size="6.5" text-anchor="middle">40</text>
<line x1="78.12" y1="552.40" x2="78.12" y2="555.40" stroke="#231f20" stroke-width="1.0" stroke-linecap="butt"/>
<text x="78.12" y="563.10" font-size="6.5" text-anchor="middle">60</text>
<line x1="91.96" y1="552.40" x2="91.96" y2="555.40" stroke="#231f20" stroke-width="1.0" stroke-linecap="butt"/>
<text x="91.96" y="563.10" font-size="6.5" text-anchor="middle">80</text>
<line x1="105.80" y1="552.40" x2="105.80" y2="555.40" stroke="#231f20" stroke-width="1.0" stroke-linecap="butt"/>
<text x="105.80" y="563.10" font-size="6.5" text-anchor="middle">100</text>
<line x1="119.64" y1="552.40" x2="119.64" y2="555.40" stroke="#231f20" stroke-width="1.0" stroke-linecap="butt"/>
<text x="119.64" y="563.10" font-size="6.5" text-anchor="middle">120</text>
<line x1="133.48" y1="552.40" x2="133.48" y2="555.40" stroke="#231f20" stroke-width="1.0" stroke-linecap="butt"/>
<text x="133.48" y="563.10" font-size="6.5" text-anchor="middle">140</text>
<line x1="147.32" y1="552.40" x2="147.32" y2="555.40" stroke="#231f20" stroke-width="1.0" stroke-linecap="butt"/>
<text x="147.32" y="563.10" font-size="6.5" text-anchor="middle">160</text>
<line x1="161.16" y1="552.40" x2="161.16" y2="555.40" stroke="#231f20" stroke-width="1.0" stroke-linecap="butt"/>
<text x="161.16" y="563.10" font-size="6.5" text-anchor="middle">180</text>
<text x="15.50" y="509.40" font-size="8.6" text-anchor="middle" fill="#333" textLength="100.40" lengthAdjust="spacingAndGlyphs" transform="rotate(-90 15.50 509.40)">Progression-free survival (%)</text>
<text x="100.40" y="576.60" font-size="8.6" text-anchor="middle" textLength="50.40" lengthAdjust="spacingAndGlyphs">Time (months)</text>
<path d="M36.60,471.90H38.31V472.93H40.01V473.95H41.72V474.98H43.43V476.01H45.13V477.03H46.84V478.06H48.55V479.08H50.26V480.11H51.96V481.14H53.67V482.16H55.38V483.19H57.08V484.22H59.02V485.18H60.96V486.15H62.90V487.11H64.83V488.08H68.67V489.03H72.51V489.97H76.36V490.92H80.20V491.86H84.00V492.67H87.81V493.47H89.08V494.49H90.35V495.51H91.61V496.53H92.88V497.55H94.15V498.57H95.42V499.59H100.09V500.76H104.76V501.93H104.76V508.77H124.48" fill="none" stroke="#4fa040" stroke-width="1.3"/>
<path d="M36.60,471.90H37.32V472.98H38.04V474.06H38.76V475.14H39.48V476.21H40.20V477.29H40.69V478.33H41.19V479.36H41.69V480.39H42.18V481.43H42.68V482.46H43.17V483.49H57.08V483.49H58.24V484.64H59.40V485.79H60.56V486.93H61.72V488.08H63.24V489.03H64.76V489.97H66.29V490.92H67.81V491.86H68.78V492.91H69.75V493.96H70.72V495.00H71.48V496.53H87.81V501.20H101.65V511.18H147.32" fill="none" stroke="#2d2f7e" stroke-width="1.3"/>
<path d="M36.60,471.90H36.95V472.91H37.29V473.91H37.64V474.92H37.98V475.92H38.54V477.05H39.09V478.18H39.64V479.31H40.20V480.43H40.42V481.53H40.63V482.62H40.85V483.71H41.07V484.80H41.29V485.90H41.50V486.99H41.72V488.08H42.16V489.18H42.59V490.29H43.03V491.39H43.46V492.50H43.90V493.60H44.33V494.70H44.77V495.81H45.92V496.96H47.08V498.10H48.24V499.25H49.40V500.40H51.96V501.44H54.52V502.49H57.08V503.54H59.02V504.48H60.96V505.43H62.90V506.37H64.83V507.32H68.71V508.45H72.58V509.57H75.12V510.62H77.66V511.67H80.20V512.71H80.94V513.66H81.68V514.61H82.43V515.55H83.17V516.50H109.95" fill="none" stroke="#c8454a" stroke-width="1.15" stroke-dasharray="1.5 1.0"/>
<path d="M36.60,471.90H36.83V472.97H37.06V474.05H37.29V475.12H37.52V476.19H37.75V477.27H37.98V478.34H38.35V479.45H38.72V480.57H39.09V481.68H39.46V482.79H39.83V483.91H40.20V485.02H40.53V486.04H40.86V487.06H41.19V488.08H41.52V489.10H41.85V490.12H42.18V491.14H42.51V492.16H42.84V493.18H43.17V494.20H43.65V495.30H44.12V496.41H44.60V497.51H45.07V498.61H45.55V499.72H46.02V500.82H46.50V501.93H47.23V502.96H47.97V503.99H48.71V505.03H49.45V506.06H50.19V507.09H50.92V508.12H51.95V509.13H52.98V510.14H54.00V511.14H55.03V512.15H56.06V513.16H57.08V514.16H60.96V514.97H64.83V515.77H66.77V516.74H68.71V517.70H70.65V518.67H72.58V519.64H75.12V520.66H77.66V521.68H80.20V522.70H82.73V523.74H85.27V524.79H87.81V525.83H91.61V526.96H95.42V528.09H96.98V529.24H98.53V530.38H100.09V531.53H101.65V532.68H133.48" fill="none" stroke="#f0a040" stroke-width="1.15" stroke-dasharray="1.5 1.0"/>
<text x="127.00" y="509.00" font-size="5.6" fill="#5e8a56">1.</text>
<text x="149.80" y="513.00" font-size="5.6" fill="#4b4c78">2.</text>
<text x="111.00" y="518.30" font-size="5.6" fill="#a0585b">3.</text>
<text x="135.00" y="535.50" font-size="5.6" fill="#b68a4a">4.</text>
<text x="70.40" y="463.30" font-size="5.5" fill="#5e8a56">1.</text>
<line x1="75.80" y1="461.30" x2="82.50" y2="461.30" stroke="#4fa040" stroke-width="0.9" stroke-linecap="butt"/>
<path d="M77.85,461.70L79.15,459.70L80.45,461.70Z" fill="#4fa040"/>
<text x="85.20" y="463.30" font-size="5.5" textLength="75.40" lengthAdjust="spacingAndGlyphs"><tspan font-style="italic">CD20-mRNA</tspan><tspan font-size="3.3" dy="-2.1">high</tspan><tspan dy="2.1"> CD37</tspan><tspan font-size="3.3" dy="-2.1">+</tspan><tspan dy="2.1"> (n=140)</tspan></text>
<text x="70.40" y="471.05" font-size="5.5" fill="#4b4c78">2.</text>
<line x1="75.80" y1="469.05" x2="82.50" y2="469.05" stroke="#2d2f7e" stroke-width="0.9" stroke-linecap="butt"/>
<path d="M77.85,469.45L79.15,467.45L80.45,469.45Z" fill="#2d2f7e"/>
<text x="85.20" y="471.05" font-size="5.5" textLength="72.70" lengthAdjust="spacingAndGlyphs"><tspan font-style="italic">CD20-mRNA</tspan><tspan font-size="3.3" dy="-2.1">low</tspan><tspan dy="2.1"> CD37</tspan><tspan font-size="3.3" dy="-2.1">+</tspan><tspan dy="2.1"> (n=49)</tspan></text>
<text x="70.40" y="478.80" font-size="5.5" fill="#a0585b">3.</text>
<line x1="75.80" y1="476.80" x2="82.50" y2="476.80" stroke="#c8454a" stroke-width="0.9" stroke-linecap="butt" stroke-dasharray="1.2 0.8"/>
<path d="M77.85,477.20L79.15,475.20L80.45,477.20Z" fill="#c8454a"/>
<text x="85.20" y="478.80" font-size="5.5" textLength="75.40" lengthAdjust="spacingAndGlyphs"><tspan font-style="italic">CD20-mRNA</tspan><tspan font-size="3.3" dy="-2.1">high</tspan><tspan dy="2.1"> CD37</tspan><tspan font-size="3.3" dy="-2.1">&#8722;</tspan><tspan dy="2.1"> (n=140)</tspan></text>
<text x="70.40" y="486.55" font-size="5.5" fill="#b68a4a">4.</text>
<line x1="75.80" y1="484.55" x2="82.50" y2="484.55" stroke="#f0a02a" stroke-width="0.9" stroke-linecap="butt" stroke-dasharray="1.2 0.8"/>
<path d="M77.85,484.95L79.15,482.95L80.45,484.95Z" fill="#f0a02a"/>
<text x="85.20" y="486.55" font-size="5.5" textLength="75.90" lengthAdjust="spacingAndGlyphs"><tspan font-style="italic">CD20-mRNA</tspan><tspan font-size="3.3" dy="-2.1">low</tspan><tspan dy="2.1"> CD37</tspan><tspan font-size="3.3" dy="-2.1">&#8722;</tspan><tspan dy="2.1"> (n=120)</tspan></text>
<text x="41.60" y="543.00" font-size="5.6" font-weight="bold" textLength="86.50" lengthAdjust="spacingAndGlyphs">1 vs. 3: <tspan font-style="italic">P</tspan>= .0001; 2 vs. 4: <tspan font-style="italic">P</tspan>= .0002</text>
<text x="41.60" y="548.40" font-size="5.6" textLength="115.40" lengthAdjust="spacingAndGlyphs">1 vs. 2: <tspan font-style="italic">P</tspan>= .52; 3 vs. 4: <tspan font-style="italic">P</tspan>= .04; <tspan font-weight="bold">2 vs. 3: <tspan font-style="italic">P</tspan>= .016</tspan></text>
<line x1="205.30" y1="335.40" x2="205.30" y2="419.50" stroke="#231f20" stroke-width="1.8" stroke-linecap="butt"/>
<line x1="202.30" y1="337.70" x2="205.30" y2="337.70" stroke="#231f20" stroke-width="1.0" stroke-linecap="butt"/>
<text x="199.40" y="340.04" font-size="6.5" text-anchor="end">100</text>
<line x1="202.30" y1="353.94" x2="205.30" y2="353.94" stroke="#231f20" stroke-width="1.0" stroke-linecap="butt"/>
<text x="199.40" y="356.28" font-size="6.5" text-anchor="end">80</text>
<line x1="202.30" y1="370.18" x2="205.30" y2="370.18" stroke="#231f20" stroke-width="1.0" stroke-linecap="butt"/>
<text x="199.40" y="372.52" font-size="6.5" text-anchor="end">60</text>
<line x1="202.30" y1="386.42" x2="205.30" y2="386.42" stroke="#231f20" stroke-width="1.0" stroke-linecap="butt"/>
<text x="199.40" y="388.76" font-size="6.5" text-anchor="end">40</text>
<line x1="202.30" y1="402.66" x2="205.30" y2="402.66" stroke="#231f20" stroke-width="1.0" stroke-linecap="butt"/>
<text x="199.40" y="405.00" font-size="6.5" text-anchor="end">20</text>
<line x1="202.30" y1="418.90" x2="205.30" y2="418.90" stroke="#231f20" stroke-width="1.0" stroke-linecap="butt"/>
<text x="199.40" y="421.24" font-size="6.5" text-anchor="end">0</text>
<line x1="203.30" y1="345.82" x2="205.30" y2="345.82" stroke="#231f20" stroke-width="0.8" stroke-linecap="butt"/>
<line x1="203.30" y1="362.06" x2="205.30" y2="362.06" stroke="#231f20" stroke-width="0.8" stroke-linecap="butt"/>
<line x1="203.30" y1="378.30" x2="205.30" y2="378.30" stroke="#231f20" stroke-width="0.8" stroke-linecap="butt"/>
<line x1="203.30" y1="394.54" x2="205.30" y2="394.54" stroke="#231f20" stroke-width="0.8" stroke-linecap="butt"/>
<line x1="203.30" y1="410.78" x2="205.30" y2="410.78" stroke="#231f20" stroke-width="0.8" stroke-linecap="butt"/>
<line x1="204.70" y1="418.90" x2="334.00" y2="418.90" stroke="#231f20" stroke-width="1.8" stroke-linecap="butt"/>
<line x1="205.30" y1="418.90" x2="205.30" y2="421.90" stroke="#231f20" stroke-width="1.0" stroke-linecap="butt"/>
<text x="205.30" y="428.40" font-size="6.5" text-anchor="middle">0</text>
<line x1="217.87" y1="418.90" x2="217.87" y2="421.90" stroke="#231f20" stroke-width="1.0" stroke-linecap="butt"/>
<text x="217.87" y="428.40" font-size="6.5" text-anchor="middle">20</text>
<line x1="230.44" y1="418.90" x2="230.44" y2="421.90" stroke="#231f20" stroke-width="1.0" stroke-linecap="butt"/>
<text x="230.44" y="428.40" font-size="6.5" text-anchor="middle">40</text>
<line x1="243.01" y1="418.90" x2="243.01" y2="421.90" stroke="#231f20" stroke-width="1.0" stroke-linecap="butt"/>
<text x="243.01" y="428.40" font-size="6.5" text-anchor="middle">60</text>
<line x1="255.58" y1="418.90" x2="255.58" y2="421.90" stroke="#231f20" stroke-width="1.0" stroke-linecap="butt"/>
<text x="255.58" y="428.40" font-size="6.5" text-anchor="middle">80</text>
<line x1="268.15" y1="418.90" x2="268.15" y2="421.90" stroke="#231f20" stroke-width="1.0" stroke-linecap="butt"/>
<text x="268.15" y="428.40" font-size="6.5" text-anchor="middle">100</text>
<line x1="280.72" y1="418.90" x2="280.72" y2="421.90" stroke="#231f20" stroke-width="1.0" stroke-linecap="butt"/>
<text x="280.72" y="428.40" font-size="6.5" text-anchor="middle">120</text>
<line x1="293.29" y1="418.90" x2="293.29" y2="421.90" stroke="#231f20" stroke-width="1.0" stroke-linecap="butt"/>
<text x="293.29" y="428.40" font-size="6.5" text-anchor="middle">140</text>
<line x1="305.86" y1="418.90" x2="305.86" y2="421.90" stroke="#231f20" stroke-width="1.0" stroke-linecap="butt"/>
<text x="305.86" y="428.40" font-size="6.5" text-anchor="middle">160</text>
<line x1="318.43" y1="418.90" x2="318.43" y2="421.90" stroke="#231f20" stroke-width="1.0" stroke-linecap="butt"/>
<text x="318.43" y="428.40" font-size="6.5" text-anchor="middle">180</text>
<line x1="331.00" y1="418.90" x2="331.00" y2="421.90" stroke="#231f20" stroke-width="1.0" stroke-linecap="butt"/>
<text x="331.00" y="428.40" font-size="6.5" text-anchor="middle">200</text>
<text x="184.00" y="376.70" font-size="8.6" text-anchor="middle" fill="#333" textLength="100.00" lengthAdjust="spacingAndGlyphs" transform="rotate(-90 184.00 376.70)">Progression-free survival (%)</text>
<text x="269.00" y="322.20" font-size="10.2" text-anchor="middle" font-weight="bold" fill="#000" textLength="57.20" lengthAdjust="spacingAndGlyphs">GCB-DLBCL</text>
<path d="M205.30,337.70H306.49" fill="none" stroke="#2d2f7e" stroke-width="1.3"/>
<path d="M205.30,337.70H206.87V338.51H208.44V339.32H211.59V340.14H213.22V341.16H214.85V342.18H216.49V343.21H218.12V344.23H219.76V345.25H236.73V345.25H238.48V346.88H243.01V349.23H250.80V351.50H254.32V356.21H271.29" fill="none" stroke="#4fa040" stroke-width="1.3"/>
<path d="M205.30,337.70H206.05V338.84H206.81V339.97H207.56V341.11H208.32V342.25H209.07V343.38H209.41V344.45H209.75V345.51H210.09V346.57H210.42V347.63H210.76V348.69H211.10V349.76H211.44V350.82H211.78V351.88H212.12V352.94H212.46V354.00H212.79V355.06H213.13V356.13H213.47V357.19H214.52V358.27H215.57V359.35H216.61V360.44H217.66V361.52H218.71V362.60H219.76V363.68H221.54V364.77H223.32V365.85H225.10V366.93H226.88V368.01H228.66V369.10H230.44V370.18H232.01V371.19H233.58V372.21H235.15V373.22H236.73V374.24H270.66" fill="none" stroke="#d0453a" stroke-width="1.2" stroke-dasharray="1.5 1.0"/>
<path d="M205.30,337.70H205.54V338.78H205.78V339.86H206.02V340.94H206.26V342.02H206.49V343.10H206.73V344.18H206.97V345.26H207.21V346.34H207.45V347.42H207.69V348.50H208.01V349.52H208.33V350.54H208.65V351.56H208.97V352.59H209.29V353.61H209.61V354.63H209.92V355.65H210.24V356.67H210.56V357.70H210.88V358.72H211.20V359.74H211.52V360.76H212.19V361.86H212.85V362.96H213.52V364.07H214.18V365.17H214.84V366.27H215.51V367.37H216.17V368.47H217.13V369.63H218.09V370.79H219.05V371.95H220.01V373.10H230.75V374.56H234.62V375.38H238.48V376.19H240.40V377.35H242.32V378.50H244.24V379.66H246.15V380.82H247.69V381.95H249.23V383.09H250.77V384.23H252.31V385.36H253.85V386.32H255.39V387.27H256.93V388.23H258.47V389.18H260.01V390.16H261.55V391.13H263.09V392.10H264.63V393.08H293.29" fill="none" stroke="#f2a644" stroke-width="1.2" stroke-dasharray="1.5 1.0"/>
<text x="309.30" y="339.20" font-size="5.6" fill="#4b4c78">2.</text>
<text x="272.20" y="356.60" font-size="5.6" fill="#5e8a56">1.</text>
<text x="243.00" y="372.50" font-size="5.6" fill="#a55852">3.</text>
<text x="296.20" y="393.40" font-size="5.6" fill="#b68a4a">4.</text>
<text x="254.40" y="346.00" font-size="5.5" fill="#4b4c78">2.</text>
<line x1="258.60" y1="344.00" x2="265.50" y2="344.00" stroke="#2d2f7e" stroke-width="0.9" stroke-linecap="butt"/>
<path d="M260.75,344.40L262.05,342.40L263.35,344.40Z" fill="#2d2f7e"/>
<text x="268.30" y="346.00" font-size="5.5" textLength="74.50" lengthAdjust="spacingAndGlyphs"><tspan font-style="italic">CD20-mRNA</tspan><tspan font-size="3.3" dy="-2.1">low</tspan><tspan dy="2.1"> CD37</tspan><tspan font-size="3.3" dy="-2.1">+</tspan><tspan dy="2.1"> (n=19)</tspan></text>
<text x="254.40" y="363.90" font-size="5.5" fill="#5e8a56">1.</text>
<line x1="258.60" y1="361.90" x2="265.50" y2="361.90" stroke="#4fa040" stroke-width="0.9" stroke-linecap="butt"/>
<path d="M260.75,362.30L262.05,360.30L263.35,362.30Z" fill="#4fa040"/>
<text x="268.30" y="363.90" font-size="5.5" textLength="74.50" lengthAdjust="spacingAndGlyphs"><tspan font-style="italic">CD20-mRNA</tspan><tspan font-size="3.3" dy="-2.1">high</tspan><tspan dy="2.1"> CD37</tspan><tspan font-size="3.3" dy="-2.1">+</tspan><tspan dy="2.1"> (n=62)</tspan></text>
<text x="254.40" y="369.50" font-size="5.5" fill="#a55852">3.</text>
<line x1="258.60" y1="367.50" x2="265.50" y2="367.50" stroke="#d0453a" stroke-width="0.9" stroke-linecap="butt" stroke-dasharray="1.2 0.8"/>
<path d="M260.75,367.90L262.05,365.90L263.35,367.90Z" fill="#d0453a"/>
<text x="268.30" y="369.50" font-size="5.5" textLength="74.50" lengthAdjust="spacingAndGlyphs"><tspan font-style="italic">CD20-mRNA</tspan><tspan font-size="3.3" dy="-2.1">high</tspan><tspan dy="2.1"> CD37</tspan><tspan font-size="3.3" dy="-2.1">&#8722;</tspan><tspan dy="2.1"> (n=61)</tspan></text>
<text x="254.40" y="382.90" font-size="5.5" fill="#b68a4a">4.</text>
<line x1="258.60" y1="380.90" x2="265.50" y2="380.90" stroke="#f0a02a" stroke-width="0.9" stroke-linecap="butt" stroke-dasharray="1.2 0.8"/>
<path d="M260.75,381.30L262.05,379.30L263.35,381.30Z" fill="#f0a02a"/>
<text x="268.30" y="382.90" font-size="5.5" textLength="74.50" lengthAdjust="spacingAndGlyphs"><tspan font-style="italic">CD20-mRNA</tspan><tspan font-size="3.3" dy="-2.1">low</tspan><tspan dy="2.1"> CD37</tspan><tspan font-size="3.3" dy="-2.1">&#8722;</tspan><tspan dy="2.1"> (n=67)</tspan></text>
<text x="210.30" y="410.00" font-size="5.6" font-weight="bold" textLength="85.70" lengthAdjust="spacingAndGlyphs">1 vs. 3: <tspan font-style="italic">P</tspan>= .0002; 2 vs. 4: <tspan font-style="italic">P</tspan>= .0001</text>
<text x="210.30" y="416.00" font-size="5.6" textLength="75.10" lengthAdjust="spacingAndGlyphs">1 vs. 2: <tspan font-style="italic">P</tspan>= .068; 3 vs. 4: <tspan font-style="italic">P</tspan>= .21</text>
<line x1="204.50" y1="468.70" x2="204.50" y2="553.40" stroke="#231f20" stroke-width="1.8" stroke-linecap="butt"/>
<line x1="201.50" y1="471.95" x2="204.50" y2="471.95" stroke="#231f20" stroke-width="1.0" stroke-linecap="butt"/>
<text x="198.60" y="474.29" font-size="6.5" text-anchor="end">100</text>
<line x1="201.50" y1="488.02" x2="204.50" y2="488.02" stroke="#231f20" stroke-width="1.0" stroke-linecap="butt"/>
<text x="198.60" y="490.36" font-size="6.5" text-anchor="end">80</text>
<line x1="201.50" y1="504.09" x2="204.50" y2="504.09" stroke="#231f20" stroke-width="1.0" stroke-linecap="butt"/>
<text x="198.60" y="506.43" font-size="6.5" text-anchor="end">60</text>
<line x1="201.50" y1="520.16" x2="204.50" y2="520.16" stroke="#231f20" stroke-width="1.0" stroke-linecap="butt"/>
<text x="198.60" y="522.50" font-size="6.5" text-anchor="end">40</text>
<line x1="201.50" y1="536.23" x2="204.50" y2="536.23" stroke="#231f20" stroke-width="1.0" stroke-linecap="butt"/>
<text x="198.60" y="538.57" font-size="6.5" text-anchor="end">20</text>
<line x1="201.50" y1="552.30" x2="204.50" y2="552.30" stroke="#231f20" stroke-width="1.0" stroke-linecap="butt"/>
<text x="198.60" y="554.64" font-size="6.5" text-anchor="end">0</text>
<line x1="202.50" y1="479.98" x2="204.50" y2="479.98" stroke="#231f20" stroke-width="0.8" stroke-linecap="butt"/>
<line x1="202.50" y1="496.05" x2="204.50" y2="496.05" stroke="#231f20" stroke-width="0.8" stroke-linecap="butt"/>
<line x1="202.50" y1="512.12" x2="204.50" y2="512.12" stroke="#231f20" stroke-width="0.8" stroke-linecap="butt"/>
<line x1="202.50" y1="528.19" x2="204.50" y2="528.19" stroke="#231f20" stroke-width="0.8" stroke-linecap="butt"/>
<line x1="202.50" y1="544.26" x2="204.50" y2="544.26" stroke="#231f20" stroke-width="0.8" stroke-linecap="butt"/>
<line x1="203.90" y1="552.80" x2="336.60" y2="552.80" stroke="#231f20" stroke-width="1.8" stroke-linecap="butt"/>
<line x1="204.60" y1="552.80" x2="204.60" y2="555.80" stroke="#231f20" stroke-width="1.0" stroke-linecap="butt"/>
<text x="204.60" y="563.50" font-size="6.5" text-anchor="middle">0</text>
<line x1="217.43" y1="552.80" x2="217.43" y2="555.80" stroke="#231f20" stroke-width="1.0" stroke-linecap="butt"/>
<text x="217.43" y="563.50" font-size="6.5" text-anchor="middle">20</text>
<line x1="230.26" y1="552.80" x2="230.26" y2="555.80" stroke="#231f20" stroke-width="1.0" stroke-linecap="butt"/>
<text x="230.26" y="563.50" font-size="6.5" text-anchor="middle">40</text>
<line x1="243.09" y1="552.80" x2="243.09" y2="555.80" stroke="#231f20" stroke-width="1.0" stroke-linecap="butt"/>
<text x="243.09" y="563.50" font-size="6.5" text-anchor="middle">60</text>
<line x1="255.92" y1="552.80" x2="255.92" y2="555.80" stroke="#231f20" stroke-width="1.0" stroke-linecap="butt"/>
<text x="255.92" y="563.50" font-size="6.5" text-anchor="middle">80</text>
<line x1="268.75" y1="552.80" x2="268.75" y2="555.80" stroke="#231f20" stroke-width="1.0" stroke-linecap="butt"/>
<text x="268.75" y="563.50" font-size="6.5" text-anchor="middle">100</text>
<line x1="281.58" y1="552.80" x2="281.58" y2="555.80" stroke="#231f20" stroke-width="1.0" stroke-linecap="butt"/>
<text x="281.58" y="563.50" font-size="6.5" text-anchor="middle">120</text>
<line x1="294.41" y1="552.80" x2="294.41" y2="555.80" stroke="#231f20" stroke-width="1.0" stroke-linecap="butt"/>
<text x="294.41" y="563.50" font-size="6.5" text-anchor="middle">140</text>
<line x1="307.24" y1="552.80" x2="307.24" y2="555.80" stroke="#231f20" stroke-width="1.0" stroke-linecap="butt"/>
<text x="307.24" y="563.50" font-size="6.5" text-anchor="middle">160</text>
<line x1="320.07" y1="552.80" x2="320.07" y2="555.80" stroke="#231f20" stroke-width="1.0" stroke-linecap="butt"/>
<text x="320.07" y="563.50" font-size="6.5" text-anchor="middle">180</text>
<line x1="332.90" y1="552.80" x2="332.90" y2="555.80" stroke="#231f20" stroke-width="1.0" stroke-linecap="butt"/>
<text x="332.90" y="563.50" font-size="6.5" text-anchor="middle">200</text>
<text x="184.00" y="509.20" font-size="8.6" text-anchor="middle" fill="#333" textLength="101.00" lengthAdjust="spacingAndGlyphs" transform="rotate(-90 184.00 509.20)">Progression-free survival (%)</text>
<text x="265.80" y="459.30" font-size="10.2" text-anchor="middle" font-weight="bold" fill="#000" textLength="57.20" lengthAdjust="spacingAndGlyphs">ABC-DLBCL</text>
<text x="268.30" y="576.60" font-size="8.6" text-anchor="middle" textLength="47.40" lengthAdjust="spacingAndGlyphs">Time (months)</text>
<path d="M204.60,471.95H206.52V473.13H208.45V474.31H210.37V475.49H211.34V476.47H212.30V477.46H213.26V478.45H214.22V479.43H215.18V480.42H216.15V481.41H217.11V482.40H217.89V483.50H218.67V484.60H219.45V485.70H220.23V486.80H221.00V487.91H221.78V489.01H222.56V490.11H232.83V490.99H233.68V492.00H234.54V493.00H235.39V494.01H236.25V495.01H237.10V496.01H237.96V497.02H244.05V497.86H250.15V498.71H253.67V500.47H257.20V505.70H259.77V511.72H268.43V519.52H284.79" fill="none" stroke="#4fa040" stroke-width="1.3"/>
<path d="M204.60,471.95H207.62V480.79H210.18V491.23H224.94V491.23H228.34V498.87H232.83V506.50H237.06V511.88H252.71V519.68H264.90V552.30H264.90" fill="none" stroke="#2d2f7e" stroke-width="1.3"/>
<path d="M204.60,471.95H204.92V473.02H205.24V474.09H205.56V475.16H205.88V476.24H206.20V477.31H206.52V478.38H206.81V479.45H207.09V480.52H207.38V481.59H207.66V482.66H207.95V483.73H208.24V484.81H208.52V485.88H208.81V486.95H209.09V488.02H209.49V489.08H209.90V490.13H210.30V491.19H210.70V492.24H211.11V493.30H211.51V494.36H211.91V495.41H212.63V496.50H213.35V497.60H214.07V498.69H214.79V499.78H215.51V500.88H217.79V501.95H220.08V503.02H222.37V504.09H223.86V505.17H225.35V506.26H226.84V507.34H228.34V508.43H231.24V509.39H234.15V510.36H237.06V511.32H238.17V512.29H239.28V513.25H240.40V514.21H241.51V515.18H242.62V516.14H243.73V517.11H245.01V518.14H246.30V519.16H247.58V520.19H248.86V521.22H250.15V522.25H250.95V523.33H251.75V524.42H252.55V525.50H253.35V526.59H262.98" fill="none" stroke="#d0453a" stroke-width="1.2" stroke-dasharray="1.5 1.0"/>
<path d="M204.60,471.95H204.73V473.02H204.86V474.09H204.98V475.16H205.11V476.24H205.24V477.31H205.37V478.38H205.50V479.45H205.63V480.52H205.75V481.59H205.88V482.66H206.01V483.73H206.14V484.81H206.27V485.88H206.40V486.95H206.52V488.02H206.81V489.07H207.09V490.12H207.37V491.17H207.65V492.22H207.93V493.27H208.21V494.32H208.49V495.38H208.77V496.43H209.06V497.48H209.34V498.53H209.62V499.58H209.90V500.63H210.18V501.68H210.52V502.72H210.86V503.77H211.20V504.81H211.54V505.86H211.88V506.90H212.22V507.95H212.56V508.99H212.90V510.04H213.24V511.08H213.58V512.12H214.44V513.25H215.29V514.37H216.15V515.50H217.00V516.62H217.86V517.75H218.71V518.87H220.21V519.89H221.71V520.91H223.20V521.93H224.70V522.95H226.20V523.96H227.69V524.98H229.57V525.99H231.44V527.01H233.31V528.02H235.19V529.03H237.06V530.04H239.28V531.22H241.51V532.40H243.73V533.58H246.43V534.46H249.12V535.35H251.81V536.23H262.98" fill="none" stroke="#f2a644" stroke-width="1.2" stroke-dasharray="1.5 1.0"/>
<text x="287.80" y="521.00" font-size="5.6" fill="#5e8a56">1.</text>
<text x="258.60" y="516.70" font-size="5.6" fill="#4b4c78">2.</text>
<text x="267.00" y="529.00" font-size="5.6" fill="#a55852">3.</text>
<text x="257.20" y="534.60" font-size="5.6" fill="#b68a4a">4.</text>
<text x="251.60" y="472.80" font-size="5.5" fill="#5e8a56">1.</text>
<line x1="256.50" y1="470.80" x2="263.50" y2="470.80" stroke="#4fa040" stroke-width="0.9" stroke-linecap="butt"/>
<path d="M258.70,471.20L260.00,469.20L261.30,471.20Z" fill="#4fa040"/>
<text x="266.90" y="472.80" font-size="5.5" textLength="72.50" lengthAdjust="spacingAndGlyphs"><tspan font-style="italic">CD20-mRNA</tspan><tspan font-size="3.3" dy="-2.1">high</tspan><tspan dy="2.1"> CD37</tspan><tspan font-size="3.3" dy="-2.1">+</tspan><tspan dy="2.1"> (n=76)</tspan></text>
<text x="251.60" y="480.55" font-size="5.5" fill="#4b4c78">2.</text>
<line x1="256.50" y1="478.55" x2="263.50" y2="478.55" stroke="#2d2f7e" stroke-width="0.9" stroke-linecap="butt"/>
<path d="M258.70,478.95L260.00,476.95L261.30,478.95Z" fill="#2d2f7e"/>
<text x="266.90" y="480.55" font-size="5.5" textLength="72.50" lengthAdjust="spacingAndGlyphs"><tspan font-style="italic">CD20-mRNA</tspan><tspan font-size="3.3" dy="-2.1">low</tspan><tspan dy="2.1"> CD37</tspan><tspan font-size="3.3" dy="-2.1">+</tspan><tspan dy="2.1"> (n=29)</tspan></text>
<text x="251.60" y="488.30" font-size="5.5" fill="#a55852">3.</text>
<line x1="256.50" y1="486.30" x2="263.50" y2="486.30" stroke="#d0453a" stroke-width="0.9" stroke-linecap="butt" stroke-dasharray="1.2 0.8"/>
<path d="M258.70,486.70L260.00,484.70L261.30,486.70Z" fill="#d0453a"/>
<text x="266.90" y="488.30" font-size="5.5" textLength="72.50" lengthAdjust="spacingAndGlyphs"><tspan font-style="italic">CD20-mRNA</tspan><tspan font-size="3.3" dy="-2.1">high</tspan><tspan dy="2.1"> CD37</tspan><tspan font-size="3.3" dy="-2.1">&#8722;</tspan><tspan dy="2.1"> (n=59)</tspan></text>
<text x="251.60" y="496.05" font-size="5.5" fill="#b68a4a">4.</text>
<line x1="256.50" y1="494.05" x2="263.50" y2="494.05" stroke="#f0a02a" stroke-width="0.9" stroke-linecap="butt" stroke-dasharray="1.2 0.8"/>
<path d="M258.70,494.45L260.00,492.45L261.30,494.45Z" fill="#f0a02a"/>
<text x="266.90" y="496.05" font-size="5.5" textLength="72.50" lengthAdjust="spacingAndGlyphs"><tspan font-style="italic">CD20-mRNA</tspan><tspan font-size="3.3" dy="-2.1">low</tspan><tspan dy="2.1"> CD37</tspan><tspan font-size="3.3" dy="-2.1">&#8722;</tspan><tspan dy="2.1"> (n=53)</tspan></text>
<text x="206.50" y="544.20" font-size="5.6" font-weight="bold" textLength="85.30" lengthAdjust="spacingAndGlyphs">1 vs. 3: <tspan font-style="italic">P</tspan>= .0006; 2 vs. 4: <tspan font-style="italic">P</tspan>= .023;</text>
<text x="206.50" y="551.10" font-size="5.6" textLength="79.20" lengthAdjust="spacingAndGlyphs">1 vs. 2: <tspan font-style="italic">P</tspan>= .032; 3 vs. 4: <tspan font-style="italic">P</tspan>= .093</text>
<line x1="380.00" y1="339.70" x2="380.00" y2="420.20" stroke="#231f20" stroke-width="1.8" stroke-linecap="butt"/>
<line x1="377.00" y1="341.90" x2="380.00" y2="341.90" stroke="#231f20" stroke-width="1.0" stroke-linecap="butt"/>
<text x="374.10" y="344.24" font-size="6.5" text-anchor="end">100</text>
<line x1="377.00" y1="357.36" x2="380.00" y2="357.36" stroke="#231f20" stroke-width="1.0" stroke-linecap="butt"/>
<text x="374.10" y="359.70" font-size="6.5" text-anchor="end">80</text>
<line x1="377.00" y1="372.82" x2="380.00" y2="372.82" stroke="#231f20" stroke-width="1.0" stroke-linecap="butt"/>
<text x="374.10" y="375.16" font-size="6.5" text-anchor="end">60</text>
<line x1="377.00" y1="388.28" x2="380.00" y2="388.28" stroke="#231f20" stroke-width="1.0" stroke-linecap="butt"/>
<text x="374.10" y="390.62" font-size="6.5" text-anchor="end">40</text>
<line x1="377.00" y1="403.74" x2="380.00" y2="403.74" stroke="#231f20" stroke-width="1.0" stroke-linecap="butt"/>
<text x="374.10" y="406.08" font-size="6.5" text-anchor="end">20</text>
<line x1="377.00" y1="419.20" x2="380.00" y2="419.20" stroke="#231f20" stroke-width="1.0" stroke-linecap="butt"/>
<text x="374.10" y="421.54" font-size="6.5" text-anchor="end">0</text>
<line x1="378.00" y1="349.63" x2="380.00" y2="349.63" stroke="#231f20" stroke-width="0.8" stroke-linecap="butt"/>
<line x1="378.00" y1="365.09" x2="380.00" y2="365.09" stroke="#231f20" stroke-width="0.8" stroke-linecap="butt"/>
<line x1="378.00" y1="380.55" x2="380.00" y2="380.55" stroke="#231f20" stroke-width="0.8" stroke-linecap="butt"/>
<line x1="378.00" y1="396.01" x2="380.00" y2="396.01" stroke="#231f20" stroke-width="0.8" stroke-linecap="butt"/>
<line x1="378.00" y1="411.47" x2="380.00" y2="411.47" stroke="#231f20" stroke-width="0.8" stroke-linecap="butt"/>
<line x1="379.40" y1="419.60" x2="510.20" y2="419.60" stroke="#231f20" stroke-width="1.8" stroke-linecap="butt"/>
<line x1="380.00" y1="419.60" x2="380.00" y2="422.60" stroke="#231f20" stroke-width="1.0" stroke-linecap="butt"/>
<text x="380.00" y="429.60" font-size="6.5" text-anchor="middle">0</text>
<line x1="405.26" y1="419.60" x2="405.26" y2="422.60" stroke="#231f20" stroke-width="1.0" stroke-linecap="butt"/>
<text x="405.26" y="429.60" font-size="6.5" text-anchor="middle">60</text>
<line x1="430.52" y1="419.60" x2="430.52" y2="422.60" stroke="#231f20" stroke-width="1.0" stroke-linecap="butt"/>
<text x="430.52" y="429.60" font-size="6.5" text-anchor="middle">120</text>
<line x1="455.78" y1="419.60" x2="455.78" y2="422.60" stroke="#231f20" stroke-width="1.0" stroke-linecap="butt"/>
<text x="455.78" y="429.60" font-size="6.5" text-anchor="middle">180</text>
<line x1="481.04" y1="419.60" x2="481.04" y2="422.60" stroke="#231f20" stroke-width="1.0" stroke-linecap="butt"/>
<text x="481.04" y="429.60" font-size="6.5" text-anchor="middle">240</text>
<line x1="506.30" y1="419.60" x2="506.30" y2="422.60" stroke="#231f20" stroke-width="1.0" stroke-linecap="butt"/>
<text x="506.30" y="429.60" font-size="6.5" text-anchor="middle">300</text>
<text x="359.30" y="378.90" font-size="8.6" text-anchor="middle" fill="#333" textLength="101.40" lengthAdjust="spacingAndGlyphs" transform="rotate(-90 359.30 378.90)">Progression-free survival (%)</text>
<text x="445.70" y="322.60" font-size="10.2" text-anchor="middle" font-weight="bold" fill="#000" textLength="99.60" lengthAdjust="spacingAndGlyphs">CHOP-treated DLBCL</text>
<path d="M380.00,348.08H380.53V349.13H381.05V350.17H381.58V351.21H382.11V352.26H382.57V353.31H383.03V354.36H383.49V355.41H383.96V356.46H384.42V357.51H385.05V358.60H385.68V359.68H386.31V360.76H386.95V361.84H387.58V362.93H388.34V363.85H389.09V364.78H389.85V365.71H390.61V366.64H391.37V367.56H392.03V368.54H392.69V369.51H393.35V370.48H394.01V371.45H394.67V372.42H395.34V373.39H396.00V374.37H398.31V375.14H400.63V375.91H402.45V376.94H404.28V377.97H406.10V379.00H412.84V380.24H415.15V381.17H417.47V382.10H418.27V383.06H419.07V384.03H419.87V384.99H420.67V385.96H426.73V386.73H427.66V387.82H428.58V388.90H429.51V389.98H430.44V391.06H431.36V392.14H434.31V392.92H437.26V393.69H440.41V394.46H443.57V395.24H450.31V396.01H451.68V397.05H453.04V398.10H454.41V399.14H455.78V400.18H457.88V401.27H459.99V402.35H462.10V403.43H464.20V404.51H465.18V405.44H466.16V406.37H467.15V407.30H468.41V409.92H481.04V419.20H481.04" fill="none" stroke="#2d2f7e" stroke-width="1.25"/>
<path d="M380.00,352.72H380.05V353.75H380.09V354.78H380.14V355.81H380.19V356.84H380.23V357.88H380.28V358.91H380.33V359.94H380.37V360.97H380.42V362.00H380.57V362.98H380.73V363.97H380.88V364.95H381.03V365.93H381.19V366.92H381.34V367.90H381.49V368.88H381.65V369.87H381.80V370.85H381.95V371.84H382.11V372.82H382.49V373.85H382.88V374.88H383.26V375.91H383.65V376.94H384.03V377.97H384.42V379.00H385.21V379.97H386.00V380.94H386.79V381.90H387.58V382.87H388.84V383.90H390.10V384.93H391.37V385.96H393.42V386.99H395.46V388.02H397.51V389.05H399.81V390.02H402.10V390.99H404.40V391.95H406.69V392.92H408.51V393.85H410.33V394.77H412.15V395.70H413.97V396.63H415.78V397.56H417.05V398.48H418.31V399.41H419.57V400.34H420.84V401.27H422.10V402.19H425.89V402.97H429.68V403.74H437.26V404.51H440.41V405.67H443.57V406.83H465.04V406.60H470.41V407.62H475.78V408.65H481.15V409.67H486.51V410.70H488.41V409.92H490.30V409.15H496.62V409.92H496.62" fill="none" stroke="#f0a02a" stroke-width="1.3" stroke-dasharray="2.3 1.3"/>
<line x1="441.90" y1="341.80" x2="448.00" y2="341.80" stroke="#2d2f7e" stroke-width="0.9" stroke-linecap="butt"/>
<path d="M443.65,342.20L444.95,340.20L446.25,342.20Z" fill="#2d2f7e"/>
<line x1="441.90" y1="350.20" x2="448.00" y2="350.20" stroke="#f0a02a" stroke-width="0.9" stroke-linecap="butt" stroke-dasharray="1.5 1"/>
<path d="M443.65,350.60L444.95,348.60L446.25,350.60Z" fill="#f0a02a"/>
<text x="449.70" y="343.80" font-size="5.5" textLength="38.20" lengthAdjust="spacingAndGlyphs">CD37<tspan font-size="3.30" dy="-2.09">+</tspan><tspan dy="2.09"> </tspan>(n=64)</text>
<text x="449.70" y="352.20" font-size="5.5" textLength="40.50" lengthAdjust="spacingAndGlyphs">CD37<tspan font-size="3.30" dy="-2.09">&#8722;</tspan><tspan dy="2.09"> </tspan>(n=167)</text>
<text x="412.60" y="366.10" font-size="5.6" font-weight="bold" textLength="95.70" lengthAdjust="spacingAndGlyphs">HR (95% CI): 1.51 (1.09-2.01), <tspan font-style="italic">P</tspan>=0.013</text>
<line x1="379.90" y1="470.40" x2="379.90" y2="553.60" stroke="#231f20" stroke-width="1.8" stroke-linecap="butt"/>
<line x1="376.90" y1="473.80" x2="379.90" y2="473.80" stroke="#231f20" stroke-width="1.0" stroke-linecap="butt"/>
<text x="374.00" y="476.14" font-size="6.5" text-anchor="end">100</text>
<line x1="376.90" y1="489.60" x2="379.90" y2="489.60" stroke="#231f20" stroke-width="1.0" stroke-linecap="butt"/>
<text x="374.00" y="491.94" font-size="6.5" text-anchor="end">80</text>
<line x1="376.90" y1="505.40" x2="379.90" y2="505.40" stroke="#231f20" stroke-width="1.0" stroke-linecap="butt"/>
<text x="374.00" y="507.74" font-size="6.5" text-anchor="end">60</text>
<line x1="376.90" y1="521.20" x2="379.90" y2="521.20" stroke="#231f20" stroke-width="1.0" stroke-linecap="butt"/>
<text x="374.00" y="523.54" font-size="6.5" text-anchor="end">40</text>
<line x1="376.90" y1="537.00" x2="379.90" y2="537.00" stroke="#231f20" stroke-width="1.0" stroke-linecap="butt"/>
<text x="374.00" y="539.34" font-size="6.5" text-anchor="end">20</text>
<line x1="376.90" y1="552.80" x2="379.90" y2="552.80" stroke="#231f20" stroke-width="1.0" stroke-linecap="butt"/>
<text x="374.00" y="555.14" font-size="6.5" text-anchor="end">0</text>
<line x1="377.90" y1="481.70" x2="379.90" y2="481.70" stroke="#231f20" stroke-width="0.8" stroke-linecap="butt"/>
<line x1="377.90" y1="497.50" x2="379.90" y2="497.50" stroke="#231f20" stroke-width="0.8" stroke-linecap="butt"/>
<line x1="377.90" y1="513.30" x2="379.90" y2="513.30" stroke="#231f20" stroke-width="0.8" stroke-linecap="butt"/>
<line x1="377.90" y1="529.10" x2="379.90" y2="529.10" stroke="#231f20" stroke-width="0.8" stroke-linecap="butt"/>
<line x1="377.90" y1="544.90" x2="379.90" y2="544.90" stroke="#231f20" stroke-width="0.8" stroke-linecap="butt"/>
<line x1="379.30" y1="553.00" x2="508.30" y2="553.00" stroke="#231f20" stroke-width="1.8" stroke-linecap="butt"/>
<line x1="380.20" y1="553.00" x2="380.20" y2="556.00" stroke="#231f20" stroke-width="1.0" stroke-linecap="butt"/>
<text x="380.20" y="563.50" font-size="6.5" text-anchor="middle">0</text>
<line x1="392.54" y1="553.00" x2="392.54" y2="556.00" stroke="#231f20" stroke-width="1.0" stroke-linecap="butt"/>
<text x="392.54" y="563.50" font-size="6.5" text-anchor="middle">20</text>
<line x1="404.88" y1="553.00" x2="404.88" y2="556.00" stroke="#231f20" stroke-width="1.0" stroke-linecap="butt"/>
<text x="404.88" y="563.50" font-size="6.5" text-anchor="middle">40</text>
<line x1="417.22" y1="553.00" x2="417.22" y2="556.00" stroke="#231f20" stroke-width="1.0" stroke-linecap="butt"/>
<text x="417.22" y="563.50" font-size="6.5" text-anchor="middle">60</text>
<line x1="429.56" y1="553.00" x2="429.56" y2="556.00" stroke="#231f20" stroke-width="1.0" stroke-linecap="butt"/>
<text x="429.56" y="563.50" font-size="6.5" text-anchor="middle">80</text>
<line x1="441.90" y1="553.00" x2="441.90" y2="556.00" stroke="#231f20" stroke-width="1.0" stroke-linecap="butt"/>
<text x="441.90" y="563.50" font-size="6.5" text-anchor="middle">100</text>
<line x1="454.24" y1="553.00" x2="454.24" y2="556.00" stroke="#231f20" stroke-width="1.0" stroke-linecap="butt"/>
<text x="454.24" y="563.50" font-size="6.5" text-anchor="middle">120</text>
<line x1="466.58" y1="553.00" x2="466.58" y2="556.00" stroke="#231f20" stroke-width="1.0" stroke-linecap="butt"/>
<text x="466.58" y="563.50" font-size="6.5" text-anchor="middle">140</text>
<line x1="478.92" y1="553.00" x2="478.92" y2="556.00" stroke="#231f20" stroke-width="1.0" stroke-linecap="butt"/>
<text x="478.92" y="563.50" font-size="6.5" text-anchor="middle">160</text>
<line x1="491.26" y1="553.00" x2="491.26" y2="556.00" stroke="#231f20" stroke-width="1.0" stroke-linecap="butt"/>
<text x="491.26" y="563.50" font-size="6.5" text-anchor="middle">180</text>
<line x1="503.60" y1="553.00" x2="503.60" y2="556.00" stroke="#231f20" stroke-width="1.0" stroke-linecap="butt"/>
<text x="503.60" y="563.50" font-size="6.5" text-anchor="middle">200</text>
<text x="359.30" y="511.70" font-size="8.6" text-anchor="middle" fill="#333" textLength="101.00" lengthAdjust="spacingAndGlyphs" transform="rotate(-90 359.30 511.70)">Progression-free survival (%)</text>
<text x="445.70" y="459.30" font-size="10.2" text-anchor="middle" font-weight="bold" fill="#000" textLength="99.60" lengthAdjust="spacingAndGlyphs">CHOP-treated DLBCL</text>
<text x="441.90" y="576.60" font-size="8.6" text-anchor="middle" textLength="47.40" lengthAdjust="spacingAndGlyphs">Time (months)</text>
<path d="M380.20,480.91H385.75V481.70H388.22V484.86H392.35V486.76H393.16V491.26H400.56V491.26H404.57V498.84H416.60V502.24H427.71V504.93H439.43V508.09H453.01V512.12H469.66V515.67H479.54V521.20H485.09V525.15H491.88V529.89H504.83" fill="none" stroke="#6cb25a" stroke-width="1.35"/>
<path d="M380.20,477.75H380.45V478.70H380.69V479.65H380.94V480.59H381.19V481.54H381.43V482.49H383.28V482.49H385.44V491.57H387.60V497.50H390.07V502.24H396.24V506.19H401.79V512.51H406.11V515.27H412.90V518.36H417.84V521.99H433.88V525.94H439.43V531.47H440.67V536.45H454.24V539.37H469.66V540.95H486.32V544.90H503.60V548.06H503.60" fill="none" stroke="#e6a25a" stroke-width="1.3"/>
<path d="M380.20,476.96H380.28V478.05H380.35V479.13H380.43V480.22H380.51V481.30H380.59V482.39H380.66V483.48H380.74V484.56H380.82V485.65H380.97V486.70H381.13V487.75H381.28V488.80H381.43V489.85H381.59V490.90H381.74V491.95H381.90V493.00H382.05V494.06H382.21V495.11H382.36V496.16H382.67V497.25H382.98V498.35H383.28V499.44H383.59V500.54H383.90V501.63H384.21V502.73H384.52V503.82H384.90V504.86H385.29V505.89H385.68V506.93H386.06V507.97H386.45V509.00H386.83V510.04H387.22V511.08H387.60V512.12H388.68V513.08H389.76V514.05H390.84V515.02H391.92V515.99H393.88V516.99H395.83V517.99H397.78V518.99H400.10V519.94H402.41V520.88H404.73V521.83H407.04V522.78H410.64V523.83H414.24V524.89H417.84V525.94H422.46V527.12H427.09V528.31H430.18V529.28H433.26V530.26H436.35V531.23H437.58V532.29H438.81V533.35H440.05V534.41H441.28V535.47H442.52V536.53H442.52" fill="none" stroke="#222" stroke-width="1.0" stroke-dasharray="1 0.9"/>
<path d="M442.52,537.00H462.88V537.79H467.20V538.90H471.52V540.00H503.60" fill="none" stroke="#222" stroke-width="1.0" stroke-dasharray="1.6 1.2"/>
<text x="421.00" y="479.10" font-size="5.6" fill="#6cb25a" textLength="67.00" lengthAdjust="spacingAndGlyphs">1. CD37 IHC 10-50% (n=31)</text>
<text x="421.00" y="486.35" font-size="5.6" fill="#e6a25a" textLength="71.00" lengthAdjust="spacingAndGlyphs">2. CD37 IHC 60-100% (n=33)</text>
<text x="421.00" y="493.60" font-size="5.6" fill="#222" textLength="61.40" lengthAdjust="spacingAndGlyphs">3. CD37 IHC 0% (n=167)</text>
<text x="382.00" y="548.80" font-size="5.6" font-weight="bold" textLength="81.70" lengthAdjust="spacingAndGlyphs">1 vs. 2: <tspan font-style="italic">P</tspan>= .02; 1 vs. 3: <tspan font-style="italic">P</tspan>= .0025</text>
<line x1="0" y1="0.6" x2="520" y2="0.6" stroke="#000" stroke-width="1.2"/>
<line x1="0.55" y1="0" x2="0.55" y2="586" stroke="#000" stroke-width="1.1"/>
<line x1="519.3" y1="0" x2="519.3" y2="586" stroke="#000" stroke-width="1.4"/>
<line x1="0" y1="584.9" x2="520" y2="584.9" stroke="#000" stroke-width="2.2"/>
</svg></body></html>
